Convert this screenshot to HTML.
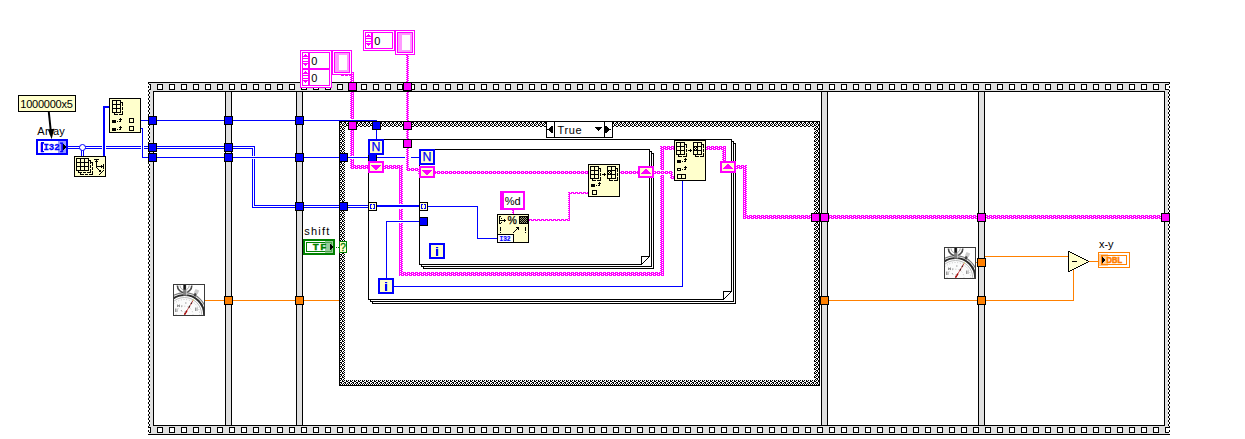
<!DOCTYPE html>
<html lang="en">
<head>
<meta charset="utf-8">
<title>Block diagram</title>
<style>
html,body{margin:0;padding:0;background:#fff;overflow:hidden}
svg{display:block}
text{font-family:"Liberation Sans",sans-serif;white-space:pre}
</style>
</head>
<body>
<svg width="1245" height="439" viewBox="0 0 1245 439">
<g shape-rendering="crispEdges">
<path fill="#000000" d="M148 82h152v1h-152zM332 82h838v1h-838zM148 83h1v1h-1zM348 83h1v7h-1zM356 83h1v7h-1zM403 83h1v1h-1zM411 83h1v1h-1zM1169 83h1v1h-1zM149 84h2v1h-2zM157 84h6v1h-6zM169 84h6v1h-6zM181 84h6v1h-6zM193 84h6v1h-6zM205 84h6v1h-6zM217 84h6v1h-6zM229 84h6v1h-6zM241 84h6v1h-6zM253 84h6v1h-6zM265 84h6v1h-6zM277 84h6v1h-6zM289 84h6v1h-6zM337 84h6v1h-6zM361 84h6v1h-6zM373 84h6v1h-6zM385 84h6v1h-6zM397 84h7v1h-7zM411 84h4v1h-4zM421 84h6v1h-6zM433 84h6v1h-6zM445 84h6v1h-6zM457 84h6v1h-6zM469 84h6v1h-6zM481 84h6v1h-6zM493 84h6v1h-6zM505 84h6v1h-6zM517 84h6v1h-6zM529 84h6v1h-6zM541 84h6v1h-6zM553 84h6v1h-6zM565 84h6v1h-6zM577 84h6v1h-6zM589 84h6v1h-6zM601 84h6v1h-6zM613 84h6v1h-6zM625 84h6v1h-6zM637 84h6v1h-6zM649 84h6v1h-6zM661 84h6v1h-6zM673 84h6v1h-6zM685 84h6v1h-6zM697 84h6v1h-6zM709 84h6v1h-6zM721 84h6v1h-6zM733 84h6v1h-6zM745 84h6v1h-6zM757 84h6v1h-6zM769 84h6v1h-6zM781 84h6v1h-6zM793 84h6v1h-6zM805 84h6v1h-6zM817 84h6v1h-6zM829 84h6v1h-6zM841 84h6v1h-6zM853 84h6v1h-6zM865 84h6v1h-6zM877 84h6v1h-6zM889 84h6v1h-6zM901 84h6v1h-6zM913 84h6v1h-6zM925 84h6v1h-6zM937 84h6v1h-6zM949 84h6v1h-6zM961 84h6v1h-6zM973 84h6v1h-6zM985 84h6v1h-6zM997 84h6v1h-6zM1009 84h6v1h-6zM1021 84h6v1h-6zM1033 84h6v1h-6zM1045 84h6v1h-6zM1057 84h6v1h-6zM1069 84h6v1h-6zM1081 84h6v1h-6zM1093 84h6v1h-6zM1105 84h6v1h-6zM1117 84h6v1h-6zM1129 84h6v1h-6zM1141 84h6v1h-6zM1153 84h6v1h-6zM1165 84h4v1h-4zM150 85h1v4h-1zM157 85h1v4h-1zM162 85h1v4h-1zM169 85h1v4h-1zM174 85h1v4h-1zM181 85h1v4h-1zM186 85h1v4h-1zM193 85h1v4h-1zM198 85h1v4h-1zM205 85h1v4h-1zM210 85h1v4h-1zM217 85h1v4h-1zM222 85h1v4h-1zM229 85h1v4h-1zM234 85h1v4h-1zM241 85h1v4h-1zM246 85h1v4h-1zM253 85h1v4h-1zM258 85h1v4h-1zM265 85h1v4h-1zM270 85h1v4h-1zM277 85h1v4h-1zM282 85h1v4h-1zM289 85h1v4h-1zM294 85h1v4h-1zM337 85h1v4h-1zM342 85h1v4h-1zM361 85h1v4h-1zM366 85h1v4h-1zM373 85h1v4h-1zM378 85h1v4h-1zM385 85h1v4h-1zM390 85h1v4h-1zM397 85h1v4h-1zM402 85h2v4h-2zM411 85h1v4h-1zM414 85h1v4h-1zM421 85h1v4h-1zM426 85h1v4h-1zM433 85h1v4h-1zM438 85h1v4h-1zM445 85h1v4h-1zM450 85h1v4h-1zM457 85h1v4h-1zM462 85h1v4h-1zM469 85h1v4h-1zM474 85h1v4h-1zM481 85h1v4h-1zM486 85h1v4h-1zM493 85h1v4h-1zM498 85h1v4h-1zM505 85h1v4h-1zM510 85h1v4h-1zM517 85h1v4h-1zM522 85h1v4h-1zM529 85h1v4h-1zM534 85h1v4h-1zM541 85h1v4h-1zM546 85h1v4h-1zM553 85h1v4h-1zM558 85h1v4h-1zM565 85h1v4h-1zM570 85h1v4h-1zM577 85h1v4h-1zM582 85h1v4h-1zM589 85h1v4h-1zM594 85h1v4h-1zM601 85h1v4h-1zM606 85h1v4h-1zM613 85h1v4h-1zM618 85h1v4h-1zM625 85h1v4h-1zM630 85h1v4h-1zM637 85h1v4h-1zM642 85h1v4h-1zM649 85h1v4h-1zM654 85h1v4h-1zM661 85h1v4h-1zM666 85h1v4h-1zM673 85h1v4h-1zM678 85h1v4h-1zM685 85h1v4h-1zM690 85h1v4h-1zM697 85h1v4h-1zM702 85h1v4h-1zM709 85h1v4h-1zM714 85h1v4h-1zM721 85h1v4h-1zM726 85h1v4h-1zM733 85h1v4h-1zM738 85h1v4h-1zM745 85h1v4h-1zM750 85h1v4h-1zM757 85h1v4h-1zM762 85h1v4h-1zM769 85h1v4h-1zM774 85h1v4h-1zM781 85h1v4h-1zM786 85h1v4h-1zM793 85h1v4h-1zM798 85h1v4h-1zM805 85h1v4h-1zM810 85h1v4h-1zM817 85h1v4h-1zM822 85h1v4h-1zM829 85h1v4h-1zM834 85h1v4h-1zM841 85h1v4h-1zM846 85h1v4h-1zM853 85h1v4h-1zM858 85h1v4h-1zM865 85h1v4h-1zM870 85h1v4h-1zM877 85h1v4h-1zM882 85h1v4h-1zM889 85h1v4h-1zM894 85h1v4h-1zM901 85h1v4h-1zM906 85h1v4h-1zM913 85h1v4h-1zM918 85h1v4h-1zM925 85h1v4h-1zM930 85h1v4h-1zM937 85h1v4h-1zM942 85h1v4h-1zM949 85h1v4h-1zM954 85h1v4h-1zM961 85h1v4h-1zM966 85h1v4h-1zM973 85h1v4h-1zM978 85h1v4h-1zM985 85h1v4h-1zM990 85h1v4h-1zM997 85h1v4h-1zM1002 85h1v4h-1zM1009 85h1v4h-1zM1014 85h1v4h-1zM1021 85h1v4h-1zM1026 85h1v4h-1zM1033 85h1v4h-1zM1038 85h1v4h-1zM1045 85h1v4h-1zM1050 85h1v4h-1zM1057 85h1v4h-1zM1062 85h1v4h-1zM1069 85h1v4h-1zM1074 85h1v4h-1zM1081 85h1v4h-1zM1086 85h1v4h-1zM1093 85h1v4h-1zM1098 85h1v4h-1zM1105 85h1v4h-1zM1110 85h1v4h-1zM1117 85h1v4h-1zM1122 85h1v4h-1zM1129 85h1v4h-1zM1134 85h1v4h-1zM1141 85h1v4h-1zM1146 85h1v4h-1zM1153 85h1v4h-1zM1158 85h1v4h-1zM1165 85h1v4h-1zM148 86h1v2h-1zM1169 86h1v2h-1zM301 88h1v1h-1zM306 88h1v1h-1zM313 88h1v1h-1zM318 88h1v1h-1zM325 88h1v1h-1zM330 88h1v1h-1zM149 89h2v1h-2zM157 89h6v1h-6zM169 89h6v1h-6zM181 89h6v1h-6zM193 89h6v1h-6zM205 89h6v1h-6zM217 89h6v1h-6zM229 89h6v1h-6zM241 89h6v1h-6zM253 89h6v1h-6zM265 89h6v1h-6zM277 89h6v1h-6zM289 89h6v1h-6zM301 89h6v1h-6zM313 89h6v1h-6zM325 89h6v1h-6zM337 89h6v1h-6zM361 89h6v1h-6zM373 89h6v1h-6zM385 89h6v1h-6zM397 89h7v1h-7zM411 89h4v1h-4zM421 89h6v1h-6zM433 89h6v1h-6zM445 89h6v1h-6zM457 89h6v1h-6zM469 89h6v1h-6zM481 89h6v1h-6zM493 89h6v1h-6zM505 89h6v1h-6zM517 89h6v1h-6zM529 89h6v1h-6zM541 89h6v1h-6zM553 89h6v1h-6zM565 89h6v1h-6zM577 89h6v1h-6zM589 89h6v1h-6zM601 89h6v1h-6zM613 89h6v1h-6zM625 89h6v1h-6zM637 89h6v1h-6zM649 89h6v1h-6zM661 89h6v1h-6zM673 89h6v1h-6zM685 89h6v1h-6zM697 89h6v1h-6zM709 89h6v1h-6zM721 89h6v1h-6zM733 89h6v1h-6zM745 89h6v1h-6zM757 89h6v1h-6zM769 89h6v1h-6zM781 89h6v1h-6zM793 89h6v1h-6zM805 89h6v1h-6zM817 89h6v1h-6zM829 89h6v1h-6zM841 89h6v1h-6zM853 89h6v1h-6zM865 89h6v1h-6zM877 89h6v1h-6zM889 89h6v1h-6zM901 89h6v1h-6zM913 89h6v1h-6zM925 89h6v1h-6zM937 89h6v1h-6zM949 89h6v1h-6zM961 89h6v1h-6zM973 89h6v1h-6zM985 89h6v1h-6zM997 89h6v1h-6zM1009 89h6v1h-6zM1021 89h6v1h-6zM1033 89h6v1h-6zM1045 89h6v1h-6zM1057 89h6v1h-6zM1069 89h6v1h-6zM1081 89h6v1h-6zM1093 89h6v1h-6zM1105 89h6v1h-6zM1117 89h6v1h-6zM1129 89h6v1h-6zM1141 89h6v1h-6zM1153 89h6v1h-6zM1165 89h4v1h-4zM148 90h1v2h-1zM348 90h9v1h-9zM403 90h9v1h-9zM1169 90h1v2h-1zM153 91h1012v1h-1012zM149 92h1v2h-1zM153 92h1v24h-1zM225 92h1v24h-1zM231 92h1v24h-1zM296 92h1v24h-1zM302 92h1v24h-1zM821 92h1v121h-1zM827 92h1v121h-1zM978 92h1v121h-1zM984 92h1v121h-1zM1164 92h1v121h-1zM1168 92h1v2h-1zM148 94h1v2h-1zM1169 94h1v2h-1zM18 95h58v1h-58zM18 96h1v15h-1zM75 96h1v15h-1zM149 96h1v2h-1zM1168 96h1v2h-1zM109 98h32v1h-32zM148 98h1v2h-1zM1169 98h1v2h-1zM109 99h1v33h-1zM140 99h1v33h-1zM112 100h9v1h-9zM149 100h1v2h-1zM1168 100h1v2h-1zM112 101h1v3h-1zM116 101h1v3h-1zM120 101h1v1h-1zM120 102h3v1h-3zM148 102h1v2h-1zM1169 102h1v2h-1zM120 103h1v1h-1zM122 103h1v3h-1zM112 104h9v1h-9zM149 104h1v2h-1zM1168 104h1v2h-1zM112 105h1v3h-1zM116 105h1v3h-1zM120 105h1v3h-1zM148 106h1v2h-1zM1169 106h1v2h-1zM122 107h1v3h-1zM112 108h9v1h-9zM149 108h1v2h-1zM1168 108h1v2h-1zM112 109h1v3h-1zM116 109h1v3h-1zM120 109h1v3h-1zM148 110h1v2h-1zM1169 110h1v2h-1zM18 111h58v1h-58zM122 111h1v3h-1zM112 112h9v1h-9zM149 112h1v2h-1zM1168 112h1v2h-1zM114 113h1v1h-1zM114 114h4v1h-4zM119 114h4v1h-4zM148 114h1v2h-1zM1169 114h1v2h-1zM148 116h9v1h-9zM224 116h9v1h-9zM295 116h9v1h-9zM1168 116h1v2h-1zM148 117h1v7h-1zM156 117h1v7h-1zM224 117h1v7h-1zM232 117h1v7h-1zM295 117h1v7h-1zM303 117h1v7h-1zM120 118h1v1h-1zM129 118h5v1h-5zM1169 118h1v2h-1zM119 119h3v1h-3zM129 119h1v3h-1zM133 119h1v3h-1zM112 120h4v3h-4zM120 120h1v1h-1zM1168 120h1v2h-1zM117 121h1v1h-1zM119 121h2v1h-2zM339 121h481v1h-481zM129 122h5v1h-5zM339 122h3v1h-3zM344 122h2v1h-2zM348 122h1v1h-1zM356 122h2v2h-2zM360 122h2v1h-2zM364 122h2v1h-2zM368 122h2v1h-2zM372 122h1v1h-1zM380 122h2v2h-2zM384 122h2v1h-2zM388 122h2v1h-2zM392 122h2v1h-2zM396 122h2v1h-2zM400 122h2v1h-2zM403 122h1v2h-1zM411 122h3v1h-3zM416 122h2v1h-2zM420 122h2v1h-2zM424 122h2v1h-2zM428 122h2v1h-2zM432 122h2v1h-2zM436 122h2v1h-2zM440 122h2v1h-2zM444 122h2v1h-2zM448 122h2v1h-2zM452 122h2v1h-2zM456 122h2v1h-2zM460 122h2v1h-2zM464 122h2v1h-2zM468 122h2v1h-2zM472 122h2v1h-2zM476 122h2v1h-2zM480 122h2v1h-2zM484 122h2v1h-2zM488 122h2v1h-2zM492 122h2v1h-2zM496 122h2v1h-2zM500 122h2v1h-2zM504 122h2v1h-2zM508 122h2v1h-2zM512 122h2v1h-2zM516 122h2v1h-2zM520 122h2v1h-2zM524 122h2v1h-2zM528 122h2v1h-2zM532 122h2v1h-2zM536 122h2v1h-2zM540 122h2v1h-2zM544 122h3v1h-3zM554 122h1v15h-1zM604 122h1v4h-1zM612 122h2v2h-2zM616 122h2v1h-2zM620 122h2v1h-2zM624 122h2v1h-2zM628 122h2v1h-2zM632 122h2v1h-2zM636 122h2v1h-2zM640 122h2v1h-2zM644 122h2v1h-2zM648 122h2v1h-2zM652 122h2v1h-2zM656 122h2v1h-2zM660 122h2v1h-2zM664 122h2v1h-2zM668 122h2v1h-2zM672 122h2v1h-2zM676 122h2v1h-2zM680 122h2v1h-2zM684 122h2v1h-2zM688 122h2v1h-2zM692 122h2v1h-2zM696 122h2v1h-2zM700 122h2v1h-2zM704 122h2v1h-2zM708 122h2v1h-2zM712 122h2v1h-2zM716 122h2v1h-2zM720 122h2v1h-2zM724 122h2v1h-2zM728 122h2v1h-2zM732 122h2v1h-2zM736 122h2v1h-2zM740 122h2v1h-2zM744 122h2v1h-2zM748 122h2v1h-2zM752 122h2v1h-2zM756 122h2v1h-2zM760 122h2v1h-2zM764 122h2v1h-2zM768 122h2v1h-2zM772 122h2v1h-2zM776 122h2v1h-2zM780 122h2v1h-2zM784 122h2v1h-2zM788 122h2v1h-2zM792 122h2v1h-2zM796 122h2v1h-2zM800 122h2v1h-2zM804 122h2v1h-2zM808 122h2v1h-2zM812 122h2v1h-2zM816 122h2v1h-2zM819 122h1v2h-1zM1169 122h1v2h-1zM339 123h1v1h-1zM341 123h1v1h-1zM343 123h1v1h-1zM345 123h1v1h-1zM347 123h2v1h-2zM359 123h1v1h-1zM361 123h1v1h-1zM363 123h1v1h-1zM365 123h1v1h-1zM367 123h1v1h-1zM369 123h1v1h-1zM371 123h2v1h-2zM383 123h1v1h-1zM385 123h1v1h-1zM387 123h1v1h-1zM389 123h1v1h-1zM391 123h1v1h-1zM393 123h1v1h-1zM395 123h1v1h-1zM397 123h1v1h-1zM399 123h1v1h-1zM401 123h1v1h-1zM411 123h1v1h-1zM413 123h1v1h-1zM415 123h1v1h-1zM417 123h1v1h-1zM419 123h1v1h-1zM421 123h1v1h-1zM423 123h1v1h-1zM425 123h1v1h-1zM427 123h1v1h-1zM429 123h1v1h-1zM431 123h1v1h-1zM433 123h1v1h-1zM435 123h1v1h-1zM437 123h1v1h-1zM439 123h1v1h-1zM441 123h1v1h-1zM443 123h1v1h-1zM445 123h1v1h-1zM447 123h1v1h-1zM449 123h1v1h-1zM451 123h1v1h-1zM453 123h1v1h-1zM455 123h1v1h-1zM457 123h1v1h-1zM459 123h1v1h-1zM461 123h1v1h-1zM463 123h1v1h-1zM465 123h1v1h-1zM467 123h1v1h-1zM469 123h1v1h-1zM471 123h1v1h-1zM473 123h1v1h-1zM475 123h1v1h-1zM477 123h1v1h-1zM479 123h1v1h-1zM481 123h1v1h-1zM483 123h1v1h-1zM485 123h1v1h-1zM487 123h1v1h-1zM489 123h1v1h-1zM491 123h1v1h-1zM493 123h1v1h-1zM495 123h1v1h-1zM497 123h1v1h-1zM499 123h1v1h-1zM501 123h1v1h-1zM503 123h1v1h-1zM505 123h1v1h-1zM507 123h1v1h-1zM509 123h1v1h-1zM511 123h1v1h-1zM513 123h1v1h-1zM515 123h1v1h-1zM517 123h1v1h-1zM519 123h1v1h-1zM521 123h1v1h-1zM523 123h1v1h-1zM525 123h1v1h-1zM527 123h1v1h-1zM529 123h1v1h-1zM531 123h1v1h-1zM533 123h1v1h-1zM535 123h1v1h-1zM537 123h1v1h-1zM539 123h1v1h-1zM541 123h1v1h-1zM543 123h1v1h-1zM545 123h2v1h-2zM615 123h1v1h-1zM617 123h1v1h-1zM619 123h1v1h-1zM621 123h1v1h-1zM623 123h1v1h-1zM625 123h1v1h-1zM627 123h1v1h-1zM629 123h1v1h-1zM631 123h1v1h-1zM633 123h1v1h-1zM635 123h1v1h-1zM637 123h1v1h-1zM639 123h1v1h-1zM641 123h1v1h-1zM643 123h1v1h-1zM645 123h1v1h-1zM647 123h1v1h-1zM649 123h1v1h-1zM651 123h1v1h-1zM653 123h1v1h-1zM655 123h1v1h-1zM657 123h1v1h-1zM659 123h1v1h-1zM661 123h1v1h-1zM663 123h1v1h-1zM665 123h1v1h-1zM667 123h1v1h-1zM669 123h1v1h-1zM671 123h1v1h-1zM673 123h1v1h-1zM675 123h1v1h-1zM677 123h1v1h-1zM679 123h1v1h-1zM681 123h1v1h-1zM683 123h1v1h-1zM685 123h1v1h-1zM687 123h1v1h-1zM689 123h1v1h-1zM691 123h1v1h-1zM693 123h1v1h-1zM695 123h1v1h-1zM697 123h1v1h-1zM699 123h1v1h-1zM701 123h1v1h-1zM703 123h1v1h-1zM705 123h1v1h-1zM707 123h1v1h-1zM709 123h1v1h-1zM711 123h1v1h-1zM713 123h1v1h-1zM715 123h1v1h-1zM717 123h1v1h-1zM719 123h1v1h-1zM721 123h1v1h-1zM723 123h1v1h-1zM725 123h1v1h-1zM727 123h1v1h-1zM729 123h1v1h-1zM731 123h1v1h-1zM733 123h1v1h-1zM735 123h1v1h-1zM737 123h1v1h-1zM739 123h1v1h-1zM741 123h1v1h-1zM743 123h1v1h-1zM745 123h1v1h-1zM747 123h1v1h-1zM749 123h1v1h-1zM751 123h1v1h-1zM753 123h1v1h-1zM755 123h1v1h-1zM757 123h1v1h-1zM759 123h1v1h-1zM761 123h1v1h-1zM763 123h1v1h-1zM765 123h1v1h-1zM767 123h1v1h-1zM769 123h1v1h-1zM771 123h1v1h-1zM773 123h1v1h-1zM775 123h1v1h-1zM777 123h1v1h-1zM779 123h1v1h-1zM781 123h1v1h-1zM783 123h1v1h-1zM785 123h1v1h-1zM787 123h1v1h-1zM789 123h1v1h-1zM791 123h1v1h-1zM793 123h1v1h-1zM795 123h1v1h-1zM797 123h1v1h-1zM799 123h1v1h-1zM801 123h1v1h-1zM803 123h1v1h-1zM805 123h1v1h-1zM807 123h1v1h-1zM809 123h1v1h-1zM811 123h1v1h-1zM813 123h1v1h-1zM815 123h1v1h-1zM817 123h1v1h-1zM148 124h9v1h-9zM224 124h9v1h-9zM295 124h9v1h-9zM339 124h2v1h-2zM342 124h1v1h-1zM344 124h1v1h-1zM346 124h1v1h-1zM348 124h1v1h-1zM356 124h1v2h-1zM358 124h1v1h-1zM360 124h1v1h-1zM362 124h1v1h-1zM364 124h1v1h-1zM366 124h1v1h-1zM368 124h1v1h-1zM370 124h1v1h-1zM372 124h1v1h-1zM380 124h1v2h-1zM382 124h1v1h-1zM384 124h1v1h-1zM386 124h1v1h-1zM388 124h1v1h-1zM390 124h1v1h-1zM392 124h1v1h-1zM394 124h1v1h-1zM396 124h1v1h-1zM398 124h1v1h-1zM400 124h1v1h-1zM402 124h2v2h-2zM411 124h2v1h-2zM414 124h1v1h-1zM416 124h1v1h-1zM418 124h1v1h-1zM420 124h1v1h-1zM422 124h1v1h-1zM424 124h1v1h-1zM426 124h1v1h-1zM428 124h1v1h-1zM430 124h1v1h-1zM432 124h1v1h-1zM434 124h1v1h-1zM436 124h1v1h-1zM438 124h1v1h-1zM440 124h1v1h-1zM442 124h1v1h-1zM444 124h1v1h-1zM446 124h1v1h-1zM448 124h1v1h-1zM450 124h1v1h-1zM452 124h1v1h-1zM454 124h1v1h-1zM456 124h1v1h-1zM458 124h1v1h-1zM460 124h1v1h-1zM462 124h1v1h-1zM464 124h1v1h-1zM466 124h1v1h-1zM468 124h1v1h-1zM470 124h1v1h-1zM472 124h1v1h-1zM474 124h1v1h-1zM476 124h1v1h-1zM478 124h1v1h-1zM480 124h1v1h-1zM482 124h1v1h-1zM484 124h1v1h-1zM486 124h1v1h-1zM488 124h1v1h-1zM490 124h1v1h-1zM492 124h1v1h-1zM494 124h1v1h-1zM496 124h1v1h-1zM498 124h1v1h-1zM500 124h1v1h-1zM502 124h1v1h-1zM504 124h1v1h-1zM506 124h1v1h-1zM508 124h1v1h-1zM510 124h1v1h-1zM512 124h1v1h-1zM514 124h1v1h-1zM516 124h1v1h-1zM518 124h1v1h-1zM520 124h1v1h-1zM522 124h1v1h-1zM524 124h1v1h-1zM526 124h1v1h-1zM528 124h1v1h-1zM530 124h1v1h-1zM532 124h1v1h-1zM534 124h1v1h-1zM536 124h1v1h-1zM538 124h1v1h-1zM540 124h1v1h-1zM542 124h1v1h-1zM544 124h1v1h-1zM546 124h1v2h-1zM612 124h1v2h-1zM614 124h1v1h-1zM616 124h1v1h-1zM618 124h1v1h-1zM620 124h1v1h-1zM622 124h1v1h-1zM624 124h1v1h-1zM626 124h1v1h-1zM628 124h1v1h-1zM630 124h1v1h-1zM632 124h1v1h-1zM634 124h1v1h-1zM636 124h1v1h-1zM638 124h1v1h-1zM640 124h1v1h-1zM642 124h1v1h-1zM644 124h1v1h-1zM646 124h1v1h-1zM648 124h1v1h-1zM650 124h1v1h-1zM652 124h1v1h-1zM654 124h1v1h-1zM656 124h1v1h-1zM658 124h1v1h-1zM660 124h1v1h-1zM662 124h1v1h-1zM664 124h1v1h-1zM666 124h1v1h-1zM668 124h1v1h-1zM670 124h1v1h-1zM672 124h1v1h-1zM674 124h1v1h-1zM676 124h1v1h-1zM678 124h1v1h-1zM680 124h1v1h-1zM682 124h1v1h-1zM684 124h1v1h-1zM686 124h1v1h-1zM688 124h1v1h-1zM690 124h1v1h-1zM692 124h1v1h-1zM694 124h1v1h-1zM696 124h1v1h-1zM698 124h1v1h-1zM700 124h1v1h-1zM702 124h1v1h-1zM704 124h1v1h-1zM706 124h1v1h-1zM708 124h1v1h-1zM710 124h1v1h-1zM712 124h1v1h-1zM714 124h1v1h-1zM716 124h1v1h-1zM718 124h1v1h-1zM720 124h1v1h-1zM722 124h1v1h-1zM724 124h1v1h-1zM726 124h1v1h-1zM728 124h1v1h-1zM730 124h1v1h-1zM732 124h1v1h-1zM734 124h1v1h-1zM736 124h1v1h-1zM738 124h1v1h-1zM740 124h1v1h-1zM742 124h1v1h-1zM744 124h1v1h-1zM746 124h1v1h-1zM748 124h1v1h-1zM750 124h1v1h-1zM752 124h1v1h-1zM754 124h1v1h-1zM756 124h1v1h-1zM758 124h1v1h-1zM760 124h1v1h-1zM762 124h1v1h-1zM764 124h1v1h-1zM766 124h1v1h-1zM768 124h1v1h-1zM770 124h1v1h-1zM772 124h1v1h-1zM774 124h1v1h-1zM776 124h1v1h-1zM778 124h1v1h-1zM780 124h1v1h-1zM782 124h1v1h-1zM784 124h1v1h-1zM786 124h1v1h-1zM788 124h1v1h-1zM790 124h1v1h-1zM792 124h1v1h-1zM794 124h1v1h-1zM796 124h1v1h-1zM798 124h1v1h-1zM800 124h1v1h-1zM802 124h1v1h-1zM804 124h1v1h-1zM806 124h1v1h-1zM808 124h1v1h-1zM810 124h1v1h-1zM812 124h1v1h-1zM814 124h1v1h-1zM816 124h1v1h-1zM818 124h2v2h-2zM1168 124h1v2h-1zM149 125h1v1h-1zM153 125h1v18h-1zM225 125h1v18h-1zM231 125h1v18h-1zM296 125h1v28h-1zM302 125h1v28h-1zM339 125h1v1h-1zM342 125h2v1h-2zM346 125h3v1h-3zM358 125h2v1h-2zM362 125h2v1h-2zM366 125h2v1h-2zM370 125h3v1h-3zM382 125h2v1h-2zM386 125h2v1h-2zM390 125h2v1h-2zM394 125h2v1h-2zM398 125h2v1h-2zM411 125h1v1h-1zM414 125h2v1h-2zM418 125h2v1h-2zM422 125h2v1h-2zM426 125h2v1h-2zM430 125h2v1h-2zM434 125h2v1h-2zM438 125h2v1h-2zM442 125h2v1h-2zM446 125h2v1h-2zM450 125h2v1h-2zM454 125h2v1h-2zM458 125h2v1h-2zM462 125h2v1h-2zM466 125h2v1h-2zM470 125h2v1h-2zM474 125h2v1h-2zM478 125h2v1h-2zM482 125h2v1h-2zM486 125h2v1h-2zM490 125h2v1h-2zM494 125h2v1h-2zM498 125h2v1h-2zM502 125h2v1h-2zM506 125h2v1h-2zM510 125h2v1h-2zM514 125h2v1h-2zM518 125h2v1h-2zM522 125h2v1h-2zM526 125h2v1h-2zM530 125h2v1h-2zM534 125h2v1h-2zM538 125h2v1h-2zM542 125h2v1h-2zM614 125h2v1h-2zM618 125h2v1h-2zM622 125h2v1h-2zM626 125h2v1h-2zM630 125h2v1h-2zM634 125h2v1h-2zM638 125h2v1h-2zM642 125h2v1h-2zM646 125h2v1h-2zM650 125h2v1h-2zM654 125h2v1h-2zM658 125h2v1h-2zM662 125h2v1h-2zM666 125h2v1h-2zM670 125h2v1h-2zM674 125h2v1h-2zM678 125h2v1h-2zM682 125h2v1h-2zM686 125h2v1h-2zM690 125h2v1h-2zM694 125h2v1h-2zM698 125h2v1h-2zM702 125h2v1h-2zM706 125h2v1h-2zM710 125h2v1h-2zM714 125h2v1h-2zM718 125h2v1h-2zM722 125h2v1h-2zM726 125h2v1h-2zM730 125h2v1h-2zM734 125h2v1h-2zM738 125h2v1h-2zM742 125h2v1h-2zM746 125h2v1h-2zM750 125h2v1h-2zM754 125h2v1h-2zM758 125h2v1h-2zM762 125h2v1h-2zM766 125h2v1h-2zM770 125h2v1h-2zM774 125h2v1h-2zM778 125h2v1h-2zM782 125h2v1h-2zM786 125h2v1h-2zM790 125h2v1h-2zM794 125h2v1h-2zM798 125h2v1h-2zM802 125h2v1h-2zM806 125h2v1h-2zM810 125h2v1h-2zM814 125h2v1h-2zM120 126h1v1h-1zM129 126h5v1h-5zM148 126h1v2h-1zM339 126h3v1h-3zM344 126h2v1h-2zM348 126h1v3h-1zM356 126h2v1h-2zM360 126h2v1h-2zM364 126h2v1h-2zM368 126h2v1h-2zM372 126h1v3h-1zM380 126h2v1h-2zM384 126h2v1h-2zM388 126h2v1h-2zM392 126h2v1h-2zM396 126h2v1h-2zM400 126h2v1h-2zM403 126h1v3h-1zM411 126h3v1h-3zM416 126h2v1h-2zM420 126h2v1h-2zM424 126h2v1h-2zM428 126h2v1h-2zM432 126h2v1h-2zM436 126h2v1h-2zM440 126h2v1h-2zM444 126h2v1h-2zM448 126h2v1h-2zM452 126h2v1h-2zM456 126h2v1h-2zM460 126h2v1h-2zM464 126h2v1h-2zM468 126h2v1h-2zM472 126h2v1h-2zM476 126h2v1h-2zM480 126h2v1h-2zM484 126h2v1h-2zM488 126h2v1h-2zM492 126h2v1h-2zM496 126h2v1h-2zM500 126h2v1h-2zM504 126h2v1h-2zM508 126h2v1h-2zM512 126h2v1h-2zM516 126h2v1h-2zM520 126h2v1h-2zM524 126h2v1h-2zM528 126h2v1h-2zM532 126h2v1h-2zM536 126h2v1h-2zM540 126h2v1h-2zM544 126h3v1h-3zM551 126h2v1h-2zM604 126h3v1h-3zM612 126h2v1h-2zM616 126h2v1h-2zM620 126h2v1h-2zM624 126h2v1h-2zM628 126h2v1h-2zM632 126h2v1h-2zM636 126h2v1h-2zM640 126h2v1h-2zM644 126h2v1h-2zM648 126h2v1h-2zM652 126h2v1h-2zM656 126h2v1h-2zM660 126h2v1h-2zM664 126h2v1h-2zM668 126h2v1h-2zM672 126h2v1h-2zM676 126h2v1h-2zM680 126h2v1h-2zM684 126h2v1h-2zM688 126h2v1h-2zM692 126h2v1h-2zM696 126h2v1h-2zM700 126h2v1h-2zM704 126h2v1h-2zM708 126h2v1h-2zM712 126h2v1h-2zM716 126h2v1h-2zM720 126h2v1h-2zM724 126h2v1h-2zM728 126h2v1h-2zM732 126h2v1h-2zM736 126h2v1h-2zM740 126h2v1h-2zM744 126h2v1h-2zM748 126h2v1h-2zM752 126h2v1h-2zM756 126h2v1h-2zM760 126h2v1h-2zM764 126h2v1h-2zM768 126h2v1h-2zM772 126h2v1h-2zM776 126h2v1h-2zM780 126h2v1h-2zM784 126h2v1h-2zM788 126h2v1h-2zM792 126h2v1h-2zM796 126h2v1h-2zM800 126h2v1h-2zM804 126h2v1h-2zM808 126h2v1h-2zM812 126h2v1h-2zM816 126h2v1h-2zM819 126h1v2h-1zM1169 126h1v2h-1zM119 127h3v1h-3zM129 127h1v3h-1zM133 127h1v3h-1zM339 127h1v1h-1zM341 127h1v1h-1zM343 127h1v1h-1zM356 127h1v2h-1zM380 127h1v2h-1zM411 127h1v2h-1zM546 127h1v2h-1zM550 127h3v1h-3zM595 127h7v1h-7zM604 127h4v1h-4zM612 127h1v10h-1zM815 127h1v1h-1zM817 127h1v1h-1zM112 128h4v3h-4zM120 128h1v1h-1zM149 128h1v2h-1zM339 128h2v1h-2zM342 128h1v1h-1zM344 128h1v1h-1zM549 128h4v1h-4zM596 128h5v1h-5zM604 128h5v1h-5zM814 128h1v1h-1zM816 128h1v1h-1zM818 128h2v2h-2zM1168 128h1v2h-1zM117 129h1v1h-1zM119 129h2v1h-2zM339 129h1v1h-1zM342 129h2v1h-2zM348 129h9v1h-9zM372 129h9v1h-9zM403 129h9v1h-9zM546 129h7v1h-7zM597 129h3v1h-3zM604 129h7v1h-7zM814 129h2v1h-2zM129 130h5v1h-5zM148 130h1v2h-1zM339 130h3v1h-3zM344 130h1v1h-1zM546 130h1v7h-1zM549 130h4v1h-4zM598 130h1v1h-1zM604 130h5v1h-5zM816 130h2v1h-2zM819 130h1v2h-1zM1169 130h1v2h-1zM339 131h1v1h-1zM341 131h1v1h-1zM343 131h1v1h-1zM550 131h3v1h-3zM604 131h4v1h-4zM815 131h1v1h-1zM817 131h1v1h-1zM109 132h32v1h-32zM149 132h1v2h-1zM339 132h2v1h-2zM342 132h1v1h-1zM344 132h1v1h-1zM551 132h2v1h-2zM604 132h3v1h-3zM814 132h1v1h-1zM816 132h1v1h-1zM818 132h2v2h-2zM1168 132h1v2h-1zM339 133h1v1h-1zM342 133h2v1h-2zM604 133h1v4h-1zM814 133h2v1h-2zM148 134h1v2h-1zM339 134h3v1h-3zM344 134h1v1h-1zM816 134h2v1h-2zM819 134h1v2h-1zM1169 134h1v2h-1zM339 135h1v1h-1zM341 135h1v1h-1zM343 135h1v1h-1zM815 135h1v1h-1zM817 135h1v1h-1zM149 136h1v2h-1zM339 136h2v1h-2zM342 136h1v1h-1zM344 136h1v1h-1zM814 136h1v1h-1zM816 136h1v1h-1zM818 136h2v2h-2zM1168 136h1v2h-1zM339 137h1v1h-1zM342 137h2v1h-2zM546 137h67v1h-67zM814 137h2v1h-2zM148 138h1v2h-1zM339 138h3v1h-3zM344 138h1v1h-1zM816 138h2v1h-2zM819 138h1v2h-1zM1169 138h1v2h-1zM339 139h1v1h-1zM341 139h1v1h-1zM343 139h1v1h-1zM384 139h348v1h-348zM815 139h1v1h-1zM817 139h1v1h-1zM149 140h1v2h-1zM339 140h2v1h-2zM342 140h1v1h-1zM344 140h1v1h-1zM403 140h1v7h-1zM411 140h1v7h-1zM674 140h32v1h-32zM731 140h1v1h-1zM814 140h1v1h-1zM816 140h1v1h-1zM818 140h2v2h-2zM1168 140h1v2h-1zM339 141h1v1h-1zM342 141h2v1h-2zM674 141h1v39h-1zM705 141h1v39h-1zM731 141h3v1h-3zM814 141h2v1h-2zM148 142h1v1h-1zM339 142h3v1h-3zM344 142h1v1h-1zM676 142h9v1h-9zM693 142h9v1h-9zM731 142h1v19h-1zM733 142h1v1h-1zM816 142h2v1h-2zM819 142h1v2h-1zM1169 142h1v2h-1zM148 143h9v1h-9zM224 143h9v1h-9zM339 143h1v1h-1zM341 143h1v1h-1zM343 143h1v1h-1zM676 143h1v3h-1zM680 143h1v3h-1zM684 143h1v1h-1zM693 143h1v3h-1zM697 143h1v3h-1zM701 143h1v1h-1zM733 143h3v1h-3zM815 143h1v1h-1zM817 143h1v1h-1zM63 144h1v1h-1zM148 144h1v7h-1zM156 144h1v7h-1zM224 144h1v7h-1zM232 144h1v7h-1zM339 144h2v1h-2zM342 144h1v1h-1zM344 144h1v1h-1zM684 144h3v1h-3zM701 144h3v1h-3zM733 144h1v17h-1zM735 144h1v17h-1zM814 144h1v1h-1zM816 144h1v1h-1zM818 144h2v2h-2zM1168 144h1v2h-1zM63 145h2v1h-2zM339 145h1v1h-1zM342 145h2v1h-2zM684 145h1v1h-1zM686 145h1v3h-1zM701 145h1v1h-1zM703 145h1v3h-1zM814 145h2v1h-2zM63 146h3v2h-3zM339 146h3v1h-3zM344 146h1v1h-1zM676 146h9v1h-9zM693 146h9v1h-9zM816 146h2v1h-2zM819 146h1v2h-1zM1169 146h1v2h-1zM339 147h1v1h-1zM341 147h1v1h-1zM343 147h1v1h-1zM403 147h9v1h-9zM676 147h1v3h-1zM680 147h1v3h-1zM684 147h1v3h-1zM693 147h2v1h-2zM696 147h2v1h-2zM701 147h1v3h-1zM815 147h1v1h-1zM817 147h1v1h-1zM63 148h2v1h-2zM339 148h2v1h-2zM342 148h1v1h-1zM344 148h1v1h-1zM693 148h1v1h-1zM695 148h1v1h-1zM697 148h1v1h-1zM814 148h1v1h-1zM816 148h1v1h-1zM818 148h2v2h-2zM1168 148h1v2h-1zM63 149h1v1h-1zM339 149h1v1h-1zM342 149h2v1h-2zM435 149h215v1h-215zM686 149h1v3h-1zM690 149h1v1h-1zM693 149h2v1h-2zM696 149h2v1h-2zM703 149h1v3h-1zM814 149h2v1h-2zM339 150h3v1h-3zM344 150h1v1h-1zM649 150h1v1h-1zM676 150h9v1h-9zM688 150h4v1h-4zM693 150h9v1h-9zM816 150h2v1h-2zM819 150h1v2h-1zM1169 150h1v2h-1zM148 151h9v1h-9zM224 151h9v1h-9zM339 151h1v1h-1zM341 151h1v1h-1zM343 151h1v1h-1zM649 151h3v1h-3zM676 151h1v3h-1zM680 151h1v3h-1zM684 151h1v3h-1zM690 151h1v1h-1zM693 151h1v3h-1zM697 151h1v3h-1zM701 151h1v3h-1zM815 151h1v1h-1zM817 151h1v1h-1zM149 152h1v1h-1zM153 152h1v1h-1zM225 152h1v1h-1zM231 152h1v1h-1zM339 152h2v1h-2zM342 152h1v1h-1zM344 152h1v1h-1zM649 152h1v14h-1zM651 152h1v1h-1zM814 152h1v1h-1zM816 152h1v1h-1zM818 152h2v2h-2zM1168 152h1v2h-1zM148 153h9v1h-9zM224 153h9v1h-9zM295 153h9v1h-9zM339 153h9v1h-9zM651 153h3v1h-3zM686 153h1v3h-1zM703 153h1v3h-1zM814 153h2v1h-2zM148 154h1v7h-1zM156 154h1v7h-1zM224 154h1v7h-1zM232 154h1v7h-1zM295 154h1v7h-1zM303 154h1v7h-1zM339 154h1v7h-1zM347 154h1v7h-1zM651 154h1v12h-1zM653 154h1v12h-1zM676 154h9v1h-9zM693 154h9v1h-9zM816 154h2v1h-2zM819 154h1v2h-1zM1169 154h1v2h-1zM368 155h1v6h-1zM376 155h1v6h-1zM678 155h1v1h-1zM695 155h1v1h-1zM815 155h1v1h-1zM817 155h1v1h-1zM74 156h32v1h-32zM678 156h4v1h-4zM683 156h4v1h-4zM695 156h4v1h-4zM700 156h4v1h-4zM814 156h1v1h-1zM816 156h1v1h-1zM818 156h2v2h-2zM1168 156h1v2h-1zM74 157h1v19h-1zM105 157h1v19h-1zM814 157h2v1h-2zM76 158h13v1h-13zM685 158h1v1h-1zM816 158h2v1h-2zM819 158h1v2h-1zM1169 158h1v2h-1zM76 159h1v3h-1zM80 159h1v3h-1zM84 159h1v3h-1zM88 159h1v1h-1zM94 159h5v1h-5zM684 159h3v1h-3zM815 159h1v1h-1zM817 159h1v1h-1zM88 160h3v1h-3zM96 160h1v1h-1zM677 160h4v3h-4zM685 160h1v1h-1zM814 160h1v1h-1zM816 160h1v1h-1zM818 160h2v2h-2zM1168 160h1v2h-1zM88 161h1v1h-1zM90 161h1v1h-1zM95 161h3v1h-3zM148 161h9v1h-9zM224 161h9v1h-9zM295 161h9v1h-9zM339 161h9v1h-9zM682 161h1v1h-1zM684 161h2v1h-2zM814 161h2v1h-2zM76 162h13v1h-13zM90 162h3v1h-3zM96 162h1v4h-1zM148 162h1v2h-1zM153 162h1v263h-1zM225 162h1v134h-1zM231 162h1v134h-1zM296 162h1v40h-1zM302 162h1v40h-1zM339 162h3v1h-3zM344 162h1v1h-1zM816 162h2v1h-2zM819 162h1v2h-1zM1169 162h1v2h-1zM76 163h1v3h-1zM80 163h1v3h-1zM84 163h1v3h-1zM88 163h1v3h-1zM90 163h1v1h-1zM92 163h1v3h-1zM339 163h1v1h-1zM341 163h1v1h-1zM343 163h1v1h-1zM815 163h1v1h-1zM817 163h1v1h-1zM103 164h1v2h-1zM149 164h1v2h-1zM339 164h2v1h-2zM342 164h1v1h-1zM344 164h1v1h-1zM588 164h32v1h-32zM814 164h1v1h-1zM816 164h1v1h-1zM818 164h2v2h-2zM1168 164h1v2h-1zM90 165h1v3h-1zM101 165h1v1h-1zM339 165h1v1h-1zM342 165h2v1h-2zM419 165h1v1h-1zM588 165h1v31h-1zM619 165h1v31h-1zM814 165h2v1h-2zM76 166h13v1h-13zM96 166h8v1h-8zM148 166h1v2h-1zM339 166h3v1h-3zM344 166h1v1h-1zM590 166h9v1h-9zM607 166h9v1h-9zM685 166h1v1h-1zM816 166h2v1h-2zM819 166h1v2h-1zM1169 166h1v2h-1zM76 167h1v3h-1zM80 167h1v3h-1zM84 167h1v3h-1zM88 167h1v3h-1zM92 167h1v3h-1zM96 167h1v1h-1zM101 167h1v1h-1zM103 167h1v2h-1zM339 167h1v1h-1zM341 167h1v1h-1zM343 167h1v1h-1zM590 167h1v3h-1zM594 167h1v3h-1zM598 167h1v1h-1zM607 167h1v3h-1zM611 167h1v3h-1zM615 167h1v1h-1zM684 167h3v1h-3zM815 167h1v1h-1zM817 167h1v1h-1zM97 168h1v1h-1zM149 168h1v2h-1zM339 168h2v1h-2zM342 168h1v1h-1zM344 168h1v1h-1zM598 168h3v1h-3zM615 168h3v1h-3zM677 168h4v1h-4zM685 168h1v1h-1zM814 168h1v1h-1zM816 168h1v1h-1zM818 168h2v2h-2zM1168 168h1v2h-1zM90 169h1v3h-1zM98 169h1v1h-1zM339 169h1v1h-1zM342 169h2v1h-2zM598 169h1v1h-1zM600 169h1v3h-1zM615 169h1v1h-1zM617 169h1v3h-1zM677 169h1v1h-1zM680 169h1v1h-1zM682 169h1v1h-1zM684 169h2v1h-2zM814 169h2v1h-2zM76 170h13v1h-13zM99 170h2v2h-2zM103 170h1v1h-1zM148 170h1v2h-1zM339 170h3v1h-3zM344 170h1v1h-1zM590 170h9v1h-9zM607 170h9v1h-9zM677 170h4v1h-4zM816 170h2v1h-2zM819 170h1v2h-1zM1169 170h1v2h-1zM78 171h1v1h-1zM92 171h1v3h-1zM102 171h1v1h-1zM339 171h1v1h-1zM341 171h1v1h-1zM343 171h1v1h-1zM590 171h1v3h-1zM594 171h1v3h-1zM598 171h1v3h-1zM607 171h2v1h-2zM610 171h2v1h-2zM615 171h1v3h-1zM815 171h1v1h-1zM817 171h1v1h-1zM78 172h4v1h-4zM83 172h3v1h-3zM87 172h4v1h-4zM101 172h1v1h-1zM149 172h1v2h-1zM339 172h2v1h-2zM342 172h1v1h-1zM344 172h1v1h-1zM607 172h1v1h-1zM609 172h1v1h-1zM611 172h1v1h-1zM814 172h1v1h-1zM816 172h1v1h-1zM818 172h2v2h-2zM1168 172h1v2h-1zM80 173h1v1h-1zM100 173h1v1h-1zM339 173h1v1h-1zM342 173h2v1h-2zM368 173h1v29h-1zM600 173h1v3h-1zM604 173h1v1h-1zM607 173h2v1h-2zM610 173h2v1h-2zM617 173h1v3h-1zM731 173h1v118h-1zM733 173h1v128h-1zM735 173h1v130h-1zM814 173h2v1h-2zM80 174h4v1h-4zM85 174h3v1h-3zM89 174h4v1h-4zM99 174h1v1h-1zM148 174h1v2h-1zM339 174h3v1h-3zM344 174h1v1h-1zM590 174h9v1h-9zM602 174h4v1h-4zM607 174h9v1h-9zM677 174h9v1h-9zM816 174h2v1h-2zM819 174h1v2h-1zM1169 174h1v2h-1zM339 175h1v1h-1zM341 175h1v1h-1zM343 175h1v1h-1zM590 175h1v3h-1zM594 175h1v3h-1zM598 175h1v3h-1zM604 175h1v1h-1zM607 175h1v3h-1zM611 175h1v3h-1zM615 175h1v3h-1zM677 175h1v3h-1zM681 175h1v3h-1zM685 175h1v3h-1zM815 175h1v1h-1zM817 175h1v1h-1zM74 176h32v1h-32zM149 176h1v2h-1zM339 176h2v1h-2zM342 176h1v1h-1zM344 176h1v1h-1zM814 176h1v1h-1zM816 176h1v1h-1zM818 176h2v2h-2zM1168 176h1v2h-1zM339 177h1v1h-1zM342 177h2v1h-2zM600 177h1v3h-1zM617 177h1v3h-1zM814 177h2v1h-2zM148 178h1v2h-1zM339 178h3v1h-3zM344 178h1v1h-1zM419 178h1v24h-1zM590 178h9v1h-9zM607 178h9v1h-9zM649 178h1v78h-1zM651 178h1v88h-1zM653 178h1v90h-1zM677 178h9v1h-9zM816 178h2v1h-2zM819 178h1v2h-1zM1169 178h1v2h-1zM339 179h1v1h-1zM341 179h1v1h-1zM343 179h1v1h-1zM592 179h1v1h-1zM609 179h1v1h-1zM815 179h1v1h-1zM817 179h1v1h-1zM149 180h1v2h-1zM339 180h2v1h-2zM342 180h1v1h-1zM344 180h1v1h-1zM592 180h4v1h-4zM597 180h4v1h-4zM609 180h4v1h-4zM614 180h4v1h-4zM674 180h32v1h-32zM814 180h1v1h-1zM816 180h1v1h-1zM818 180h2v2h-2zM1168 180h1v2h-1zM339 181h1v1h-1zM342 181h2v1h-2zM814 181h2v1h-2zM148 182h1v2h-1zM339 182h3v1h-3zM344 182h1v1h-1zM599 182h1v1h-1zM816 182h2v1h-2zM819 182h1v2h-1zM1169 182h1v2h-1zM339 183h1v1h-1zM341 183h1v1h-1zM343 183h1v1h-1zM598 183h3v1h-3zM815 183h1v1h-1zM817 183h1v1h-1zM149 184h1v2h-1zM339 184h2v1h-2zM342 184h1v1h-1zM344 184h1v1h-1zM591 184h4v3h-4zM599 184h1v1h-1zM814 184h1v1h-1zM816 184h1v1h-1zM818 184h2v2h-2zM1168 184h1v2h-1zM339 185h1v1h-1zM342 185h2v1h-2zM596 185h1v1h-1zM598 185h2v1h-2zM814 185h2v1h-2zM148 186h1v2h-1zM339 186h3v1h-3zM344 186h1v1h-1zM816 186h2v1h-2zM819 186h1v2h-1zM1169 186h1v2h-1zM339 187h1v1h-1zM341 187h1v1h-1zM343 187h1v1h-1zM815 187h1v1h-1zM817 187h1v1h-1zM149 188h1v2h-1zM339 188h2v1h-2zM342 188h1v1h-1zM344 188h1v1h-1zM814 188h1v1h-1zM816 188h1v1h-1zM818 188h2v2h-2zM1168 188h1v2h-1zM339 189h1v1h-1zM342 189h2v1h-2zM814 189h2v1h-2zM148 190h1v2h-1zM339 190h3v1h-3zM344 190h1v1h-1zM592 190h5v1h-5zM816 190h2v1h-2zM819 190h1v2h-1zM1169 190h1v2h-1zM339 191h1v1h-1zM341 191h1v1h-1zM343 191h1v1h-1zM592 191h1v3h-1zM596 191h1v3h-1zM815 191h1v1h-1zM817 191h1v1h-1zM149 192h1v2h-1zM339 192h2v1h-2zM342 192h1v1h-1zM344 192h1v1h-1zM814 192h1v1h-1zM816 192h1v1h-1zM818 192h2v2h-2zM1168 192h1v2h-1zM339 193h1v1h-1zM342 193h2v1h-2zM814 193h2v1h-2zM148 194h1v2h-1zM339 194h3v1h-3zM344 194h1v1h-1zM592 194h5v1h-5zM816 194h2v1h-2zM819 194h1v2h-1zM1169 194h1v2h-1zM339 195h1v1h-1zM341 195h1v1h-1zM343 195h1v1h-1zM815 195h1v1h-1zM817 195h1v1h-1zM149 196h1v2h-1zM339 196h2v1h-2zM342 196h1v1h-1zM344 196h1v1h-1zM588 196h32v1h-32zM814 196h1v1h-1zM816 196h1v1h-1zM818 196h2v2h-2zM1168 196h1v2h-1zM339 197h1v1h-1zM342 197h2v1h-2zM814 197h2v1h-2zM148 198h1v2h-1zM339 198h3v1h-3zM344 198h1v1h-1zM816 198h2v1h-2zM819 198h1v2h-1zM1169 198h1v2h-1zM339 199h1v1h-1zM341 199h1v1h-1zM343 199h1v1h-1zM815 199h1v1h-1zM817 199h1v1h-1zM149 200h1v2h-1zM339 200h2v1h-2zM342 200h1v1h-1zM344 200h1v1h-1zM814 200h1v1h-1zM816 200h1v1h-1zM818 200h2v2h-2zM1168 200h1v2h-1zM339 201h1v1h-1zM342 201h2v1h-2zM814 201h2v1h-2zM148 202h1v2h-1zM295 202h9v1h-9zM339 202h9v1h-9zM368 202h9v1h-9zM419 202h9v1h-9zM816 202h2v1h-2zM819 202h1v2h-1zM1169 202h1v2h-1zM295 203h1v7h-1zM303 203h1v7h-1zM339 203h1v7h-1zM347 203h1v7h-1zM368 203h1v7h-1zM376 203h1v7h-1zM419 203h1v7h-1zM427 203h1v7h-1zM815 203h1v1h-1zM817 203h1v1h-1zM149 204h1v2h-1zM814 204h1v1h-1zM816 204h1v1h-1zM818 204h2v2h-2zM1168 204h1v2h-1zM814 205h2v1h-2zM148 206h1v2h-1zM816 206h2v1h-2zM819 206h1v2h-1zM1169 206h1v2h-1zM815 207h1v1h-1zM817 207h1v1h-1zM149 208h1v2h-1zM814 208h1v1h-1zM816 208h1v1h-1zM818 208h2v2h-2zM1168 208h1v2h-1zM814 209h2v1h-2zM148 210h1v2h-1zM295 210h9v1h-9zM339 210h9v1h-9zM368 210h9v1h-9zM419 210h9v1h-9zM816 210h2v1h-2zM819 210h1v2h-1zM1169 210h1v2h-1zM296 211h1v85h-1zM302 211h1v85h-1zM339 211h1v1h-1zM341 211h1v1h-1zM343 211h1v1h-1zM368 211h1v88h-1zM419 211h1v6h-1zM815 211h1v1h-1zM817 211h1v1h-1zM149 212h1v2h-1zM339 212h2v1h-2zM342 212h1v1h-1zM344 212h1v1h-1zM814 212h1v1h-1zM816 212h1v1h-1zM818 212h2v1h-2zM1168 212h1v1h-1zM339 213h1v1h-1zM342 213h2v1h-2zM811 213h18v1h-18zM977 213h9v1h-9zM1161 213h9v1h-9zM148 214h1v2h-1zM339 214h3v1h-3zM344 214h1v1h-1zM497 214h32v1h-32zM811 214h1v7h-1zM819 214h2v7h-2zM828 214h1v7h-1zM977 214h1v7h-1zM985 214h1v7h-1zM1161 214h1v7h-1zM1169 214h1v7h-1zM339 215h1v1h-1zM341 215h1v1h-1zM343 215h1v1h-1zM497 215h1v19h-1zM528 215h1v1h-1zM149 216h1v2h-1zM339 216h2v1h-2zM342 216h1v1h-1zM344 216h1v1h-1zM499 216h2v1h-2zM519 216h10v1h-10zM339 217h1v1h-1zM342 217h2v1h-2zM419 217h9v1h-9zM499 217h1v3h-1zM519 217h2v1h-2zM522 217h1v1h-1zM524 217h1v1h-1zM526 217h3v1h-3zM148 218h1v2h-1zM339 218h3v1h-3zM344 218h1v1h-1zM419 218h1v7h-1zM427 218h1v7h-1zM501 218h1v1h-1zM519 218h1v1h-1zM521 218h1v1h-1zM523 218h1v1h-1zM525 218h1v1h-1zM527 218h2v1h-2zM339 219h1v1h-1zM341 219h1v1h-1zM343 219h1v1h-1zM504 219h1v1h-1zM519 219h2v1h-2zM522 219h1v1h-1zM524 219h1v1h-1zM526 219h3v1h-3zM149 220h1v2h-1zM339 220h2v1h-2zM342 220h1v1h-1zM344 220h1v1h-1zM499 220h7v1h-7zM519 220h1v1h-1zM521 220h1v1h-1zM523 220h1v1h-1zM525 220h1v1h-1zM527 220h2v1h-2zM339 221h1v1h-1zM342 221h2v1h-2zM499 221h1v2h-1zM504 221h1v1h-1zM519 221h2v1h-2zM522 221h1v1h-1zM524 221h1v1h-1zM526 221h3v1h-3zM811 221h18v1h-18zM977 221h9v1h-9zM1161 221h9v1h-9zM148 222h1v2h-1zM339 222h3v1h-3zM344 222h1v1h-1zM501 222h1v1h-1zM519 222h1v1h-1zM521 222h1v1h-1zM523 222h1v1h-1zM525 222h1v1h-1zM527 222h2v1h-2zM816 222h2v1h-2zM819 222h1v2h-1zM821 222h1v74h-1zM827 222h1v74h-1zM978 222h1v36h-1zM984 222h1v36h-1zM1164 222h1v203h-1zM1169 222h1v2h-1zM339 223h1v1h-1zM341 223h1v1h-1zM343 223h1v1h-1zM499 223h2v1h-2zM519 223h10v1h-10zM815 223h1v1h-1zM817 223h1v1h-1zM149 224h1v2h-1zM339 224h2v1h-2zM342 224h1v1h-1zM344 224h1v1h-1zM528 224h1v18h-1zM814 224h1v1h-1zM816 224h1v1h-1zM818 224h2v2h-2zM1168 224h1v2h-1zM339 225h1v1h-1zM342 225h2v1h-2zM419 225h9v1h-9zM814 225h2v1h-2zM148 226h1v2h-1zM339 226h3v1h-3zM344 226h1v1h-1zM419 226h1v38h-1zM816 226h2v1h-2zM819 226h1v2h-1zM1169 226h1v2h-1zM339 227h1v1h-1zM341 227h1v1h-1zM343 227h1v1h-1zM500 227h1v4h-1zM516 227h3v1h-3zM525 227h1v4h-1zM815 227h1v1h-1zM817 227h1v1h-1zM149 228h1v2h-1zM339 228h2v1h-2zM342 228h1v1h-1zM344 228h1v1h-1zM517 228h2v1h-2zM814 228h1v1h-1zM816 228h1v1h-1zM818 228h2v2h-2zM1168 228h1v2h-1zM339 229h1v1h-1zM342 229h2v1h-2zM516 229h1v1h-1zM518 229h1v1h-1zM814 229h2v1h-2zM148 230h1v2h-1zM339 230h3v1h-3zM344 230h1v1h-1zM515 230h1v1h-1zM816 230h2v1h-2zM819 230h1v2h-1zM1169 230h1v2h-1zM339 231h1v1h-1zM341 231h1v1h-1zM343 231h1v1h-1zM514 231h1v1h-1zM815 231h1v1h-1zM817 231h1v1h-1zM149 232h1v2h-1zM339 232h2v1h-2zM342 232h1v1h-1zM344 232h1v1h-1zM500 232h1v1h-1zM513 232h1v1h-1zM525 232h1v1h-1zM814 232h1v1h-1zM816 232h1v1h-1zM818 232h2v2h-2zM1168 232h1v2h-1zM339 233h1v1h-1zM342 233h2v1h-2zM814 233h2v1h-2zM148 234h1v2h-1zM339 234h3v1h-3zM344 234h1v1h-1zM497 234h17v1h-17zM816 234h2v1h-2zM819 234h1v2h-1zM1169 234h1v2h-1zM339 235h1v1h-1zM341 235h1v1h-1zM343 235h1v1h-1zM497 235h1v7h-1zM513 235h1v7h-1zM815 235h1v1h-1zM817 235h1v1h-1zM149 236h1v2h-1zM339 236h2v1h-2zM342 236h1v1h-1zM344 236h1v1h-1zM814 236h1v1h-1zM816 236h1v1h-1zM818 236h2v2h-2zM1168 236h1v2h-1zM339 237h1v1h-1zM342 237h2v1h-2zM814 237h2v1h-2zM148 238h1v2h-1zM339 238h3v1h-3zM344 238h1v1h-1zM816 238h2v1h-2zM819 238h1v2h-1zM1169 238h1v2h-1zM339 239h1v1h-1zM341 239h1v1h-1zM343 239h1v1h-1zM815 239h1v1h-1zM817 239h1v1h-1zM149 240h1v2h-1zM339 240h2v1h-2zM342 240h1v1h-1zM344 240h1v1h-1zM814 240h1v1h-1zM816 240h1v1h-1zM818 240h2v2h-2zM1168 240h1v2h-1zM814 241h2v1h-2zM148 242h1v2h-1zM497 242h32v1h-32zM816 242h2v1h-2zM819 242h1v2h-1zM1169 242h1v2h-1zM815 243h1v1h-1zM817 243h1v1h-1zM149 244h1v2h-1zM330 244h1v1h-1zM814 244h1v1h-1zM816 244h1v1h-1zM818 244h2v2h-2zM1168 244h1v2h-1zM330 245h2v1h-2zM814 245h2v1h-2zM148 246h1v2h-1zM330 246h3v2h-3zM816 246h2v1h-2zM819 246h1v2h-1zM1169 246h1v2h-1zM815 247h1v1h-1zM817 247h1v1h-1zM149 248h1v2h-1zM330 248h2v1h-2zM814 248h1v1h-1zM816 248h1v1h-1zM818 248h2v2h-2zM1168 248h1v2h-1zM330 249h1v1h-1zM814 249h2v1h-2zM148 250h1v2h-1zM816 250h2v1h-2zM819 250h1v2h-1zM1169 250h1v2h-1zM815 251h1v1h-1zM817 251h1v1h-1zM1068 251h2v1h-2zM149 252h1v2h-1zM814 252h1v1h-1zM816 252h1v1h-1zM818 252h2v2h-2zM1068 252h1v19h-1zM1070 252h2v1h-2zM1168 252h1v2h-1zM339 253h1v1h-1zM342 253h2v1h-2zM814 253h2v1h-2zM1072 253h2v1h-2zM148 254h1v2h-1zM339 254h3v1h-3zM344 254h1v1h-1zM816 254h2v1h-2zM819 254h1v2h-1zM1074 254h2v1h-2zM1169 254h1v2h-1zM339 255h1v1h-1zM341 255h1v1h-1zM343 255h1v1h-1zM815 255h1v1h-1zM817 255h1v1h-1zM1076 255h2v1h-2zM149 256h1v2h-1zM339 256h2v1h-2zM342 256h1v1h-1zM344 256h1v1h-1zM641 256h9v1h-9zM814 256h1v1h-1zM816 256h1v1h-1zM818 256h2v2h-2zM1078 256h2v1h-2zM1168 256h1v2h-1zM339 257h1v1h-1zM342 257h2v1h-2zM641 257h1v6h-1zM648 257h1v1h-1zM814 257h2v1h-2zM1080 257h2v1h-2zM1102 257h1v1h-1zM148 258h1v2h-1zM339 258h3v1h-3zM344 258h1v1h-1zM647 258h1v1h-1zM816 258h2v1h-2zM819 258h1v2h-1zM977 258h9v1h-9zM1082 258h2v1h-2zM1102 258h2v1h-2zM1169 258h1v2h-1zM339 259h1v1h-1zM341 259h1v1h-1zM343 259h1v1h-1zM646 259h1v1h-1zM815 259h1v1h-1zM817 259h1v1h-1zM977 259h1v7h-1zM985 259h1v7h-1zM1084 259h2v1h-2zM1102 259h3v2h-3zM149 260h1v2h-1zM339 260h2v1h-2zM342 260h1v1h-1zM344 260h1v1h-1zM645 260h1v1h-1zM814 260h1v1h-1zM816 260h1v1h-1zM818 260h2v2h-2zM1086 260h2v1h-2zM1168 260h1v2h-1zM339 261h1v1h-1zM342 261h2v1h-2zM644 261h1v1h-1zM814 261h2v1h-2zM1072 261h5v1h-5zM1088 261h1v1h-1zM1102 261h2v1h-2zM148 262h1v2h-1zM339 262h3v1h-3zM344 262h1v1h-1zM643 262h1v1h-1zM816 262h2v1h-2zM819 262h1v2h-1zM1086 262h2v1h-2zM1102 262h1v1h-1zM1169 262h1v2h-1zM339 263h1v1h-1zM341 263h1v1h-1zM343 263h1v1h-1zM641 263h2v1h-2zM815 263h1v1h-1zM817 263h1v1h-1zM1084 263h2v1h-2zM149 264h1v2h-1zM339 264h2v1h-2zM342 264h1v1h-1zM344 264h1v1h-1zM419 264h223v1h-223zM814 264h1v1h-1zM816 264h1v1h-1zM818 264h2v2h-2zM1082 264h2v1h-2zM1168 264h1v2h-1zM339 265h1v1h-1zM342 265h2v1h-2zM421 265h1v1h-1zM814 265h2v1h-2zM1080 265h2v1h-2zM148 266h1v2h-1zM339 266h3v1h-3zM344 266h1v1h-1zM421 266h231v1h-231zM816 266h2v1h-2zM819 266h1v2h-1zM977 266h9v1h-9zM1078 266h2v1h-2zM1169 266h1v2h-1zM339 267h1v1h-1zM341 267h1v1h-1zM343 267h1v1h-1zM423 267h1v1h-1zM815 267h1v1h-1zM817 267h1v1h-1zM978 267h1v29h-1zM984 267h1v29h-1zM1076 267h2v1h-2zM149 268h1v2h-1zM339 268h2v1h-2zM342 268h1v1h-1zM344 268h1v1h-1zM423 268h231v1h-231zM814 268h1v1h-1zM816 268h1v1h-1zM818 268h2v2h-2zM1074 268h2v1h-2zM1168 268h1v2h-1zM339 269h1v1h-1zM342 269h2v1h-2zM814 269h2v1h-2zM1072 269h2v1h-2zM148 270h1v2h-1zM339 270h3v1h-3zM344 270h1v1h-1zM816 270h2v1h-2zM819 270h1v2h-1zM1070 270h2v1h-2zM1169 270h1v2h-1zM339 271h1v1h-1zM341 271h1v1h-1zM343 271h1v1h-1zM815 271h1v1h-1zM817 271h1v1h-1zM1068 271h2v1h-2zM149 272h1v2h-1zM339 272h2v1h-2zM342 272h1v1h-1zM344 272h1v1h-1zM814 272h1v1h-1zM816 272h1v1h-1zM818 272h2v2h-2zM1168 272h1v2h-1zM339 273h1v1h-1zM342 273h2v1h-2zM814 273h2v1h-2zM148 274h1v2h-1zM339 274h3v1h-3zM344 274h1v1h-1zM816 274h2v1h-2zM819 274h1v2h-1zM1169 274h1v2h-1zM339 275h1v1h-1zM341 275h1v1h-1zM343 275h1v1h-1zM815 275h1v1h-1zM817 275h1v1h-1zM149 276h1v2h-1zM339 276h2v1h-2zM342 276h1v1h-1zM344 276h1v1h-1zM814 276h1v1h-1zM816 276h1v1h-1zM818 276h2v2h-2zM1168 276h1v2h-1zM339 277h1v1h-1zM342 277h2v1h-2zM814 277h2v1h-2zM148 278h1v2h-1zM339 278h3v1h-3zM344 278h1v1h-1zM816 278h2v1h-2zM819 278h1v2h-1zM1169 278h1v2h-1zM339 279h1v1h-1zM341 279h1v1h-1zM343 279h1v1h-1zM815 279h1v1h-1zM817 279h1v1h-1zM149 280h1v2h-1zM339 280h2v1h-2zM342 280h1v1h-1zM344 280h1v1h-1zM814 280h1v1h-1zM816 280h1v1h-1zM818 280h2v2h-2zM1168 280h1v2h-1zM339 281h1v1h-1zM342 281h2v1h-2zM814 281h2v1h-2zM148 282h1v2h-1zM339 282h3v1h-3zM344 282h1v1h-1zM816 282h2v1h-2zM819 282h1v2h-1zM1169 282h1v2h-1zM339 283h1v1h-1zM341 283h1v1h-1zM343 283h1v1h-1zM815 283h1v1h-1zM817 283h1v1h-1zM149 284h1v2h-1zM339 284h2v1h-2zM342 284h1v1h-1zM344 284h1v1h-1zM814 284h1v1h-1zM816 284h1v1h-1zM818 284h2v2h-2zM1168 284h1v2h-1zM339 285h1v1h-1zM342 285h2v1h-2zM814 285h2v1h-2zM148 286h1v2h-1zM339 286h3v1h-3zM344 286h1v1h-1zM816 286h2v1h-2zM819 286h1v2h-1zM1169 286h1v2h-1zM339 287h1v1h-1zM341 287h1v1h-1zM343 287h1v1h-1zM815 287h1v1h-1zM817 287h1v1h-1zM149 288h1v2h-1zM339 288h2v1h-2zM342 288h1v1h-1zM344 288h1v1h-1zM814 288h1v1h-1zM816 288h1v1h-1zM818 288h2v2h-2zM1168 288h1v2h-1zM339 289h1v1h-1zM342 289h2v1h-2zM814 289h2v1h-2zM148 290h1v2h-1zM339 290h3v1h-3zM344 290h1v1h-1zM816 290h2v1h-2zM819 290h1v2h-1zM1169 290h1v2h-1zM339 291h1v1h-1zM341 291h1v1h-1zM343 291h1v1h-1zM723 291h9v1h-9zM815 291h1v1h-1zM817 291h1v1h-1zM149 292h1v2h-1zM339 292h2v1h-2zM342 292h1v1h-1zM344 292h1v1h-1zM723 292h1v6h-1zM730 292h1v1h-1zM814 292h1v1h-1zM816 292h1v1h-1zM818 292h2v2h-2zM1168 292h1v2h-1zM339 293h1v1h-1zM342 293h2v1h-2zM729 293h1v1h-1zM814 293h2v1h-2zM148 294h1v2h-1zM339 294h3v1h-3zM344 294h1v1h-1zM728 294h1v1h-1zM816 294h2v1h-2zM819 294h1v2h-1zM1169 294h1v2h-1zM339 295h1v1h-1zM341 295h1v1h-1zM343 295h1v1h-1zM727 295h1v1h-1zM815 295h1v1h-1zM817 295h1v1h-1zM149 296h1v2h-1zM224 296h9v1h-9zM295 296h9v1h-9zM339 296h2v1h-2zM342 296h1v1h-1zM344 296h1v1h-1zM726 296h1v1h-1zM814 296h1v1h-1zM816 296h1v1h-1zM818 296h11v1h-11zM977 296h9v1h-9zM1168 296h1v2h-1zM224 297h1v7h-1zM232 297h1v7h-1zM295 297h1v7h-1zM303 297h1v7h-1zM339 297h1v1h-1zM342 297h2v1h-2zM725 297h1v1h-1zM814 297h2v1h-2zM818 297h3v1h-3zM828 297h1v7h-1zM977 297h1v7h-1zM985 297h1v7h-1zM148 298h1v2h-1zM339 298h3v1h-3zM344 298h1v1h-1zM723 298h2v1h-2zM816 298h2v1h-2zM819 298h2v2h-2zM1169 298h1v2h-1zM339 299h1v1h-1zM341 299h1v1h-1zM343 299h1v1h-1zM368 299h356v1h-356zM815 299h1v1h-1zM817 299h1v1h-1zM149 300h1v2h-1zM339 300h2v1h-2zM342 300h1v1h-1zM344 300h1v1h-1zM370 300h1v1h-1zM814 300h1v1h-1zM816 300h1v1h-1zM818 300h3v2h-3zM1168 300h1v2h-1zM339 301h1v1h-1zM342 301h2v1h-2zM370 301h364v1h-364zM814 301h2v1h-2zM148 302h1v2h-1zM339 302h3v1h-3zM344 302h1v1h-1zM372 302h1v1h-1zM816 302h2v1h-2zM819 302h2v2h-2zM1169 302h1v2h-1zM339 303h1v1h-1zM341 303h1v1h-1zM343 303h1v1h-1zM372 303h364v1h-364zM815 303h1v1h-1zM817 303h1v1h-1zM149 304h1v2h-1zM224 304h9v1h-9zM295 304h9v1h-9zM339 304h2v1h-2zM342 304h1v1h-1zM344 304h1v1h-1zM814 304h1v1h-1zM816 304h1v1h-1zM818 304h11v1h-11zM977 304h9v1h-9zM1168 304h1v2h-1zM225 305h1v120h-1zM231 305h1v120h-1zM296 305h1v120h-1zM302 305h1v120h-1zM339 305h1v1h-1zM342 305h2v1h-2zM814 305h2v1h-2zM818 305h2v1h-2zM821 305h1v120h-1zM827 305h1v120h-1zM978 305h1v120h-1zM984 305h1v120h-1zM148 306h1v2h-1zM339 306h3v1h-3zM344 306h1v1h-1zM816 306h2v1h-2zM819 306h1v2h-1zM1169 306h1v2h-1zM339 307h1v1h-1zM341 307h1v1h-1zM343 307h1v1h-1zM815 307h1v1h-1zM817 307h1v1h-1zM149 308h1v2h-1zM339 308h2v1h-2zM342 308h1v1h-1zM344 308h1v1h-1zM814 308h1v1h-1zM816 308h1v1h-1zM818 308h2v2h-2zM1168 308h1v2h-1zM339 309h1v1h-1zM342 309h2v1h-2zM814 309h2v1h-2zM148 310h1v2h-1zM339 310h3v1h-3zM344 310h1v1h-1zM816 310h2v1h-2zM819 310h1v2h-1zM1169 310h1v2h-1zM339 311h1v1h-1zM341 311h1v1h-1zM343 311h1v1h-1zM815 311h1v1h-1zM817 311h1v1h-1zM149 312h1v2h-1zM339 312h2v1h-2zM342 312h1v1h-1zM344 312h1v1h-1zM814 312h1v1h-1zM816 312h1v1h-1zM818 312h2v2h-2zM1168 312h1v2h-1zM339 313h1v1h-1zM342 313h2v1h-2zM814 313h2v1h-2zM148 314h1v2h-1zM339 314h3v1h-3zM344 314h1v1h-1zM816 314h2v1h-2zM819 314h1v2h-1zM1169 314h1v2h-1zM339 315h1v1h-1zM341 315h1v1h-1zM343 315h1v1h-1zM815 315h1v1h-1zM817 315h1v1h-1zM149 316h1v2h-1zM339 316h2v1h-2zM342 316h1v1h-1zM344 316h1v1h-1zM814 316h1v1h-1zM816 316h1v1h-1zM818 316h2v2h-2zM1168 316h1v2h-1zM339 317h1v1h-1zM342 317h2v1h-2zM814 317h2v1h-2zM148 318h1v2h-1zM339 318h3v1h-3zM344 318h1v1h-1zM816 318h2v1h-2zM819 318h1v2h-1zM1169 318h1v2h-1zM339 319h1v1h-1zM341 319h1v1h-1zM343 319h1v1h-1zM815 319h1v1h-1zM817 319h1v1h-1zM149 320h1v2h-1zM339 320h2v1h-2zM342 320h1v1h-1zM344 320h1v1h-1zM814 320h1v1h-1zM816 320h1v1h-1zM818 320h2v2h-2zM1168 320h1v2h-1zM339 321h1v1h-1zM342 321h2v1h-2zM814 321h2v1h-2zM148 322h1v2h-1zM339 322h3v1h-3zM344 322h1v1h-1zM816 322h2v1h-2zM819 322h1v2h-1zM1169 322h1v2h-1zM339 323h1v1h-1zM341 323h1v1h-1zM343 323h1v1h-1zM815 323h1v1h-1zM817 323h1v1h-1zM149 324h1v2h-1zM339 324h2v1h-2zM342 324h1v1h-1zM344 324h1v1h-1zM814 324h1v1h-1zM816 324h1v1h-1zM818 324h2v2h-2zM1168 324h1v2h-1zM339 325h1v1h-1zM342 325h2v1h-2zM814 325h2v1h-2zM148 326h1v2h-1zM339 326h3v1h-3zM344 326h1v1h-1zM816 326h2v1h-2zM819 326h1v2h-1zM1169 326h1v2h-1zM339 327h1v1h-1zM341 327h1v1h-1zM343 327h1v1h-1zM815 327h1v1h-1zM817 327h1v1h-1zM149 328h1v2h-1zM339 328h2v1h-2zM342 328h1v1h-1zM344 328h1v1h-1zM814 328h1v1h-1zM816 328h1v1h-1zM818 328h2v2h-2zM1168 328h1v2h-1zM339 329h1v1h-1zM342 329h2v1h-2zM814 329h2v1h-2zM148 330h1v2h-1zM339 330h3v1h-3zM344 330h1v1h-1zM816 330h2v1h-2zM819 330h1v2h-1zM1169 330h1v2h-1zM339 331h1v1h-1zM341 331h1v1h-1zM343 331h1v1h-1zM815 331h1v1h-1zM817 331h1v1h-1zM149 332h1v2h-1zM339 332h2v1h-2zM342 332h1v1h-1zM344 332h1v1h-1zM814 332h1v1h-1zM816 332h1v1h-1zM818 332h2v2h-2zM1168 332h1v2h-1zM339 333h1v1h-1zM342 333h2v1h-2zM814 333h2v1h-2zM148 334h1v2h-1zM339 334h3v1h-3zM344 334h1v1h-1zM816 334h2v1h-2zM819 334h1v2h-1zM1169 334h1v2h-1zM339 335h1v1h-1zM341 335h1v1h-1zM343 335h1v1h-1zM815 335h1v1h-1zM817 335h1v1h-1zM149 336h1v2h-1zM339 336h2v1h-2zM342 336h1v1h-1zM344 336h1v1h-1zM814 336h1v1h-1zM816 336h1v1h-1zM818 336h2v2h-2zM1168 336h1v2h-1zM339 337h1v1h-1zM342 337h2v1h-2zM814 337h2v1h-2zM148 338h1v2h-1zM339 338h3v1h-3zM344 338h1v1h-1zM816 338h2v1h-2zM819 338h1v2h-1zM1169 338h1v2h-1zM339 339h1v1h-1zM341 339h1v1h-1zM343 339h1v1h-1zM815 339h1v1h-1zM817 339h1v1h-1zM149 340h1v2h-1zM339 340h2v1h-2zM342 340h1v1h-1zM344 340h1v1h-1zM814 340h1v1h-1zM816 340h1v1h-1zM818 340h2v2h-2zM1168 340h1v2h-1zM339 341h1v1h-1zM342 341h2v1h-2zM814 341h2v1h-2zM148 342h1v2h-1zM339 342h3v1h-3zM344 342h1v1h-1zM816 342h2v1h-2zM819 342h1v2h-1zM1169 342h1v2h-1zM339 343h1v1h-1zM341 343h1v1h-1zM343 343h1v1h-1zM815 343h1v1h-1zM817 343h1v1h-1zM149 344h1v2h-1zM339 344h2v1h-2zM342 344h1v1h-1zM344 344h1v1h-1zM814 344h1v1h-1zM816 344h1v1h-1zM818 344h2v2h-2zM1168 344h1v2h-1zM339 345h1v1h-1zM342 345h2v1h-2zM814 345h2v1h-2zM148 346h1v2h-1zM339 346h3v1h-3zM344 346h1v1h-1zM816 346h2v1h-2zM819 346h1v2h-1zM1169 346h1v2h-1zM339 347h1v1h-1zM341 347h1v1h-1zM343 347h1v1h-1zM815 347h1v1h-1zM817 347h1v1h-1zM149 348h1v2h-1zM339 348h2v1h-2zM342 348h1v1h-1zM344 348h1v1h-1zM814 348h1v1h-1zM816 348h1v1h-1zM818 348h2v2h-2zM1168 348h1v2h-1zM339 349h1v1h-1zM342 349h2v1h-2zM814 349h2v1h-2zM148 350h1v2h-1zM339 350h3v1h-3zM344 350h1v1h-1zM816 350h2v1h-2zM819 350h1v2h-1zM1169 350h1v2h-1zM339 351h1v1h-1zM341 351h1v1h-1zM343 351h1v1h-1zM815 351h1v1h-1zM817 351h1v1h-1zM149 352h1v2h-1zM339 352h2v1h-2zM342 352h1v1h-1zM344 352h1v1h-1zM814 352h1v1h-1zM816 352h1v1h-1zM818 352h2v2h-2zM1168 352h1v2h-1zM339 353h1v1h-1zM342 353h2v1h-2zM814 353h2v1h-2zM148 354h1v2h-1zM339 354h3v1h-3zM344 354h1v1h-1zM816 354h2v1h-2zM819 354h1v2h-1zM1169 354h1v2h-1zM339 355h1v1h-1zM341 355h1v1h-1zM343 355h1v1h-1zM815 355h1v1h-1zM817 355h1v1h-1zM149 356h1v2h-1zM339 356h2v1h-2zM342 356h1v1h-1zM344 356h1v1h-1zM814 356h1v1h-1zM816 356h1v1h-1zM818 356h2v2h-2zM1168 356h1v2h-1zM339 357h1v1h-1zM342 357h2v1h-2zM814 357h2v1h-2zM148 358h1v2h-1zM339 358h3v1h-3zM344 358h1v1h-1zM816 358h2v1h-2zM819 358h1v2h-1zM1169 358h1v2h-1zM339 359h1v1h-1zM341 359h1v1h-1zM343 359h1v1h-1zM815 359h1v1h-1zM817 359h1v1h-1zM149 360h1v2h-1zM339 360h2v1h-2zM342 360h1v1h-1zM344 360h1v1h-1zM814 360h1v1h-1zM816 360h1v1h-1zM818 360h2v2h-2zM1168 360h1v2h-1zM339 361h1v1h-1zM342 361h2v1h-2zM814 361h2v1h-2zM148 362h1v2h-1zM339 362h3v1h-3zM344 362h1v1h-1zM816 362h2v1h-2zM819 362h1v2h-1zM1169 362h1v2h-1zM339 363h1v1h-1zM341 363h1v1h-1zM343 363h1v1h-1zM815 363h1v1h-1zM817 363h1v1h-1zM149 364h1v2h-1zM339 364h2v1h-2zM342 364h1v1h-1zM344 364h1v1h-1zM814 364h1v1h-1zM816 364h1v1h-1zM818 364h2v2h-2zM1168 364h1v2h-1zM339 365h1v1h-1zM342 365h2v1h-2zM814 365h2v1h-2zM148 366h1v2h-1zM339 366h3v1h-3zM344 366h1v1h-1zM816 366h2v1h-2zM819 366h1v2h-1zM1169 366h1v2h-1zM339 367h1v1h-1zM341 367h1v1h-1zM343 367h1v1h-1zM815 367h1v1h-1zM817 367h1v1h-1zM149 368h1v2h-1zM339 368h2v1h-2zM342 368h1v1h-1zM344 368h1v1h-1zM814 368h1v1h-1zM816 368h1v1h-1zM818 368h2v2h-2zM1168 368h1v2h-1zM339 369h1v1h-1zM342 369h2v1h-2zM814 369h2v1h-2zM148 370h1v2h-1zM339 370h3v1h-3zM344 370h1v1h-1zM816 370h2v1h-2zM819 370h1v2h-1zM1169 370h1v2h-1zM339 371h1v1h-1zM341 371h1v1h-1zM343 371h1v1h-1zM815 371h1v1h-1zM817 371h1v1h-1zM149 372h1v2h-1zM339 372h2v1h-2zM342 372h1v1h-1zM344 372h1v1h-1zM814 372h1v1h-1zM816 372h1v1h-1zM818 372h2v2h-2zM1168 372h1v2h-1zM339 373h1v1h-1zM342 373h2v1h-2zM814 373h2v1h-2zM148 374h1v2h-1zM339 374h3v1h-3zM344 374h1v1h-1zM816 374h2v1h-2zM819 374h1v2h-1zM1169 374h1v2h-1zM339 375h1v1h-1zM341 375h1v1h-1zM343 375h1v1h-1zM815 375h1v1h-1zM817 375h1v1h-1zM149 376h1v2h-1zM339 376h2v1h-2zM342 376h1v1h-1zM344 376h1v1h-1zM814 376h1v1h-1zM816 376h1v1h-1zM818 376h2v2h-2zM1168 376h1v2h-1zM339 377h1v1h-1zM342 377h2v1h-2zM814 377h2v1h-2zM148 378h1v2h-1zM339 378h3v1h-3zM344 378h1v1h-1zM816 378h2v1h-2zM819 378h1v2h-1zM1169 378h1v2h-1zM339 379h1v1h-1zM341 379h1v1h-1zM343 379h1v1h-1zM815 379h1v1h-1zM817 379h1v1h-1zM149 380h1v2h-1zM339 380h2v1h-2zM342 380h1v1h-1zM344 380h1v1h-1zM346 380h1v1h-1zM348 380h1v1h-1zM350 380h1v1h-1zM352 380h1v1h-1zM354 380h1v1h-1zM356 380h1v1h-1zM358 380h1v1h-1zM360 380h1v1h-1zM362 380h1v1h-1zM364 380h1v1h-1zM366 380h1v1h-1zM368 380h1v1h-1zM370 380h1v1h-1zM372 380h1v1h-1zM374 380h1v1h-1zM376 380h1v1h-1zM378 380h1v1h-1zM380 380h1v1h-1zM382 380h1v1h-1zM384 380h1v1h-1zM386 380h1v1h-1zM388 380h1v1h-1zM390 380h1v1h-1zM392 380h1v1h-1zM394 380h1v1h-1zM396 380h1v1h-1zM398 380h1v1h-1zM400 380h1v1h-1zM402 380h1v1h-1zM404 380h1v1h-1zM406 380h1v1h-1zM408 380h1v1h-1zM410 380h1v1h-1zM412 380h1v1h-1zM414 380h1v1h-1zM416 380h1v1h-1zM418 380h1v1h-1zM420 380h1v1h-1zM422 380h1v1h-1zM424 380h1v1h-1zM426 380h1v1h-1zM428 380h1v1h-1zM430 380h1v1h-1zM432 380h1v1h-1zM434 380h1v1h-1zM436 380h1v1h-1zM438 380h1v1h-1zM440 380h1v1h-1zM442 380h1v1h-1zM444 380h1v1h-1zM446 380h1v1h-1zM448 380h1v1h-1zM450 380h1v1h-1zM452 380h1v1h-1zM454 380h1v1h-1zM456 380h1v1h-1zM458 380h1v1h-1zM460 380h1v1h-1zM462 380h1v1h-1zM464 380h1v1h-1zM466 380h1v1h-1zM468 380h1v1h-1zM470 380h1v1h-1zM472 380h1v1h-1zM474 380h1v1h-1zM476 380h1v1h-1zM478 380h1v1h-1zM480 380h1v1h-1zM482 380h1v1h-1zM484 380h1v1h-1zM486 380h1v1h-1zM488 380h1v1h-1zM490 380h1v1h-1zM492 380h1v1h-1zM494 380h1v1h-1zM496 380h1v1h-1zM498 380h1v1h-1zM500 380h1v1h-1zM502 380h1v1h-1zM504 380h1v1h-1zM506 380h1v1h-1zM508 380h1v1h-1zM510 380h1v1h-1zM512 380h1v1h-1zM514 380h1v1h-1zM516 380h1v1h-1zM518 380h1v1h-1zM520 380h1v1h-1zM522 380h1v1h-1zM524 380h1v1h-1zM526 380h1v1h-1zM528 380h1v1h-1zM530 380h1v1h-1zM532 380h1v1h-1zM534 380h1v1h-1zM536 380h1v1h-1zM538 380h1v1h-1zM540 380h1v1h-1zM542 380h1v1h-1zM544 380h1v1h-1zM546 380h1v1h-1zM548 380h1v1h-1zM550 380h1v1h-1zM552 380h1v1h-1zM554 380h1v1h-1zM556 380h1v1h-1zM558 380h1v1h-1zM560 380h1v1h-1zM562 380h1v1h-1zM564 380h1v1h-1zM566 380h1v1h-1zM568 380h1v1h-1zM570 380h1v1h-1zM572 380h1v1h-1zM574 380h1v1h-1zM576 380h1v1h-1zM578 380h1v1h-1zM580 380h1v1h-1zM582 380h1v1h-1zM584 380h1v1h-1zM586 380h1v1h-1zM588 380h1v1h-1zM590 380h1v1h-1zM592 380h1v1h-1zM594 380h1v1h-1zM596 380h1v1h-1zM598 380h1v1h-1zM600 380h1v1h-1zM602 380h1v1h-1zM604 380h1v1h-1zM606 380h1v1h-1zM608 380h1v1h-1zM610 380h1v1h-1zM612 380h1v1h-1zM614 380h1v1h-1zM616 380h1v1h-1zM618 380h1v1h-1zM620 380h1v1h-1zM622 380h1v1h-1zM624 380h1v1h-1zM626 380h1v1h-1zM628 380h1v1h-1zM630 380h1v1h-1zM632 380h1v1h-1zM634 380h1v1h-1zM636 380h1v1h-1zM638 380h1v1h-1zM640 380h1v1h-1zM642 380h1v1h-1zM644 380h1v1h-1zM646 380h1v1h-1zM648 380h1v1h-1zM650 380h1v1h-1zM652 380h1v1h-1zM654 380h1v1h-1zM656 380h1v1h-1zM658 380h1v1h-1zM660 380h1v1h-1zM662 380h1v1h-1zM664 380h1v1h-1zM666 380h1v1h-1zM668 380h1v1h-1zM670 380h1v1h-1zM672 380h1v1h-1zM674 380h1v1h-1zM676 380h1v1h-1zM678 380h1v1h-1zM680 380h1v1h-1zM682 380h1v1h-1zM684 380h1v1h-1zM686 380h1v1h-1zM688 380h1v1h-1zM690 380h1v1h-1zM692 380h1v1h-1zM694 380h1v1h-1zM696 380h1v1h-1zM698 380h1v1h-1zM700 380h1v1h-1zM702 380h1v1h-1zM704 380h1v1h-1zM706 380h1v1h-1zM708 380h1v1h-1zM710 380h1v1h-1zM712 380h1v1h-1zM714 380h1v1h-1zM716 380h1v1h-1zM718 380h1v1h-1zM720 380h1v1h-1zM722 380h1v1h-1zM724 380h1v1h-1zM726 380h1v1h-1zM728 380h1v1h-1zM730 380h1v1h-1zM732 380h1v1h-1zM734 380h1v1h-1zM736 380h1v1h-1zM738 380h1v1h-1zM740 380h1v1h-1zM742 380h1v1h-1zM744 380h1v1h-1zM746 380h1v1h-1zM748 380h1v1h-1zM750 380h1v1h-1zM752 380h1v1h-1zM754 380h1v1h-1zM756 380h1v1h-1zM758 380h1v1h-1zM760 380h1v1h-1zM762 380h1v1h-1zM764 380h1v1h-1zM766 380h1v1h-1zM768 380h1v1h-1zM770 380h1v1h-1zM772 380h1v1h-1zM774 380h1v1h-1zM776 380h1v1h-1zM778 380h1v1h-1zM780 380h1v1h-1zM782 380h1v1h-1zM784 380h1v1h-1zM786 380h1v1h-1zM788 380h1v1h-1zM790 380h1v1h-1zM792 380h1v1h-1zM794 380h1v1h-1zM796 380h1v1h-1zM798 380h1v1h-1zM800 380h1v1h-1zM802 380h1v1h-1zM804 380h1v1h-1zM806 380h1v1h-1zM808 380h1v1h-1zM810 380h1v1h-1zM812 380h1v1h-1zM814 380h1v1h-1zM816 380h1v1h-1zM818 380h2v2h-2zM1168 380h1v2h-1zM339 381h1v1h-1zM342 381h2v1h-2zM346 381h2v1h-2zM350 381h2v1h-2zM354 381h2v1h-2zM358 381h2v1h-2zM362 381h2v1h-2zM366 381h2v1h-2zM370 381h2v1h-2zM374 381h2v1h-2zM378 381h2v1h-2zM382 381h2v1h-2zM386 381h2v1h-2zM390 381h2v1h-2zM394 381h2v1h-2zM398 381h2v1h-2zM402 381h2v1h-2zM406 381h2v1h-2zM410 381h2v1h-2zM414 381h2v1h-2zM418 381h2v1h-2zM422 381h2v1h-2zM426 381h2v1h-2zM430 381h2v1h-2zM434 381h2v1h-2zM438 381h2v1h-2zM442 381h2v1h-2zM446 381h2v1h-2zM450 381h2v1h-2zM454 381h2v1h-2zM458 381h2v1h-2zM462 381h2v1h-2zM466 381h2v1h-2zM470 381h2v1h-2zM474 381h2v1h-2zM478 381h2v1h-2zM482 381h2v1h-2zM486 381h2v1h-2zM490 381h2v1h-2zM494 381h2v1h-2zM498 381h2v1h-2zM502 381h2v1h-2zM506 381h2v1h-2zM510 381h2v1h-2zM514 381h2v1h-2zM518 381h2v1h-2zM522 381h2v1h-2zM526 381h2v1h-2zM530 381h2v1h-2zM534 381h2v1h-2zM538 381h2v1h-2zM542 381h2v1h-2zM546 381h2v1h-2zM550 381h2v1h-2zM554 381h2v1h-2zM558 381h2v1h-2zM562 381h2v1h-2zM566 381h2v1h-2zM570 381h2v1h-2zM574 381h2v1h-2zM578 381h2v1h-2zM582 381h2v1h-2zM586 381h2v1h-2zM590 381h2v1h-2zM594 381h2v1h-2zM598 381h2v1h-2zM602 381h2v1h-2zM606 381h2v1h-2zM610 381h2v1h-2zM614 381h2v1h-2zM618 381h2v1h-2zM622 381h2v1h-2zM626 381h2v1h-2zM630 381h2v1h-2zM634 381h2v1h-2zM638 381h2v1h-2zM642 381h2v1h-2zM646 381h2v1h-2zM650 381h2v1h-2zM654 381h2v1h-2zM658 381h2v1h-2zM662 381h2v1h-2zM666 381h2v1h-2zM670 381h2v1h-2zM674 381h2v1h-2zM678 381h2v1h-2zM682 381h2v1h-2zM686 381h2v1h-2zM690 381h2v1h-2zM694 381h2v1h-2zM698 381h2v1h-2zM702 381h2v1h-2zM706 381h2v1h-2zM710 381h2v1h-2zM714 381h2v1h-2zM718 381h2v1h-2zM722 381h2v1h-2zM726 381h2v1h-2zM730 381h2v1h-2zM734 381h2v1h-2zM738 381h2v1h-2zM742 381h2v1h-2zM746 381h2v1h-2zM750 381h2v1h-2zM754 381h2v1h-2zM758 381h2v1h-2zM762 381h2v1h-2zM766 381h2v1h-2zM770 381h2v1h-2zM774 381h2v1h-2zM778 381h2v1h-2zM782 381h2v1h-2zM786 381h2v1h-2zM790 381h2v1h-2zM794 381h2v1h-2zM798 381h2v1h-2zM802 381h2v1h-2zM806 381h2v1h-2zM810 381h2v1h-2zM814 381h2v1h-2zM148 382h1v2h-1zM339 382h3v1h-3zM344 382h2v1h-2zM348 382h2v1h-2zM352 382h2v1h-2zM356 382h2v1h-2zM360 382h2v1h-2zM364 382h2v1h-2zM368 382h2v1h-2zM372 382h2v1h-2zM376 382h2v1h-2zM380 382h2v1h-2zM384 382h2v1h-2zM388 382h2v1h-2zM392 382h2v1h-2zM396 382h2v1h-2zM400 382h2v1h-2zM404 382h2v1h-2zM408 382h2v1h-2zM412 382h2v1h-2zM416 382h2v1h-2zM420 382h2v1h-2zM424 382h2v1h-2zM428 382h2v1h-2zM432 382h2v1h-2zM436 382h2v1h-2zM440 382h2v1h-2zM444 382h2v1h-2zM448 382h2v1h-2zM452 382h2v1h-2zM456 382h2v1h-2zM460 382h2v1h-2zM464 382h2v1h-2zM468 382h2v1h-2zM472 382h2v1h-2zM476 382h2v1h-2zM480 382h2v1h-2zM484 382h2v1h-2zM488 382h2v1h-2zM492 382h2v1h-2zM496 382h2v1h-2zM500 382h2v1h-2zM504 382h2v1h-2zM508 382h2v1h-2zM512 382h2v1h-2zM516 382h2v1h-2zM520 382h2v1h-2zM524 382h2v1h-2zM528 382h2v1h-2zM532 382h2v1h-2zM536 382h2v1h-2zM540 382h2v1h-2zM544 382h2v1h-2zM548 382h2v1h-2zM552 382h2v1h-2zM556 382h2v1h-2zM560 382h2v1h-2zM564 382h2v1h-2zM568 382h2v1h-2zM572 382h2v1h-2zM576 382h2v1h-2zM580 382h2v1h-2zM584 382h2v1h-2zM588 382h2v1h-2zM592 382h2v1h-2zM596 382h2v1h-2zM600 382h2v1h-2zM604 382h2v1h-2zM608 382h2v1h-2zM612 382h2v1h-2zM616 382h2v1h-2zM620 382h2v1h-2zM624 382h2v1h-2zM628 382h2v1h-2zM632 382h2v1h-2zM636 382h2v1h-2zM640 382h2v1h-2zM644 382h2v1h-2zM648 382h2v1h-2zM652 382h2v1h-2zM656 382h2v1h-2zM660 382h2v1h-2zM664 382h2v1h-2zM668 382h2v1h-2zM672 382h2v1h-2zM676 382h2v1h-2zM680 382h2v1h-2zM684 382h2v1h-2zM688 382h2v1h-2zM692 382h2v1h-2zM696 382h2v1h-2zM700 382h2v1h-2zM704 382h2v1h-2zM708 382h2v1h-2zM712 382h2v1h-2zM716 382h2v1h-2zM720 382h2v1h-2zM724 382h2v1h-2zM728 382h2v1h-2zM732 382h2v1h-2zM736 382h2v1h-2zM740 382h2v1h-2zM744 382h2v1h-2zM748 382h2v1h-2zM752 382h2v1h-2zM756 382h2v1h-2zM760 382h2v1h-2zM764 382h2v1h-2zM768 382h2v1h-2zM772 382h2v1h-2zM776 382h2v1h-2zM780 382h2v1h-2zM784 382h2v1h-2zM788 382h2v1h-2zM792 382h2v1h-2zM796 382h2v1h-2zM800 382h2v1h-2zM804 382h2v1h-2zM808 382h2v1h-2zM812 382h2v1h-2zM816 382h2v1h-2zM819 382h1v2h-1zM1169 382h1v2h-1zM339 383h1v1h-1zM341 383h1v1h-1zM343 383h1v1h-1zM345 383h1v1h-1zM347 383h1v1h-1zM349 383h1v1h-1zM351 383h1v1h-1zM353 383h1v1h-1zM355 383h1v1h-1zM357 383h1v1h-1zM359 383h1v1h-1zM361 383h1v1h-1zM363 383h1v1h-1zM365 383h1v1h-1zM367 383h1v1h-1zM369 383h1v1h-1zM371 383h1v1h-1zM373 383h1v1h-1zM375 383h1v1h-1zM377 383h1v1h-1zM379 383h1v1h-1zM381 383h1v1h-1zM383 383h1v1h-1zM385 383h1v1h-1zM387 383h1v1h-1zM389 383h1v1h-1zM391 383h1v1h-1zM393 383h1v1h-1zM395 383h1v1h-1zM397 383h1v1h-1zM399 383h1v1h-1zM401 383h1v1h-1zM403 383h1v1h-1zM405 383h1v1h-1zM407 383h1v1h-1zM409 383h1v1h-1zM411 383h1v1h-1zM413 383h1v1h-1zM415 383h1v1h-1zM417 383h1v1h-1zM419 383h1v1h-1zM421 383h1v1h-1zM423 383h1v1h-1zM425 383h1v1h-1zM427 383h1v1h-1zM429 383h1v1h-1zM431 383h1v1h-1zM433 383h1v1h-1zM435 383h1v1h-1zM437 383h1v1h-1zM439 383h1v1h-1zM441 383h1v1h-1zM443 383h1v1h-1zM445 383h1v1h-1zM447 383h1v1h-1zM449 383h1v1h-1zM451 383h1v1h-1zM453 383h1v1h-1zM455 383h1v1h-1zM457 383h1v1h-1zM459 383h1v1h-1zM461 383h1v1h-1zM463 383h1v1h-1zM465 383h1v1h-1zM467 383h1v1h-1zM469 383h1v1h-1zM471 383h1v1h-1zM473 383h1v1h-1zM475 383h1v1h-1zM477 383h1v1h-1zM479 383h1v1h-1zM481 383h1v1h-1zM483 383h1v1h-1zM485 383h1v1h-1zM487 383h1v1h-1zM489 383h1v1h-1zM491 383h1v1h-1zM493 383h1v1h-1zM495 383h1v1h-1zM497 383h1v1h-1zM499 383h1v1h-1zM501 383h1v1h-1zM503 383h1v1h-1zM505 383h1v1h-1zM507 383h1v1h-1zM509 383h1v1h-1zM511 383h1v1h-1zM513 383h1v1h-1zM515 383h1v1h-1zM517 383h1v1h-1zM519 383h1v1h-1zM521 383h1v1h-1zM523 383h1v1h-1zM525 383h1v1h-1zM527 383h1v1h-1zM529 383h1v1h-1zM531 383h1v1h-1zM533 383h1v1h-1zM535 383h1v1h-1zM537 383h1v1h-1zM539 383h1v1h-1zM541 383h1v1h-1zM543 383h1v1h-1zM545 383h1v1h-1zM547 383h1v1h-1zM549 383h1v1h-1zM551 383h1v1h-1zM553 383h1v1h-1zM555 383h1v1h-1zM557 383h1v1h-1zM559 383h1v1h-1zM561 383h1v1h-1zM563 383h1v1h-1zM565 383h1v1h-1zM567 383h1v1h-1zM569 383h1v1h-1zM571 383h1v1h-1zM573 383h1v1h-1zM575 383h1v1h-1zM577 383h1v1h-1zM579 383h1v1h-1zM581 383h1v1h-1zM583 383h1v1h-1zM585 383h1v1h-1zM587 383h1v1h-1zM589 383h1v1h-1zM591 383h1v1h-1zM593 383h1v1h-1zM595 383h1v1h-1zM597 383h1v1h-1zM599 383h1v1h-1zM601 383h1v1h-1zM603 383h1v1h-1zM605 383h1v1h-1zM607 383h1v1h-1zM609 383h1v1h-1zM611 383h1v1h-1zM613 383h1v1h-1zM615 383h1v1h-1zM617 383h1v1h-1zM619 383h1v1h-1zM621 383h1v1h-1zM623 383h1v1h-1zM625 383h1v1h-1zM627 383h1v1h-1zM629 383h1v1h-1zM631 383h1v1h-1zM633 383h1v1h-1zM635 383h1v1h-1zM637 383h1v1h-1zM639 383h1v1h-1zM641 383h1v1h-1zM643 383h1v1h-1zM645 383h1v1h-1zM647 383h1v1h-1zM649 383h1v1h-1zM651 383h1v1h-1zM653 383h1v1h-1zM655 383h1v1h-1zM657 383h1v1h-1zM659 383h1v1h-1zM661 383h1v1h-1zM663 383h1v1h-1zM665 383h1v1h-1zM667 383h1v1h-1zM669 383h1v1h-1zM671 383h1v1h-1zM673 383h1v1h-1zM675 383h1v1h-1zM677 383h1v1h-1zM679 383h1v1h-1zM681 383h1v1h-1zM683 383h1v1h-1zM685 383h1v1h-1zM687 383h1v1h-1zM689 383h1v1h-1zM691 383h1v1h-1zM693 383h1v1h-1zM695 383h1v1h-1zM697 383h1v1h-1zM699 383h1v1h-1zM701 383h1v1h-1zM703 383h1v1h-1zM705 383h1v1h-1zM707 383h1v1h-1zM709 383h1v1h-1zM711 383h1v1h-1zM713 383h1v1h-1zM715 383h1v1h-1zM717 383h1v1h-1zM719 383h1v1h-1zM721 383h1v1h-1zM723 383h1v1h-1zM725 383h1v1h-1zM727 383h1v1h-1zM729 383h1v1h-1zM731 383h1v1h-1zM733 383h1v1h-1zM735 383h1v1h-1zM737 383h1v1h-1zM739 383h1v1h-1zM741 383h1v1h-1zM743 383h1v1h-1zM745 383h1v1h-1zM747 383h1v1h-1zM749 383h1v1h-1zM751 383h1v1h-1zM753 383h1v1h-1zM755 383h1v1h-1zM757 383h1v1h-1zM759 383h1v1h-1zM761 383h1v1h-1zM763 383h1v1h-1zM765 383h1v1h-1zM767 383h1v1h-1zM769 383h1v1h-1zM771 383h1v1h-1zM773 383h1v1h-1zM775 383h1v1h-1zM777 383h1v1h-1zM779 383h1v1h-1zM781 383h1v1h-1zM783 383h1v1h-1zM785 383h1v1h-1zM787 383h1v1h-1zM789 383h1v1h-1zM791 383h1v1h-1zM793 383h1v1h-1zM795 383h1v1h-1zM797 383h1v1h-1zM799 383h1v1h-1zM801 383h1v1h-1zM803 383h1v1h-1zM805 383h1v1h-1zM807 383h1v1h-1zM809 383h1v1h-1zM811 383h1v1h-1zM813 383h1v1h-1zM815 383h1v1h-1zM817 383h1v1h-1zM149 384h1v2h-1zM339 384h2v1h-2zM342 384h1v1h-1zM344 384h1v1h-1zM346 384h1v1h-1zM348 384h1v1h-1zM350 384h1v1h-1zM352 384h1v1h-1zM354 384h1v1h-1zM356 384h1v1h-1zM358 384h1v1h-1zM360 384h1v1h-1zM362 384h1v1h-1zM364 384h1v1h-1zM366 384h1v1h-1zM368 384h1v1h-1zM370 384h1v1h-1zM372 384h1v1h-1zM374 384h1v1h-1zM376 384h1v1h-1zM378 384h1v1h-1zM380 384h1v1h-1zM382 384h1v1h-1zM384 384h1v1h-1zM386 384h1v1h-1zM388 384h1v1h-1zM390 384h1v1h-1zM392 384h1v1h-1zM394 384h1v1h-1zM396 384h1v1h-1zM398 384h1v1h-1zM400 384h1v1h-1zM402 384h1v1h-1zM404 384h1v1h-1zM406 384h1v1h-1zM408 384h1v1h-1zM410 384h1v1h-1zM412 384h1v1h-1zM414 384h1v1h-1zM416 384h1v1h-1zM418 384h1v1h-1zM420 384h1v1h-1zM422 384h1v1h-1zM424 384h1v1h-1zM426 384h1v1h-1zM428 384h1v1h-1zM430 384h1v1h-1zM432 384h1v1h-1zM434 384h1v1h-1zM436 384h1v1h-1zM438 384h1v1h-1zM440 384h1v1h-1zM442 384h1v1h-1zM444 384h1v1h-1zM446 384h1v1h-1zM448 384h1v1h-1zM450 384h1v1h-1zM452 384h1v1h-1zM454 384h1v1h-1zM456 384h1v1h-1zM458 384h1v1h-1zM460 384h1v1h-1zM462 384h1v1h-1zM464 384h1v1h-1zM466 384h1v1h-1zM468 384h1v1h-1zM470 384h1v1h-1zM472 384h1v1h-1zM474 384h1v1h-1zM476 384h1v1h-1zM478 384h1v1h-1zM480 384h1v1h-1zM482 384h1v1h-1zM484 384h1v1h-1zM486 384h1v1h-1zM488 384h1v1h-1zM490 384h1v1h-1zM492 384h1v1h-1zM494 384h1v1h-1zM496 384h1v1h-1zM498 384h1v1h-1zM500 384h1v1h-1zM502 384h1v1h-1zM504 384h1v1h-1zM506 384h1v1h-1zM508 384h1v1h-1zM510 384h1v1h-1zM512 384h1v1h-1zM514 384h1v1h-1zM516 384h1v1h-1zM518 384h1v1h-1zM520 384h1v1h-1zM522 384h1v1h-1zM524 384h1v1h-1zM526 384h1v1h-1zM528 384h1v1h-1zM530 384h1v1h-1zM532 384h1v1h-1zM534 384h1v1h-1zM536 384h1v1h-1zM538 384h1v1h-1zM540 384h1v1h-1zM542 384h1v1h-1zM544 384h1v1h-1zM546 384h1v1h-1zM548 384h1v1h-1zM550 384h1v1h-1zM552 384h1v1h-1zM554 384h1v1h-1zM556 384h1v1h-1zM558 384h1v1h-1zM560 384h1v1h-1zM562 384h1v1h-1zM564 384h1v1h-1zM566 384h1v1h-1zM568 384h1v1h-1zM570 384h1v1h-1zM572 384h1v1h-1zM574 384h1v1h-1zM576 384h1v1h-1zM578 384h1v1h-1zM580 384h1v1h-1zM582 384h1v1h-1zM584 384h1v1h-1zM586 384h1v1h-1zM588 384h1v1h-1zM590 384h1v1h-1zM592 384h1v1h-1zM594 384h1v1h-1zM596 384h1v1h-1zM598 384h1v1h-1zM600 384h1v1h-1zM602 384h1v1h-1zM604 384h1v1h-1zM606 384h1v1h-1zM608 384h1v1h-1zM610 384h1v1h-1zM612 384h1v1h-1zM614 384h1v1h-1zM616 384h1v1h-1zM618 384h1v1h-1zM620 384h1v1h-1zM622 384h1v1h-1zM624 384h1v1h-1zM626 384h1v1h-1zM628 384h1v1h-1zM630 384h1v1h-1zM632 384h1v1h-1zM634 384h1v1h-1zM636 384h1v1h-1zM638 384h1v1h-1zM640 384h1v1h-1zM642 384h1v1h-1zM644 384h1v1h-1zM646 384h1v1h-1zM648 384h1v1h-1zM650 384h1v1h-1zM652 384h1v1h-1zM654 384h1v1h-1zM656 384h1v1h-1zM658 384h1v1h-1zM660 384h1v1h-1zM662 384h1v1h-1zM664 384h1v1h-1zM666 384h1v1h-1zM668 384h1v1h-1zM670 384h1v1h-1zM672 384h1v1h-1zM674 384h1v1h-1zM676 384h1v1h-1zM678 384h1v1h-1zM680 384h1v1h-1zM682 384h1v1h-1zM684 384h1v1h-1zM686 384h1v1h-1zM688 384h1v1h-1zM690 384h1v1h-1zM692 384h1v1h-1zM694 384h1v1h-1zM696 384h1v1h-1zM698 384h1v1h-1zM700 384h1v1h-1zM702 384h1v1h-1zM704 384h1v1h-1zM706 384h1v1h-1zM708 384h1v1h-1zM710 384h1v1h-1zM712 384h1v1h-1zM714 384h1v1h-1zM716 384h1v1h-1zM718 384h1v1h-1zM720 384h1v1h-1zM722 384h1v1h-1zM724 384h1v1h-1zM726 384h1v1h-1zM728 384h1v1h-1zM730 384h1v1h-1zM732 384h1v1h-1zM734 384h1v1h-1zM736 384h1v1h-1zM738 384h1v1h-1zM740 384h1v1h-1zM742 384h1v1h-1zM744 384h1v1h-1zM746 384h1v1h-1zM748 384h1v1h-1zM750 384h1v1h-1zM752 384h1v1h-1zM754 384h1v1h-1zM756 384h1v1h-1zM758 384h1v1h-1zM760 384h1v1h-1zM762 384h1v1h-1zM764 384h1v1h-1zM766 384h1v1h-1zM768 384h1v1h-1zM770 384h1v1h-1zM772 384h1v1h-1zM774 384h1v1h-1zM776 384h1v1h-1zM778 384h1v1h-1zM780 384h1v1h-1zM782 384h1v1h-1zM784 384h1v1h-1zM786 384h1v1h-1zM788 384h1v1h-1zM790 384h1v1h-1zM792 384h1v1h-1zM794 384h1v1h-1zM796 384h1v1h-1zM798 384h1v1h-1zM800 384h1v1h-1zM802 384h1v1h-1zM804 384h1v1h-1zM806 384h1v1h-1zM808 384h1v1h-1zM810 384h1v1h-1zM812 384h1v1h-1zM814 384h1v1h-1zM816 384h1v1h-1zM818 384h2v1h-2zM1168 384h1v2h-1zM339 385h481v1h-481zM148 386h1v2h-1zM1169 386h1v2h-1zM149 388h1v2h-1zM1168 388h1v2h-1zM148 390h1v2h-1zM1169 390h1v2h-1zM149 392h1v2h-1zM1168 392h1v2h-1zM148 394h1v2h-1zM1169 394h1v2h-1zM149 396h1v2h-1zM1168 396h1v2h-1zM148 398h1v2h-1zM1169 398h1v2h-1zM149 400h1v2h-1zM1168 400h1v2h-1zM148 402h1v2h-1zM1169 402h1v2h-1zM149 404h1v2h-1zM1168 404h1v2h-1zM148 406h1v2h-1zM1169 406h1v2h-1zM149 408h1v2h-1zM1168 408h1v2h-1zM148 410h1v2h-1zM1169 410h1v2h-1zM149 412h1v2h-1zM1168 412h1v2h-1zM148 414h1v2h-1zM1169 414h1v2h-1zM149 416h1v2h-1zM1168 416h1v2h-1zM148 418h1v2h-1zM1169 418h1v2h-1zM149 420h1v2h-1zM1168 420h1v2h-1zM148 422h1v2h-1zM1169 422h1v2h-1zM149 424h1v2h-1zM1168 424h1v2h-1zM153 425h1012v1h-1012zM148 426h1v1h-1zM1169 426h1v1h-1zM148 427h3v1h-3zM157 427h6v1h-6zM169 427h6v1h-6zM181 427h6v1h-6zM193 427h6v1h-6zM205 427h6v1h-6zM217 427h6v1h-6zM229 427h6v1h-6zM241 427h6v1h-6zM253 427h6v1h-6zM265 427h6v1h-6zM277 427h6v1h-6zM289 427h6v1h-6zM301 427h6v1h-6zM313 427h6v1h-6zM325 427h6v1h-6zM337 427h6v1h-6zM349 427h6v1h-6zM361 427h6v1h-6zM373 427h6v1h-6zM385 427h6v1h-6zM397 427h6v1h-6zM409 427h6v1h-6zM421 427h6v1h-6zM433 427h6v1h-6zM445 427h6v1h-6zM457 427h6v1h-6zM469 427h6v1h-6zM481 427h6v1h-6zM493 427h6v1h-6zM505 427h6v1h-6zM517 427h6v1h-6zM529 427h6v1h-6zM541 427h6v1h-6zM553 427h6v1h-6zM565 427h6v1h-6zM577 427h6v1h-6zM589 427h6v1h-6zM601 427h6v1h-6zM613 427h6v1h-6zM625 427h6v1h-6zM637 427h6v1h-6zM649 427h6v1h-6zM661 427h6v1h-6zM673 427h6v1h-6zM685 427h6v1h-6zM697 427h6v1h-6zM709 427h6v1h-6zM721 427h6v1h-6zM733 427h6v1h-6zM745 427h6v1h-6zM757 427h6v1h-6zM769 427h6v1h-6zM781 427h6v1h-6zM793 427h6v1h-6zM805 427h6v1h-6zM817 427h6v1h-6zM829 427h6v1h-6zM841 427h6v1h-6zM853 427h6v1h-6zM865 427h6v1h-6zM877 427h6v1h-6zM889 427h6v1h-6zM901 427h6v1h-6zM913 427h6v1h-6zM925 427h6v1h-6zM937 427h6v1h-6zM949 427h6v1h-6zM961 427h6v1h-6zM973 427h6v1h-6zM985 427h6v1h-6zM997 427h6v1h-6zM1009 427h6v1h-6zM1021 427h6v1h-6zM1033 427h6v1h-6zM1045 427h6v1h-6zM1057 427h6v1h-6zM1069 427h6v1h-6zM1081 427h6v1h-6zM1093 427h6v1h-6zM1105 427h6v1h-6zM1117 427h6v1h-6zM1129 427h6v1h-6zM1141 427h6v1h-6zM1153 427h6v1h-6zM1165 427h5v1h-5zM150 428h1v4h-1zM157 428h1v4h-1zM162 428h1v4h-1zM169 428h1v4h-1zM174 428h1v4h-1zM181 428h1v4h-1zM186 428h1v4h-1zM193 428h1v4h-1zM198 428h1v4h-1zM205 428h1v4h-1zM210 428h1v4h-1zM217 428h1v4h-1zM222 428h1v4h-1zM229 428h1v4h-1zM234 428h1v4h-1zM241 428h1v4h-1zM246 428h1v4h-1zM253 428h1v4h-1zM258 428h1v4h-1zM265 428h1v4h-1zM270 428h1v4h-1zM277 428h1v4h-1zM282 428h1v4h-1zM289 428h1v4h-1zM294 428h1v4h-1zM301 428h1v4h-1zM306 428h1v4h-1zM313 428h1v4h-1zM318 428h1v4h-1zM325 428h1v4h-1zM330 428h1v4h-1zM337 428h1v4h-1zM342 428h1v4h-1zM349 428h1v4h-1zM354 428h1v4h-1zM361 428h1v4h-1zM366 428h1v4h-1zM373 428h1v4h-1zM378 428h1v4h-1zM385 428h1v4h-1zM390 428h1v4h-1zM397 428h1v4h-1zM402 428h1v4h-1zM409 428h1v4h-1zM414 428h1v4h-1zM421 428h1v4h-1zM426 428h1v4h-1zM433 428h1v4h-1zM438 428h1v4h-1zM445 428h1v4h-1zM450 428h1v4h-1zM457 428h1v4h-1zM462 428h1v4h-1zM469 428h1v4h-1zM474 428h1v4h-1zM481 428h1v4h-1zM486 428h1v4h-1zM493 428h1v4h-1zM498 428h1v4h-1zM505 428h1v4h-1zM510 428h1v4h-1zM517 428h1v4h-1zM522 428h1v4h-1zM529 428h1v4h-1zM534 428h1v4h-1zM541 428h1v4h-1zM546 428h1v4h-1zM553 428h1v4h-1zM558 428h1v4h-1zM565 428h1v4h-1zM570 428h1v4h-1zM577 428h1v4h-1zM582 428h1v4h-1zM589 428h1v4h-1zM594 428h1v4h-1zM601 428h1v4h-1zM606 428h1v4h-1zM613 428h1v4h-1zM618 428h1v4h-1zM625 428h1v4h-1zM630 428h1v4h-1zM637 428h1v4h-1zM642 428h1v4h-1zM649 428h1v4h-1zM654 428h1v4h-1zM661 428h1v4h-1zM666 428h1v4h-1zM673 428h1v4h-1zM678 428h1v4h-1zM685 428h1v4h-1zM690 428h1v4h-1zM697 428h1v4h-1zM702 428h1v4h-1zM709 428h1v4h-1zM714 428h1v4h-1zM721 428h1v4h-1zM726 428h1v4h-1zM733 428h1v4h-1zM738 428h1v4h-1zM745 428h1v4h-1zM750 428h1v4h-1zM757 428h1v4h-1zM762 428h1v4h-1zM769 428h1v4h-1zM774 428h1v4h-1zM781 428h1v4h-1zM786 428h1v4h-1zM793 428h1v4h-1zM798 428h1v4h-1zM805 428h1v4h-1zM810 428h1v4h-1zM817 428h1v4h-1zM822 428h1v4h-1zM829 428h1v4h-1zM834 428h1v4h-1zM841 428h1v4h-1zM846 428h1v4h-1zM853 428h1v4h-1zM858 428h1v4h-1zM865 428h1v4h-1zM870 428h1v4h-1zM877 428h1v4h-1zM882 428h1v4h-1zM889 428h1v4h-1zM894 428h1v4h-1zM901 428h1v4h-1zM906 428h1v4h-1zM913 428h1v4h-1zM918 428h1v4h-1zM925 428h1v4h-1zM930 428h1v4h-1zM937 428h1v4h-1zM942 428h1v4h-1zM949 428h1v4h-1zM954 428h1v4h-1zM961 428h1v4h-1zM966 428h1v4h-1zM973 428h1v4h-1zM978 428h1v4h-1zM985 428h1v4h-1zM990 428h1v4h-1zM997 428h1v4h-1zM1002 428h1v4h-1zM1009 428h1v4h-1zM1014 428h1v4h-1zM1021 428h1v4h-1zM1026 428h1v4h-1zM1033 428h1v4h-1zM1038 428h1v4h-1zM1045 428h1v4h-1zM1050 428h1v4h-1zM1057 428h1v4h-1zM1062 428h1v4h-1zM1069 428h1v4h-1zM1074 428h1v4h-1zM1081 428h1v4h-1zM1086 428h1v4h-1zM1093 428h1v4h-1zM1098 428h1v4h-1zM1105 428h1v4h-1zM1110 428h1v4h-1zM1117 428h1v4h-1zM1122 428h1v4h-1zM1129 428h1v4h-1zM1134 428h1v4h-1zM1141 428h1v4h-1zM1146 428h1v4h-1zM1153 428h1v4h-1zM1158 428h1v4h-1zM1165 428h1v4h-1zM148 430h1v2h-1zM1169 430h1v2h-1zM149 432h2v1h-2zM157 432h6v1h-6zM169 432h6v1h-6zM181 432h6v1h-6zM193 432h6v1h-6zM205 432h6v1h-6zM217 432h6v1h-6zM229 432h6v1h-6zM241 432h6v1h-6zM253 432h6v1h-6zM265 432h6v1h-6zM277 432h6v1h-6zM289 432h6v1h-6zM301 432h6v1h-6zM313 432h6v1h-6zM325 432h6v1h-6zM337 432h6v1h-6zM349 432h6v1h-6zM361 432h6v1h-6zM373 432h6v1h-6zM385 432h6v1h-6zM397 432h6v1h-6zM409 432h6v1h-6zM421 432h6v1h-6zM433 432h6v1h-6zM445 432h6v1h-6zM457 432h6v1h-6zM469 432h6v1h-6zM481 432h6v1h-6zM493 432h6v1h-6zM505 432h6v1h-6zM517 432h6v1h-6zM529 432h6v1h-6zM541 432h6v1h-6zM553 432h6v1h-6zM565 432h6v1h-6zM577 432h6v1h-6zM589 432h6v1h-6zM601 432h6v1h-6zM613 432h6v1h-6zM625 432h6v1h-6zM637 432h6v1h-6zM649 432h6v1h-6zM661 432h6v1h-6zM673 432h6v1h-6zM685 432h6v1h-6zM697 432h6v1h-6zM709 432h6v1h-6zM721 432h6v1h-6zM733 432h6v1h-6zM745 432h6v1h-6zM757 432h6v1h-6zM769 432h6v1h-6zM781 432h6v1h-6zM793 432h6v1h-6zM805 432h6v1h-6zM817 432h6v1h-6zM829 432h6v1h-6zM841 432h6v1h-6zM853 432h6v1h-6zM865 432h6v1h-6zM877 432h6v1h-6zM889 432h6v1h-6zM901 432h6v1h-6zM913 432h6v1h-6zM925 432h6v1h-6zM937 432h6v1h-6zM949 432h6v1h-6zM961 432h6v1h-6zM973 432h6v1h-6zM985 432h6v1h-6zM997 432h6v1h-6zM1009 432h6v1h-6zM1021 432h6v1h-6zM1033 432h6v1h-6zM1045 432h6v1h-6zM1057 432h6v1h-6zM1069 432h6v1h-6zM1081 432h6v1h-6zM1093 432h6v1h-6zM1105 432h6v1h-6zM1117 432h6v1h-6zM1129 432h6v1h-6zM1141 432h6v1h-6zM1153 432h6v1h-6zM1165 432h4v1h-4zM148 434h1022v1h-1022z"/>
<path fill="#0000ff" d="M103 106h6v2h-6zM103 108h2v48h-2zM149 117h7v7h-7zM225 117h7v7h-7zM296 117h7v7h-7zM141 120h7v1h-7zM157 120h67v1h-67zM233 120h62v1h-62zM304 120h73v1h-73zM373 122h7v7h-7zM141 128h2v1h-2zM142 129h1v28h-1zM376 130h1v9h-1zM36 139h32v2h-32zM368 139h16v2h-16zM36 141h2v12h-2zM66 141h2v5h-2zM368 141h2v12h-2zM382 141h2v12h-2zM41 142h3v1h-3zM41 143h2v8h-2zM149 144h7v7h-7zM225 144h7v7h-7zM66 146h36v1h-36zM106 146h35v1h-35zM144 146h4v1h-4zM157 146h67v1h-67zM233 146h22v1h-22zM66 147h2v1h-2zM254 147h1v9h-1zM66 148h16v1h-16zM83 148h19v1h-19zM106 148h35v1h-35zM144 148h4v1h-4zM157 148h67v1h-67zM233 148h20v1h-20zM66 149h2v4h-2zM81 149h1v7h-1zM83 149h1v7h-1zM252 149h1v7h-1zM419 149h16v2h-16zM41 151h3v1h-3zM419 151h2v6h-2zM433 151h2v12h-2zM36 153h32v2h-32zM368 153h16v2h-16zM149 154h7v7h-7zM225 154h7v7h-7zM296 154h7v7h-7zM340 154h7v7h-7zM369 155h7v6h-7zM142 157h6v1h-6zM157 157h67v1h-67zM233 157h62v1h-62zM304 157h35v1h-35zM348 157h20v1h-20zM377 157h28v1h-28zM411 157h10v1h-10zM419 158h2v5h-2zM252 159h1v48h-1zM254 159h1v46h-1zM419 163h16v2h-16zM682 181h1v105h-1zM296 203h7v7h-7zM340 203h7v7h-7zM370 204h2v1h-2zM373 204h2v1h-2zM421 204h2v1h-2zM424 204h2v1h-2zM254 205h41v1h-41zM304 205h35v1h-35zM348 205h20v1h-20zM370 205h1v3h-1zM374 205h1v3h-1zM377 205h42v2h-42zM421 205h1v3h-1zM425 205h1v3h-1zM428 206h50v1h-50zM252 207h43v1h-43zM304 207h35v1h-35zM348 207h20v1h-20zM477 207h1v31h-1zM370 208h2v1h-2zM373 208h2v1h-2zM421 208h2v1h-2zM424 208h2v1h-2zM420 218h7v7h-7zM386 221h33v1h-33zM386 222h1v56h-1zM477 238h20v1h-20zM429 243h16v2h-16zM429 245h2v12h-2zM443 245h2v12h-2zM436 247h2v1h-2zM436 249h2v7h-2zM429 257h16v2h-16zM378 278h16v2h-16zM378 280h2v12h-2zM392 280h2v6h-2zM385 282h2v1h-2zM385 284h2v7h-2zM392 286h291v1h-291zM392 287h2v5h-2zM378 292h16v2h-16z"/>
<path fill="#008000" d="M303 239h32v2h-32zM303 241h2v12h-2zM333 241h2v12h-2zM339 241h8v1h-8zM306 242h19v1h-19zM339 242h1v5h-1zM346 242h1v10h-1zM306 243h1v8h-1zM336 247h1v1h-1zM338 247h2v1h-2zM339 248h1v4h-1zM306 251h19v1h-19zM339 252h8v1h-8zM303 253h32v2h-32z"/>
<path fill="#4ca64c" d="M325 242h7v1h-7zM331 243h1v2h-1zM331 249h1v2h-1zM325 251h7v1h-7z"/>
<path fill="#5a5aff" d="M60 142h3v1h-3zM61 143h2v8h-2zM60 151h3v1h-3z"/>
<path fill="#969678" d="M521 217h1v1h-1zM523 217h1v1h-1zM525 217h1v1h-1zM520 218h1v1h-1zM522 218h1v1h-1zM524 218h1v1h-1zM526 218h1v1h-1zM521 219h1v1h-1zM523 219h1v1h-1zM525 219h1v1h-1zM520 220h1v1h-1zM522 220h1v1h-1zM524 220h1v1h-1zM526 220h1v1h-1zM521 221h1v1h-1zM523 221h1v1h-1zM525 221h1v1h-1zM520 222h1v1h-1zM522 222h1v1h-1zM524 222h1v1h-1zM526 222h1v1h-1z"/>
<path fill="#9999ff" d="M58 141h8v1h-8zM58 142h2v1h-2zM63 142h3v2h-3zM58 143h3v8h-3zM64 144h2v1h-2zM65 145h1v1h-1zM65 148h1v1h-1zM64 149h2v1h-2zM63 150h3v2h-3zM58 151h2v1h-2zM58 152h8v1h-8z"/>
<path fill="#99cc99" d="M325 241h8v1h-8zM332 242h1v4h-1zM325 243h6v1h-6zM325 244h5v6h-5zM332 248h1v4h-1zM325 250h6v1h-6zM325 252h8v1h-8z"/>
<path fill="#e0e0e0" d="M149 83h151v1h-151zM332 83h16v1h-16zM357 83h46v1h-46zM412 83h757v1h-757zM151 84h6v6h-6zM163 84h6v6h-6zM175 84h6v6h-6zM187 84h6v6h-6zM199 84h6v6h-6zM211 84h6v6h-6zM223 84h6v6h-6zM235 84h6v6h-6zM247 84h6v6h-6zM259 84h6v6h-6zM271 84h6v6h-6zM283 84h6v6h-6zM295 84h5v4h-5zM332 84h5v4h-5zM343 84h5v6h-5zM357 84h4v6h-4zM367 84h6v6h-6zM379 84h6v6h-6zM391 84h6v6h-6zM415 84h6v6h-6zM427 84h6v6h-6zM439 84h6v6h-6zM451 84h6v6h-6zM463 84h6v6h-6zM475 84h6v6h-6zM487 84h6v6h-6zM499 84h6v6h-6zM511 84h6v6h-6zM523 84h6v6h-6zM535 84h6v6h-6zM547 84h6v6h-6zM559 84h6v6h-6zM571 84h6v6h-6zM583 84h6v6h-6zM595 84h6v6h-6zM607 84h6v6h-6zM619 84h6v6h-6zM631 84h6v6h-6zM643 84h6v6h-6zM655 84h6v6h-6zM667 84h6v6h-6zM679 84h6v6h-6zM691 84h6v6h-6zM703 84h6v6h-6zM715 84h6v6h-6zM727 84h6v6h-6zM739 84h6v6h-6zM751 84h6v6h-6zM763 84h6v6h-6zM775 84h6v6h-6zM787 84h6v6h-6zM799 84h6v6h-6zM811 84h6v6h-6zM823 84h6v6h-6zM835 84h6v6h-6zM847 84h6v6h-6zM859 84h6v6h-6zM871 84h6v6h-6zM883 84h6v6h-6zM895 84h6v6h-6zM907 84h6v6h-6zM919 84h6v6h-6zM931 84h6v6h-6zM943 84h6v6h-6zM955 84h6v6h-6zM967 84h6v6h-6zM979 84h6v6h-6zM991 84h6v6h-6zM1003 84h6v6h-6zM1015 84h6v6h-6zM1027 84h6v6h-6zM1039 84h6v6h-6zM1051 84h6v6h-6zM1063 84h6v6h-6zM1075 84h6v6h-6zM1087 84h6v6h-6zM1099 84h6v6h-6zM1111 84h6v6h-6zM1123 84h6v6h-6zM1135 84h6v6h-6zM1147 84h6v6h-6zM1159 84h6v6h-6zM295 88h6v2h-6zM307 88h6v2h-6zM319 88h6v2h-6zM331 88h6v2h-6zM149 90h199v1h-199zM357 90h46v1h-46zM412 90h757v1h-757zM150 91h3v25h-3zM1165 91h3v122h-3zM226 92h5v24h-5zM297 92h5v24h-5zM822 92h5v121h-5zM979 92h5v121h-5zM150 125h3v18h-3zM226 125h5v18h-5zM297 125h5v28h-5zM150 152h3v1h-3zM226 152h5v1h-5zM150 162h3v264h-3zM226 162h5v134h-5zM297 162h5v40h-5zM297 211h5v85h-5zM822 222h5v74h-5zM979 222h5v36h-5zM1165 222h3v204h-3zM979 267h5v29h-5zM226 305h5v120h-5zM297 305h5v120h-5zM822 305h5v120h-5zM979 305h5v120h-5zM149 426h1020v1h-1020zM151 427h6v6h-6zM163 427h6v6h-6zM175 427h6v6h-6zM187 427h6v6h-6zM199 427h6v6h-6zM211 427h6v6h-6zM223 427h6v6h-6zM235 427h6v6h-6zM247 427h6v6h-6zM259 427h6v6h-6zM271 427h6v6h-6zM283 427h6v6h-6zM295 427h6v6h-6zM307 427h6v6h-6zM319 427h6v6h-6zM331 427h6v6h-6zM343 427h6v6h-6zM355 427h6v6h-6zM367 427h6v6h-6zM379 427h6v6h-6zM391 427h6v6h-6zM403 427h6v6h-6zM415 427h6v6h-6zM427 427h6v6h-6zM439 427h6v6h-6zM451 427h6v6h-6zM463 427h6v6h-6zM475 427h6v6h-6zM487 427h6v6h-6zM499 427h6v6h-6zM511 427h6v6h-6zM523 427h6v6h-6zM535 427h6v6h-6zM547 427h6v6h-6zM559 427h6v6h-6zM571 427h6v6h-6zM583 427h6v6h-6zM595 427h6v6h-6zM607 427h6v6h-6zM619 427h6v6h-6zM631 427h6v6h-6zM643 427h6v6h-6zM655 427h6v6h-6zM667 427h6v6h-6zM679 427h6v6h-6zM691 427h6v6h-6zM703 427h6v6h-6zM715 427h6v6h-6zM727 427h6v6h-6zM739 427h6v6h-6zM751 427h6v6h-6zM763 427h6v6h-6zM775 427h6v6h-6zM787 427h6v6h-6zM799 427h6v6h-6zM811 427h6v6h-6zM823 427h6v6h-6zM835 427h6v6h-6zM847 427h6v6h-6zM859 427h6v6h-6zM871 427h6v6h-6zM883 427h6v6h-6zM895 427h6v6h-6zM907 427h6v6h-6zM919 427h6v6h-6zM931 427h6v6h-6zM943 427h6v6h-6zM955 427h6v6h-6zM967 427h6v6h-6zM979 427h6v6h-6zM991 427h6v6h-6zM1003 427h6v6h-6zM1015 427h6v6h-6zM1027 427h6v6h-6zM1039 427h6v6h-6zM1051 427h6v6h-6zM1063 427h6v6h-6zM1075 427h6v6h-6zM1087 427h6v6h-6zM1099 427h6v6h-6zM1111 427h6v6h-6zM1123 427h6v6h-6zM1135 427h6v6h-6zM1147 427h6v6h-6zM1159 427h6v6h-6zM149 433h1020v1h-1020z"/>
<path fill="#ff00ff" d="M363 30h52v1h-52zM363 31h1v19h-1zM394 31h2v19h-2zM414 31h1v23h-1zM365 32h28v1h-28zM397 32h16v1h-16zM365 33h1v3h-1zM371 33h2v3h-2zM392 33h1v15h-1zM397 33h1v19h-1zM412 33h1v19h-1zM368 34h1v1h-1zM367 35h3v1h-3zM365 36h8v1h-8zM365 37h1v1h-1zM371 37h2v1h-2zM365 38h8v1h-8zM365 39h1v2h-1zM371 39h2v2h-2zM365 41h8v1h-8zM365 42h1v1h-1zM371 42h2v1h-2zM365 43h8v1h-8zM365 44h1v4h-1zM367 44h3v1h-3zM371 44h2v4h-2zM368 45h1v1h-1zM365 48h28v1h-28zM300 50h52v1h-52zM363 50h33v1h-33zM300 51h1v36h-1zM331 51h2v23h-2zM351 51h1v21h-1zM395 51h1v3h-1zM302 52h28v1h-28zM334 52h16v1h-16zM397 52h16v1h-16zM302 53h1v3h-1zM308 53h2v3h-2zM329 53h1v15h-1zM334 53h1v19h-1zM349 53h1v19h-1zM305 54h1v1h-1zM395 54h20v1h-20zM304 55h3v1h-3zM406 55h2v1h-2zM302 56h8v1h-8zM407 56h2v1h-2zM302 57h1v1h-1zM308 57h2v1h-2zM406 57h2v1h-2zM302 58h8v1h-8zM407 58h2v1h-2zM302 59h1v2h-1zM308 59h2v2h-2zM406 59h2v1h-2zM407 60h2v1h-2zM302 61h8v1h-8zM406 61h2v1h-2zM302 62h1v1h-1zM308 62h2v1h-2zM407 62h2v1h-2zM302 63h8v1h-8zM406 63h2v1h-2zM302 64h1v4h-1zM304 64h3v1h-3zM308 64h2v4h-2zM407 64h2v1h-2zM305 65h1v1h-1zM406 65h2v1h-2zM407 66h2v1h-2zM406 67h2v1h-2zM302 68h28v2h-28zM407 68h2v1h-2zM406 69h2v1h-2zM302 70h1v3h-1zM308 70h2v3h-2zM329 70h1v15h-1zM407 70h2v1h-2zM305 71h1v1h-1zM406 71h2v1h-2zM304 72h3v1h-3zM334 72h16v1h-16zM351 72h3v1h-3zM407 72h2v1h-2zM302 73h8v1h-8zM351 73h1v1h-1zM353 73h1v1h-1zM406 73h2v1h-2zM302 74h1v1h-1zM308 74h2v1h-2zM331 74h23v1h-23zM407 74h2v1h-2zM302 75h8v1h-8zM331 75h1v12h-1zM341 75h3v1h-3zM345 75h3v1h-3zM349 75h3v1h-3zM353 75h1v1h-1zM406 75h2v1h-2zM302 76h1v2h-1zM308 76h2v2h-2zM351 76h3v1h-3zM407 76h2v1h-2zM350 77h2v1h-2zM353 77h1v1h-1zM406 77h2v1h-2zM302 78h8v1h-8zM351 78h3v1h-3zM407 78h2v1h-2zM302 79h1v1h-1zM308 79h2v1h-2zM350 79h2v1h-2zM353 79h1v1h-1zM406 79h2v1h-2zM302 80h8v1h-8zM351 80h3v1h-3zM407 80h2v1h-2zM302 81h1v4h-1zM304 81h3v1h-3zM308 81h2v4h-2zM350 81h2v1h-2zM353 81h1v1h-1zM406 81h2v1h-2zM305 82h1v1h-1zM349 83h7v7h-7zM404 83h7v7h-7zM302 85h28v1h-28zM300 87h32v1h-32zM351 92h3v1h-3zM407 92h2v1h-2zM350 93h2v1h-2zM353 93h1v1h-1zM406 93h2v1h-2zM351 94h3v1h-3zM407 94h2v1h-2zM350 95h2v1h-2zM353 95h1v1h-1zM406 95h2v1h-2zM351 96h3v1h-3zM407 96h2v1h-2zM350 97h2v1h-2zM353 97h1v1h-1zM406 97h2v1h-2zM351 98h3v1h-3zM407 98h2v1h-2zM350 99h2v1h-2zM353 99h1v1h-1zM406 99h2v1h-2zM351 100h3v1h-3zM407 100h2v1h-2zM350 101h2v1h-2zM353 101h1v1h-1zM406 101h2v1h-2zM351 102h3v1h-3zM407 102h2v1h-2zM350 103h2v1h-2zM353 103h1v1h-1zM406 103h2v1h-2zM351 104h3v1h-3zM407 104h2v1h-2zM350 105h2v1h-2zM353 105h1v1h-1zM406 105h2v1h-2zM351 106h3v1h-3zM407 106h2v1h-2zM350 107h2v1h-2zM353 107h1v1h-1zM406 107h2v1h-2zM351 108h3v1h-3zM407 108h2v1h-2zM350 109h2v1h-2zM353 109h1v1h-1zM406 109h2v1h-2zM351 110h3v1h-3zM407 110h2v1h-2zM350 111h2v1h-2zM353 111h1v1h-1zM406 111h2v1h-2zM351 112h3v1h-3zM407 112h2v1h-2zM350 113h2v1h-2zM353 113h1v1h-1zM406 113h2v1h-2zM351 114h3v1h-3zM407 114h2v1h-2zM350 115h2v1h-2zM353 115h1v1h-1zM406 115h2v1h-2zM351 116h3v1h-3zM407 116h2v1h-2zM350 117h2v1h-2zM353 117h1v1h-1zM406 117h2v1h-2zM351 118h3v1h-3zM407 118h2v1h-2zM406 119h2v1h-2zM407 120h2v1h-2zM349 122h7v7h-7zM404 122h7v7h-7zM351 130h3v1h-3zM407 130h2v1h-2zM350 131h2v1h-2zM353 131h1v1h-1zM406 131h2v1h-2zM351 132h3v1h-3zM407 132h2v1h-2zM350 133h2v1h-2zM353 133h1v1h-1zM406 133h2v1h-2zM351 134h3v1h-3zM407 134h2v1h-2zM350 135h2v1h-2zM353 135h1v1h-1zM406 135h2v1h-2zM351 136h3v1h-3zM407 136h2v1h-2zM350 137h2v1h-2zM353 137h1v1h-1zM406 137h2v1h-2zM351 138h3v1h-3zM407 138h2v1h-2zM350 139h2v1h-2zM353 139h1v1h-1zM351 140h3v1h-3zM404 140h7v7h-7zM350 141h2v1h-2zM353 141h1v1h-1zM351 142h3v1h-3zM350 143h2v1h-2zM353 143h1v1h-1zM351 144h3v1h-3zM350 145h2v1h-2zM353 145h1v1h-1zM351 146h3v1h-3zM660 146h2v1h-2zM663 146h3v1h-3zM667 146h3v1h-3zM671 146h3v1h-3zM707 146h3v1h-3zM711 146h3v1h-3zM715 146h3v1h-3zM719 146h3v1h-3zM723 146h3v1h-3zM350 147h2v1h-2zM353 147h1v1h-1zM661 147h3v1h-3zM665 147h3v1h-3zM669 147h3v1h-3zM673 147h1v1h-1zM706 147h2v1h-2zM709 147h3v1h-3zM713 147h3v1h-3zM717 147h3v1h-3zM721 147h3v1h-3zM725 147h1v1h-1zM351 148h3v1h-3zM407 148h2v1h-2zM660 148h2v1h-2zM663 148h3v1h-3zM667 148h3v1h-3zM671 148h3v1h-3zM707 148h3v1h-3zM711 148h3v1h-3zM715 148h3v1h-3zM719 148h3v1h-3zM723 148h3v1h-3zM350 149h2v1h-2zM353 149h1v1h-1zM406 149h2v1h-2zM661 149h3v1h-3zM665 149h3v1h-3zM669 149h3v1h-3zM673 149h1v1h-1zM706 149h2v1h-2zM709 149h3v1h-3zM713 149h3v1h-3zM717 149h3v1h-3zM721 149h3v1h-3zM725 149h1v1h-1zM351 150h3v1h-3zM407 150h2v1h-2zM660 150h2v1h-2zM663 150h1v1h-1zM723 150h3v1h-3zM350 151h2v1h-2zM353 151h1v1h-1zM406 151h2v1h-2zM661 151h3v1h-3zM722 151h2v1h-2zM725 151h1v1h-1zM351 152h3v1h-3zM407 152h2v1h-2zM660 152h2v1h-2zM663 152h1v1h-1zM723 152h3v1h-3zM350 153h2v1h-2zM353 153h1v1h-1zM406 153h2v1h-2zM661 153h3v1h-3zM722 153h2v1h-2zM725 153h1v1h-1zM351 154h3v1h-3zM407 154h2v1h-2zM660 154h2v1h-2zM663 154h1v1h-1zM723 154h3v1h-3zM350 155h2v1h-2zM353 155h1v1h-1zM406 155h2v1h-2zM661 155h3v1h-3zM722 155h2v1h-2zM725 155h1v1h-1zM407 156h2v1h-2zM660 156h2v1h-2zM663 156h1v1h-1zM723 156h3v1h-3zM406 157h2v1h-2zM661 157h3v1h-3zM722 157h2v1h-2zM725 157h1v1h-1zM407 158h2v1h-2zM660 158h2v1h-2zM663 158h1v1h-1zM723 158h3v1h-3zM350 159h2v1h-2zM353 159h1v1h-1zM406 159h2v1h-2zM661 159h3v1h-3zM722 159h2v1h-2zM725 159h1v1h-1zM351 160h3v1h-3zM407 160h2v1h-2zM660 160h2v1h-2zM663 160h1v1h-1zM723 160h3v1h-3zM350 161h2v1h-2zM353 161h1v1h-1zM368 161h16v2h-16zM406 161h2v1h-2zM661 161h3v1h-3zM720 161h16v2h-16zM351 162h3v1h-3zM407 162h2v1h-2zM660 162h2v1h-2zM663 162h1v1h-1zM350 163h2v1h-2zM353 163h1v1h-1zM368 163h2v2h-2zM382 163h2v3h-2zM406 163h2v1h-2zM661 163h3v1h-3zM720 163h2v8h-2zM734 163h2v3h-2zM351 164h3v1h-3zM407 164h2v1h-2zM660 164h2v1h-2zM663 164h1v1h-1zM727 164h2v1h-2zM350 165h2v1h-2zM353 165h3v1h-3zM357 165h3v1h-3zM361 165h3v1h-3zM365 165h5v1h-5zM371 165h10v1h-10zM385 165h3v1h-3zM389 165h3v1h-3zM393 165h3v1h-3zM397 165h3v1h-3zM401 165h2v1h-2zM406 165h2v1h-2zM661 165h3v1h-3zM726 165h4v1h-4zM737 165h3v1h-3zM741 165h3v1h-3zM745 165h2v1h-2zM351 166h3v1h-3zM355 166h3v1h-3zM359 166h3v1h-3zM363 166h3v1h-3zM367 166h3v1h-3zM372 166h8v1h-8zM382 166h4v1h-4zM387 166h3v1h-3zM391 166h3v1h-3zM395 166h3v1h-3zM399 166h3v1h-3zM407 166h2v1h-2zM419 166h16v2h-16zM638 166h16v2h-16zM660 166h2v1h-2zM663 166h1v1h-1zM725 166h6v1h-6zM734 166h4v1h-4zM739 166h3v1h-3zM743 166h3v1h-3zM350 167h2v1h-2zM353 167h3v1h-3zM357 167h3v1h-3zM361 167h3v1h-3zM365 167h5v1h-5zM373 167h6v1h-6zM382 167h2v1h-2zM385 167h3v1h-3zM389 167h3v1h-3zM393 167h3v1h-3zM397 167h3v1h-3zM401 167h2v1h-2zM406 167h2v1h-2zM661 167h3v1h-3zM724 167h8v1h-8zM734 167h2v1h-2zM737 167h3v1h-3zM741 167h3v1h-3zM745 167h2v1h-2zM351 168h3v1h-3zM355 168h3v1h-3zM359 168h3v1h-3zM363 168h3v1h-3zM367 168h3v1h-3zM374 168h4v1h-4zM382 168h4v1h-4zM387 168h3v1h-3zM391 168h3v1h-3zM395 168h3v1h-3zM399 168h3v1h-3zM407 168h3v1h-3zM411 168h3v1h-3zM415 168h3v1h-3zM419 168h2v1h-2zM433 168h2v3h-2zM638 168h2v3h-2zM652 168h2v3h-2zM660 168h2v1h-2zM663 168h1v1h-1zM723 168h10v1h-10zM734 168h4v1h-4zM739 168h3v1h-3zM743 168h3v1h-3zM368 169h2v2h-2zM375 169h2v1h-2zM382 169h2v2h-2zM399 169h1v1h-1zM401 169h2v1h-2zM406 169h2v1h-2zM409 169h3v1h-3zM413 169h3v1h-3zM417 169h4v1h-4zM645 169h2v1h-2zM661 169h3v1h-3zM734 169h2v2h-2zM743 169h1v1h-1zM745 169h2v1h-2zM399 170h3v1h-3zM407 170h3v1h-3zM411 170h3v1h-3zM415 170h3v1h-3zM419 170h2v1h-2zM422 170h10v1h-10zM644 170h4v1h-4zM743 170h3v1h-3zM368 171h16v2h-16zM399 171h1v1h-1zM401 171h2v1h-2zM418 171h3v1h-3zM423 171h8v1h-8zM433 171h3v1h-3zM437 171h3v1h-3zM441 171h3v1h-3zM445 171h3v1h-3zM449 171h3v1h-3zM453 171h3v1h-3zM457 171h3v1h-3zM461 171h3v1h-3zM465 171h3v1h-3zM469 171h3v1h-3zM473 171h3v1h-3zM477 171h3v1h-3zM481 171h3v1h-3zM485 171h3v1h-3zM489 171h3v1h-3zM493 171h3v1h-3zM497 171h3v1h-3zM501 171h3v1h-3zM505 171h3v1h-3zM509 171h3v1h-3zM513 171h3v1h-3zM517 171h3v1h-3zM521 171h3v1h-3zM525 171h3v1h-3zM529 171h3v1h-3zM533 171h3v1h-3zM537 171h3v1h-3zM541 171h3v1h-3zM545 171h3v1h-3zM549 171h3v1h-3zM553 171h3v1h-3zM557 171h3v1h-3zM561 171h3v1h-3zM565 171h3v1h-3zM569 171h3v1h-3zM573 171h3v1h-3zM577 171h3v1h-3zM581 171h3v1h-3zM585 171h3v1h-3zM621 171h3v1h-3zM625 171h3v1h-3zM629 171h3v1h-3zM633 171h3v1h-3zM637 171h3v1h-3zM643 171h6v1h-6zM652 171h4v1h-4zM657 171h3v1h-3zM661 171h3v1h-3zM665 171h3v1h-3zM669 171h3v1h-3zM720 171h16v2h-16zM743 171h1v1h-1zM745 171h2v1h-2zM399 172h3v1h-3zM419 172h2v1h-2zM424 172h6v1h-6zM433 172h5v1h-5zM439 172h3v1h-3zM443 172h3v1h-3zM447 172h3v1h-3zM451 172h3v1h-3zM455 172h3v1h-3zM459 172h3v1h-3zM463 172h3v1h-3zM467 172h3v1h-3zM471 172h3v1h-3zM475 172h3v1h-3zM479 172h3v1h-3zM483 172h3v1h-3zM487 172h3v1h-3zM491 172h3v1h-3zM495 172h3v1h-3zM499 172h3v1h-3zM503 172h3v1h-3zM507 172h3v1h-3zM511 172h3v1h-3zM515 172h3v1h-3zM519 172h3v1h-3zM523 172h3v1h-3zM527 172h3v1h-3zM531 172h3v1h-3zM535 172h3v1h-3zM539 172h3v1h-3zM543 172h3v1h-3zM547 172h3v1h-3zM551 172h3v1h-3zM555 172h3v1h-3zM559 172h3v1h-3zM563 172h3v1h-3zM567 172h3v1h-3zM571 172h3v1h-3zM575 172h3v1h-3zM579 172h3v1h-3zM583 172h3v1h-3zM587 172h1v1h-1zM620 172h2v1h-2zM623 172h3v1h-3zM627 172h3v1h-3zM631 172h3v1h-3zM635 172h5v1h-5zM642 172h8v1h-8zM652 172h2v1h-2zM655 172h3v1h-3zM659 172h3v1h-3zM663 172h3v1h-3zM667 172h3v1h-3zM671 172h2v1h-2zM743 172h3v1h-3zM399 173h1v1h-1zM401 173h2v1h-2zM418 173h3v1h-3zM425 173h4v1h-4zM433 173h3v1h-3zM437 173h3v1h-3zM441 173h3v1h-3zM445 173h3v1h-3zM449 173h3v1h-3zM453 173h3v1h-3zM457 173h3v1h-3zM461 173h3v1h-3zM465 173h3v1h-3zM469 173h3v1h-3zM473 173h3v1h-3zM477 173h3v1h-3zM481 173h3v1h-3zM485 173h3v1h-3zM489 173h3v1h-3zM493 173h3v1h-3zM497 173h3v1h-3zM501 173h3v1h-3zM505 173h3v1h-3zM509 173h3v1h-3zM513 173h3v1h-3zM517 173h3v1h-3zM521 173h3v1h-3zM525 173h3v1h-3zM529 173h3v1h-3zM533 173h3v1h-3zM537 173h3v1h-3zM541 173h3v1h-3zM545 173h3v1h-3zM549 173h3v1h-3zM553 173h3v1h-3zM557 173h3v1h-3zM561 173h3v1h-3zM565 173h3v1h-3zM569 173h3v1h-3zM573 173h3v1h-3zM577 173h3v1h-3zM581 173h3v1h-3zM585 173h3v1h-3zM621 173h3v1h-3zM625 173h3v1h-3zM629 173h3v1h-3zM633 173h3v1h-3zM637 173h3v1h-3zM641 173h10v1h-10zM652 173h4v1h-4zM657 173h3v1h-3zM661 173h3v1h-3zM665 173h3v1h-3zM669 173h3v1h-3zM743 173h1v1h-1zM745 173h2v1h-2zM399 174h3v1h-3zM419 174h2v2h-2zM426 174h2v1h-2zM433 174h2v2h-2zM638 174h2v2h-2zM652 174h2v2h-2zM671 174h2v1h-2zM743 174h3v1h-3zM399 175h1v1h-1zM401 175h2v1h-2zM661 175h3v1h-3zM670 175h2v1h-2zM743 175h1v1h-1zM745 175h2v1h-2zM399 176h3v1h-3zM419 176h16v2h-16zM638 176h16v2h-16zM660 176h2v1h-2zM663 176h1v1h-1zM671 176h3v1h-3zM743 176h3v1h-3zM399 177h1v1h-1zM401 177h2v1h-2zM661 177h3v1h-3zM670 177h2v1h-2zM673 177h1v1h-1zM743 177h1v1h-1zM745 177h2v1h-2zM399 178h3v1h-3zM660 178h2v1h-2zM663 178h1v1h-1zM671 178h3v1h-3zM743 178h3v1h-3zM399 179h1v1h-1zM401 179h2v1h-2zM661 179h3v1h-3zM743 179h1v1h-1zM745 179h2v1h-2zM399 180h3v1h-3zM660 180h2v1h-2zM663 180h1v1h-1zM743 180h3v1h-3zM399 181h1v1h-1zM401 181h2v1h-2zM661 181h3v1h-3zM743 181h1v1h-1zM745 181h2v1h-2zM399 182h3v1h-3zM660 182h2v1h-2zM663 182h1v1h-1zM743 182h3v1h-3zM399 183h1v1h-1zM401 183h2v1h-2zM661 183h3v1h-3zM743 183h1v1h-1zM745 183h2v1h-2zM399 184h3v1h-3zM660 184h2v1h-2zM663 184h1v1h-1zM743 184h3v1h-3zM399 185h1v1h-1zM401 185h2v1h-2zM661 185h3v1h-3zM743 185h1v1h-1zM745 185h2v1h-2zM399 186h3v1h-3zM660 186h2v1h-2zM663 186h1v1h-1zM743 186h3v1h-3zM399 187h1v1h-1zM401 187h2v1h-2zM661 187h3v1h-3zM743 187h1v1h-1zM745 187h2v1h-2zM399 188h3v1h-3zM660 188h2v1h-2zM663 188h1v1h-1zM743 188h3v1h-3zM399 189h1v1h-1zM401 189h2v1h-2zM661 189h3v1h-3zM743 189h1v1h-1zM745 189h2v1h-2zM399 190h3v1h-3zM660 190h2v1h-2zM663 190h1v1h-1zM743 190h3v1h-3zM399 191h1v1h-1zM401 191h2v1h-2zM500 191h25v2h-25zM661 191h3v1h-3zM743 191h1v1h-1zM745 191h2v1h-2zM399 192h3v1h-3zM568 192h2v1h-2zM571 192h3v1h-3zM575 192h3v1h-3zM579 192h3v1h-3zM583 192h3v1h-3zM587 192h1v1h-1zM660 192h2v1h-2zM663 192h1v1h-1zM743 192h3v1h-3zM399 193h1v1h-1zM401 193h2v1h-2zM500 193h4v15h-4zM523 193h2v15h-2zM569 193h3v1h-3zM573 193h3v1h-3zM577 193h3v1h-3zM581 193h3v1h-3zM585 193h3v1h-3zM661 193h3v1h-3zM743 193h1v1h-1zM745 193h2v1h-2zM399 194h3v1h-3zM568 194h2v1h-2zM660 194h2v1h-2zM663 194h1v1h-1zM743 194h3v1h-3zM399 195h1v1h-1zM401 195h2v1h-2zM569 195h1v1h-1zM661 195h3v1h-3zM743 195h1v1h-1zM745 195h2v1h-2zM399 196h3v1h-3zM568 196h2v1h-2zM660 196h2v1h-2zM663 196h1v1h-1zM743 196h3v1h-3zM399 197h1v1h-1zM401 197h2v1h-2zM569 197h1v1h-1zM661 197h3v1h-3zM743 197h1v1h-1zM745 197h2v1h-2zM399 198h3v1h-3zM568 198h2v1h-2zM660 198h2v1h-2zM663 198h1v1h-1zM743 198h3v1h-3zM399 199h1v1h-1zM401 199h2v1h-2zM569 199h1v1h-1zM661 199h3v1h-3zM743 199h1v1h-1zM745 199h2v1h-2zM399 200h3v1h-3zM568 200h2v1h-2zM660 200h2v1h-2zM663 200h1v1h-1zM743 200h3v1h-3zM399 201h1v1h-1zM401 201h2v1h-2zM569 201h1v1h-1zM661 201h3v1h-3zM743 201h1v1h-1zM745 201h2v1h-2zM399 202h3v1h-3zM568 202h2v1h-2zM660 202h2v1h-2zM663 202h1v1h-1zM743 202h3v1h-3zM399 203h1v1h-1zM401 203h2v1h-2zM569 203h1v1h-1zM661 203h3v1h-3zM743 203h1v1h-1zM745 203h2v1h-2zM568 204h2v1h-2zM660 204h2v1h-2zM663 204h1v1h-1zM743 204h3v1h-3zM569 205h1v1h-1zM661 205h3v1h-3zM743 205h1v1h-1zM745 205h2v1h-2zM568 206h2v1h-2zM660 206h2v1h-2zM663 206h1v1h-1zM743 206h3v1h-3zM569 207h1v1h-1zM661 207h3v1h-3zM743 207h1v1h-1zM745 207h2v1h-2zM500 208h25v2h-25zM568 208h2v1h-2zM660 208h2v1h-2zM663 208h1v1h-1zM743 208h3v1h-3zM399 209h1v1h-1zM401 209h2v1h-2zM569 209h1v1h-1zM661 209h3v1h-3zM743 209h1v1h-1zM745 209h2v1h-2zM399 210h3v1h-3zM512 210h2v1h-2zM568 210h2v1h-2zM660 210h2v1h-2zM663 210h1v1h-1zM743 210h3v1h-3zM399 211h1v1h-1zM401 211h2v1h-2zM513 211h1v1h-1zM569 211h1v1h-1zM661 211h3v1h-3zM743 211h1v1h-1zM745 211h2v1h-2zM399 212h3v1h-3zM512 212h2v1h-2zM568 212h2v1h-2zM660 212h2v1h-2zM663 212h1v1h-1zM743 212h3v1h-3zM399 213h1v1h-1zM401 213h2v1h-2zM513 213h1v1h-1zM569 213h1v1h-1zM661 213h3v1h-3zM743 213h1v1h-1zM745 213h2v1h-2zM399 214h3v1h-3zM568 214h2v1h-2zM660 214h2v1h-2zM663 214h1v1h-1zM743 214h3v1h-3zM812 214h7v7h-7zM821 214h7v7h-7zM978 214h7v7h-7zM1162 214h7v7h-7zM399 215h1v1h-1zM401 215h2v1h-2zM569 215h1v1h-1zM661 215h3v1h-3zM743 215h1v1h-1zM745 215h3v1h-3zM749 215h3v1h-3zM753 215h3v1h-3zM757 215h3v1h-3zM761 215h3v1h-3zM765 215h3v1h-3zM769 215h3v1h-3zM773 215h3v1h-3zM777 215h3v1h-3zM781 215h3v1h-3zM785 215h3v1h-3zM789 215h3v1h-3zM793 215h3v1h-3zM797 215h3v1h-3zM801 215h3v1h-3zM805 215h3v1h-3zM809 215h2v1h-2zM829 215h3v1h-3zM833 215h3v1h-3zM837 215h3v1h-3zM841 215h3v1h-3zM845 215h3v1h-3zM849 215h3v1h-3zM853 215h3v1h-3zM857 215h3v1h-3zM861 215h3v1h-3zM865 215h3v1h-3zM869 215h3v1h-3zM873 215h3v1h-3zM877 215h3v1h-3zM881 215h3v1h-3zM885 215h3v1h-3zM889 215h3v1h-3zM893 215h3v1h-3zM897 215h3v1h-3zM901 215h3v1h-3zM905 215h3v1h-3zM909 215h3v1h-3zM913 215h3v1h-3zM917 215h3v1h-3zM921 215h3v1h-3zM925 215h3v1h-3zM929 215h3v1h-3zM933 215h3v1h-3zM937 215h3v1h-3zM941 215h3v1h-3zM945 215h3v1h-3zM949 215h3v1h-3zM953 215h3v1h-3zM957 215h3v1h-3zM961 215h3v1h-3zM965 215h3v1h-3zM969 215h3v1h-3zM973 215h3v1h-3zM986 215h2v1h-2zM989 215h3v1h-3zM993 215h3v1h-3zM997 215h3v1h-3zM1001 215h3v1h-3zM1005 215h3v1h-3zM1009 215h3v1h-3zM1013 215h3v1h-3zM1017 215h3v1h-3zM1021 215h3v1h-3zM1025 215h3v1h-3zM1029 215h3v1h-3zM1033 215h3v1h-3zM1037 215h3v1h-3zM1041 215h3v1h-3zM1045 215h3v1h-3zM1049 215h3v1h-3zM1053 215h3v1h-3zM1057 215h3v1h-3zM1061 215h3v1h-3zM1065 215h3v1h-3zM1069 215h3v1h-3zM1073 215h3v1h-3zM1077 215h3v1h-3zM1081 215h3v1h-3zM1085 215h3v1h-3zM1089 215h3v1h-3zM1093 215h3v1h-3zM1097 215h3v1h-3zM1101 215h3v1h-3zM1105 215h3v1h-3zM1109 215h3v1h-3zM1113 215h3v1h-3zM1117 215h3v1h-3zM1121 215h3v1h-3zM1125 215h3v1h-3zM1129 215h3v1h-3zM1133 215h3v1h-3zM1137 215h3v1h-3zM1141 215h3v1h-3zM1145 215h3v1h-3zM1149 215h3v1h-3zM1153 215h3v1h-3zM1157 215h3v1h-3zM399 216h3v1h-3zM568 216h2v1h-2zM660 216h2v1h-2zM663 216h1v1h-1zM743 216h3v1h-3zM747 216h3v1h-3zM751 216h3v1h-3zM755 216h3v1h-3zM759 216h3v1h-3zM763 216h3v1h-3zM767 216h3v1h-3zM771 216h3v1h-3zM775 216h3v1h-3zM779 216h3v1h-3zM783 216h3v1h-3zM787 216h3v1h-3zM791 216h3v1h-3zM795 216h3v1h-3zM799 216h3v1h-3zM803 216h3v1h-3zM807 216h3v1h-3zM829 216h1v1h-1zM831 216h3v1h-3zM835 216h3v1h-3zM839 216h3v1h-3zM843 216h3v1h-3zM847 216h3v1h-3zM851 216h3v1h-3zM855 216h3v1h-3zM859 216h3v1h-3zM863 216h3v1h-3zM867 216h3v1h-3zM871 216h3v1h-3zM875 216h3v1h-3zM879 216h3v1h-3zM883 216h3v1h-3zM887 216h3v1h-3zM891 216h3v1h-3zM895 216h3v1h-3zM899 216h3v1h-3zM903 216h3v1h-3zM907 216h3v1h-3zM911 216h3v1h-3zM915 216h3v1h-3zM919 216h3v1h-3zM923 216h3v1h-3zM927 216h3v1h-3zM931 216h3v1h-3zM935 216h3v1h-3zM939 216h3v1h-3zM943 216h3v1h-3zM947 216h3v1h-3zM951 216h3v1h-3zM955 216h3v1h-3zM959 216h3v1h-3zM963 216h3v1h-3zM967 216h3v1h-3zM971 216h3v1h-3zM975 216h2v1h-2zM987 216h3v1h-3zM991 216h3v1h-3zM995 216h3v1h-3zM999 216h3v1h-3zM1003 216h3v1h-3zM1007 216h3v1h-3zM1011 216h3v1h-3zM1015 216h3v1h-3zM1019 216h3v1h-3zM1023 216h3v1h-3zM1027 216h3v1h-3zM1031 216h3v1h-3zM1035 216h3v1h-3zM1039 216h3v1h-3zM1043 216h3v1h-3zM1047 216h3v1h-3zM1051 216h3v1h-3zM1055 216h3v1h-3zM1059 216h3v1h-3zM1063 216h3v1h-3zM1067 216h3v1h-3zM1071 216h3v1h-3zM1075 216h3v1h-3zM1079 216h3v1h-3zM1083 216h3v1h-3zM1087 216h3v1h-3zM1091 216h3v1h-3zM1095 216h3v1h-3zM1099 216h3v1h-3zM1103 216h3v1h-3zM1107 216h3v1h-3zM1111 216h3v1h-3zM1115 216h3v1h-3zM1119 216h3v1h-3zM1123 216h3v1h-3zM1127 216h3v1h-3zM1131 216h3v1h-3zM1135 216h3v1h-3zM1139 216h3v1h-3zM1143 216h3v1h-3zM1147 216h3v1h-3zM1151 216h3v1h-3zM1155 216h3v1h-3zM1159 216h2v1h-2zM399 217h1v1h-1zM401 217h2v1h-2zM569 217h1v1h-1zM661 217h3v1h-3zM743 217h1v1h-1zM745 217h3v1h-3zM749 217h3v1h-3zM753 217h3v1h-3zM757 217h3v1h-3zM761 217h3v1h-3zM765 217h3v1h-3zM769 217h3v1h-3zM773 217h3v1h-3zM777 217h3v1h-3zM781 217h3v1h-3zM785 217h3v1h-3zM789 217h3v1h-3zM793 217h3v1h-3zM797 217h3v1h-3zM801 217h3v1h-3zM805 217h3v1h-3zM809 217h2v1h-2zM829 217h3v1h-3zM833 217h3v1h-3zM837 217h3v1h-3zM841 217h3v1h-3zM845 217h3v1h-3zM849 217h3v1h-3zM853 217h3v1h-3zM857 217h3v1h-3zM861 217h3v1h-3zM865 217h3v1h-3zM869 217h3v1h-3zM873 217h3v1h-3zM877 217h3v1h-3zM881 217h3v1h-3zM885 217h3v1h-3zM889 217h3v1h-3zM893 217h3v1h-3zM897 217h3v1h-3zM901 217h3v1h-3zM905 217h3v1h-3zM909 217h3v1h-3zM913 217h3v1h-3zM917 217h3v1h-3zM921 217h3v1h-3zM925 217h3v1h-3zM929 217h3v1h-3zM933 217h3v1h-3zM937 217h3v1h-3zM941 217h3v1h-3zM945 217h3v1h-3zM949 217h3v1h-3zM953 217h3v1h-3zM957 217h3v1h-3zM961 217h3v1h-3zM965 217h3v1h-3zM969 217h3v1h-3zM973 217h3v1h-3zM986 217h2v1h-2zM989 217h3v1h-3zM993 217h3v1h-3zM997 217h3v1h-3zM1001 217h3v1h-3zM1005 217h3v1h-3zM1009 217h3v1h-3zM1013 217h3v1h-3zM1017 217h3v1h-3zM1021 217h3v1h-3zM1025 217h3v1h-3zM1029 217h3v1h-3zM1033 217h3v1h-3zM1037 217h3v1h-3zM1041 217h3v1h-3zM1045 217h3v1h-3zM1049 217h3v1h-3zM1053 217h3v1h-3zM1057 217h3v1h-3zM1061 217h3v1h-3zM1065 217h3v1h-3zM1069 217h3v1h-3zM1073 217h3v1h-3zM1077 217h3v1h-3zM1081 217h3v1h-3zM1085 217h3v1h-3zM1089 217h3v1h-3zM1093 217h3v1h-3zM1097 217h3v1h-3zM1101 217h3v1h-3zM1105 217h3v1h-3zM1109 217h3v1h-3zM1113 217h3v1h-3zM1117 217h3v1h-3zM1121 217h3v1h-3zM1125 217h3v1h-3zM1129 217h3v1h-3zM1133 217h3v1h-3zM1137 217h3v1h-3zM1141 217h3v1h-3zM1145 217h3v1h-3zM1149 217h3v1h-3zM1153 217h3v1h-3zM1157 217h3v1h-3zM399 218h3v1h-3zM568 218h2v1h-2zM660 218h2v1h-2zM663 218h1v1h-1zM743 218h3v1h-3zM747 218h3v1h-3zM751 218h3v1h-3zM755 218h3v1h-3zM759 218h3v1h-3zM763 218h3v1h-3zM767 218h3v1h-3zM771 218h3v1h-3zM775 218h3v1h-3zM779 218h3v1h-3zM783 218h3v1h-3zM787 218h3v1h-3zM791 218h3v1h-3zM795 218h3v1h-3zM799 218h3v1h-3zM803 218h3v1h-3zM807 218h3v1h-3zM829 218h1v1h-1zM831 218h3v1h-3zM835 218h3v1h-3zM839 218h3v1h-3zM843 218h3v1h-3zM847 218h3v1h-3zM851 218h3v1h-3zM855 218h3v1h-3zM859 218h3v1h-3zM863 218h3v1h-3zM867 218h3v1h-3zM871 218h3v1h-3zM875 218h3v1h-3zM879 218h3v1h-3zM883 218h3v1h-3zM887 218h3v1h-3zM891 218h3v1h-3zM895 218h3v1h-3zM899 218h3v1h-3zM903 218h3v1h-3zM907 218h3v1h-3zM911 218h3v1h-3zM915 218h3v1h-3zM919 218h3v1h-3zM923 218h3v1h-3zM927 218h3v1h-3zM931 218h3v1h-3zM935 218h3v1h-3zM939 218h3v1h-3zM943 218h3v1h-3zM947 218h3v1h-3zM951 218h3v1h-3zM955 218h3v1h-3zM959 218h3v1h-3zM963 218h3v1h-3zM967 218h3v1h-3zM971 218h3v1h-3zM975 218h2v1h-2zM987 218h3v1h-3zM991 218h3v1h-3zM995 218h3v1h-3zM999 218h3v1h-3zM1003 218h3v1h-3zM1007 218h3v1h-3zM1011 218h3v1h-3zM1015 218h3v1h-3zM1019 218h3v1h-3zM1023 218h3v1h-3zM1027 218h3v1h-3zM1031 218h3v1h-3zM1035 218h3v1h-3zM1039 218h3v1h-3zM1043 218h3v1h-3zM1047 218h3v1h-3zM1051 218h3v1h-3zM1055 218h3v1h-3zM1059 218h3v1h-3zM1063 218h3v1h-3zM1067 218h3v1h-3zM1071 218h3v1h-3zM1075 218h3v1h-3zM1079 218h3v1h-3zM1083 218h3v1h-3zM1087 218h3v1h-3zM1091 218h3v1h-3zM1095 218h3v1h-3zM1099 218h3v1h-3zM1103 218h3v1h-3zM1107 218h3v1h-3zM1111 218h3v1h-3zM1115 218h3v1h-3zM1119 218h3v1h-3zM1123 218h3v1h-3zM1127 218h3v1h-3zM1131 218h3v1h-3zM1135 218h3v1h-3zM1139 218h3v1h-3zM1143 218h3v1h-3zM1147 218h3v1h-3zM1151 218h3v1h-3zM1155 218h3v1h-3zM1159 218h2v1h-2zM399 219h1v1h-1zM401 219h2v1h-2zM529 219h3v1h-3zM533 219h3v1h-3zM537 219h3v1h-3zM541 219h3v1h-3zM545 219h3v1h-3zM549 219h3v1h-3zM553 219h3v1h-3zM557 219h3v1h-3zM561 219h3v1h-3zM565 219h3v1h-3zM569 219h1v1h-1zM661 219h3v1h-3zM529 220h1v1h-1zM531 220h3v1h-3zM535 220h3v1h-3zM539 220h3v1h-3zM543 220h3v1h-3zM547 220h3v1h-3zM551 220h3v1h-3zM555 220h3v1h-3zM559 220h3v1h-3zM563 220h3v1h-3zM567 220h3v1h-3zM660 220h2v1h-2zM663 220h1v1h-1zM661 221h3v1h-3zM660 222h2v1h-2zM663 222h1v1h-1zM399 223h1v1h-1zM401 223h2v1h-2zM661 223h3v1h-3zM399 224h3v1h-3zM660 224h2v1h-2zM663 224h1v1h-1zM399 225h1v1h-1zM401 225h2v1h-2zM661 225h3v1h-3zM399 226h3v1h-3zM660 226h2v1h-2zM663 226h1v1h-1zM399 227h1v1h-1zM401 227h2v1h-2zM661 227h3v1h-3zM399 228h3v1h-3zM660 228h2v1h-2zM663 228h1v1h-1zM399 229h1v1h-1zM401 229h2v1h-2zM661 229h3v1h-3zM399 230h3v1h-3zM660 230h2v1h-2zM663 230h1v1h-1zM399 231h1v1h-1zM401 231h2v1h-2zM661 231h3v1h-3zM399 232h3v1h-3zM660 232h2v1h-2zM663 232h1v1h-1zM399 233h1v1h-1zM401 233h2v1h-2zM661 233h3v1h-3zM399 234h3v1h-3zM660 234h2v1h-2zM663 234h1v1h-1zM399 235h1v1h-1zM401 235h2v1h-2zM661 235h3v1h-3zM399 236h3v1h-3zM660 236h2v1h-2zM663 236h1v1h-1zM399 237h1v1h-1zM401 237h2v1h-2zM661 237h3v1h-3zM399 238h3v1h-3zM660 238h2v1h-2zM663 238h1v1h-1zM399 239h1v1h-1zM401 239h2v1h-2zM661 239h3v1h-3zM399 240h3v1h-3zM660 240h2v1h-2zM663 240h1v1h-1zM399 241h1v1h-1zM401 241h2v1h-2zM661 241h3v1h-3zM399 242h3v1h-3zM660 242h2v1h-2zM663 242h1v1h-1zM399 243h1v1h-1zM401 243h2v1h-2zM661 243h3v1h-3zM399 244h3v1h-3zM660 244h2v1h-2zM663 244h1v1h-1zM399 245h1v1h-1zM401 245h2v1h-2zM661 245h3v1h-3zM399 246h3v1h-3zM660 246h2v1h-2zM663 246h1v1h-1zM399 247h1v1h-1zM401 247h2v1h-2zM661 247h3v1h-3zM399 248h3v1h-3zM660 248h2v1h-2zM663 248h1v1h-1zM399 249h1v1h-1zM401 249h2v1h-2zM661 249h3v1h-3zM399 250h3v1h-3zM660 250h2v1h-2zM663 250h1v1h-1zM399 251h1v1h-1zM401 251h2v1h-2zM661 251h3v1h-3zM399 252h3v1h-3zM660 252h2v1h-2zM663 252h1v1h-1zM399 253h1v1h-1zM401 253h2v1h-2zM661 253h3v1h-3zM399 254h3v1h-3zM660 254h2v1h-2zM663 254h1v1h-1zM399 255h1v1h-1zM401 255h2v1h-2zM661 255h3v1h-3zM399 256h3v1h-3zM660 256h2v1h-2zM663 256h1v1h-1zM399 257h1v1h-1zM401 257h2v1h-2zM661 257h3v1h-3zM399 258h3v1h-3zM660 258h2v1h-2zM663 258h1v1h-1zM399 259h1v1h-1zM401 259h2v1h-2zM661 259h3v1h-3zM399 260h3v1h-3zM660 260h2v1h-2zM663 260h1v1h-1zM399 261h1v1h-1zM401 261h2v1h-2zM661 261h3v1h-3zM399 262h3v1h-3zM660 262h2v1h-2zM663 262h1v1h-1zM399 263h1v1h-1zM401 263h2v1h-2zM661 263h3v1h-3zM399 264h3v1h-3zM660 264h2v1h-2zM663 264h1v1h-1zM399 265h1v1h-1zM401 265h2v1h-2zM661 265h3v1h-3zM399 266h3v1h-3zM660 266h2v1h-2zM663 266h1v1h-1zM399 267h1v1h-1zM401 267h2v1h-2zM661 267h3v1h-3zM399 268h3v1h-3zM660 268h2v1h-2zM663 268h1v1h-1zM399 269h1v1h-1zM401 269h2v1h-2zM661 269h3v1h-3zM399 270h3v1h-3zM660 270h2v1h-2zM663 270h1v1h-1zM399 271h1v1h-1zM401 271h2v1h-2zM661 271h3v1h-3zM399 272h3v1h-3zM403 272h3v1h-3zM407 272h3v1h-3zM411 272h3v1h-3zM415 272h3v1h-3zM419 272h3v1h-3zM423 272h3v1h-3zM427 272h3v1h-3zM431 272h3v1h-3zM435 272h3v1h-3zM439 272h3v1h-3zM443 272h3v1h-3zM447 272h3v1h-3zM451 272h3v1h-3zM455 272h3v1h-3zM459 272h3v1h-3zM463 272h3v1h-3zM467 272h3v1h-3zM471 272h3v1h-3zM475 272h3v1h-3zM479 272h3v1h-3zM483 272h3v1h-3zM487 272h3v1h-3zM491 272h3v1h-3zM495 272h3v1h-3zM499 272h3v1h-3zM503 272h3v1h-3zM507 272h3v1h-3zM511 272h3v1h-3zM515 272h3v1h-3zM519 272h3v1h-3zM523 272h3v1h-3zM527 272h3v1h-3zM531 272h3v1h-3zM535 272h3v1h-3zM539 272h3v1h-3zM543 272h3v1h-3zM547 272h3v1h-3zM551 272h3v1h-3zM555 272h3v1h-3zM559 272h3v1h-3zM563 272h3v1h-3zM567 272h3v1h-3zM571 272h3v1h-3zM575 272h3v1h-3zM579 272h3v1h-3zM583 272h3v1h-3zM587 272h3v1h-3zM591 272h3v1h-3zM595 272h3v1h-3zM599 272h3v1h-3zM603 272h3v1h-3zM607 272h3v1h-3zM611 272h3v1h-3zM615 272h3v1h-3zM619 272h3v1h-3zM623 272h3v1h-3zM627 272h3v1h-3zM631 272h3v1h-3zM635 272h3v1h-3zM639 272h3v1h-3zM643 272h3v1h-3zM647 272h3v1h-3zM651 272h3v1h-3zM655 272h3v1h-3zM659 272h3v1h-3zM663 272h1v1h-1zM399 273h1v1h-1zM401 273h3v1h-3zM405 273h3v1h-3zM409 273h3v1h-3zM413 273h3v1h-3zM417 273h3v1h-3zM421 273h3v1h-3zM425 273h3v1h-3zM429 273h3v1h-3zM433 273h3v1h-3zM437 273h3v1h-3zM441 273h3v1h-3zM445 273h3v1h-3zM449 273h3v1h-3zM453 273h3v1h-3zM457 273h3v1h-3zM461 273h3v1h-3zM465 273h3v1h-3zM469 273h3v1h-3zM473 273h3v1h-3zM477 273h3v1h-3zM481 273h3v1h-3zM485 273h3v1h-3zM489 273h3v1h-3zM493 273h3v1h-3zM497 273h3v1h-3zM501 273h3v1h-3zM505 273h3v1h-3zM509 273h3v1h-3zM513 273h3v1h-3zM517 273h3v1h-3zM521 273h3v1h-3zM525 273h3v1h-3zM529 273h3v1h-3zM533 273h3v1h-3zM537 273h3v1h-3zM541 273h3v1h-3zM545 273h3v1h-3zM549 273h3v1h-3zM553 273h3v1h-3zM557 273h3v1h-3zM561 273h3v1h-3zM565 273h3v1h-3zM569 273h3v1h-3zM573 273h3v1h-3zM577 273h3v1h-3zM581 273h3v1h-3zM585 273h3v1h-3zM589 273h3v1h-3zM593 273h3v1h-3zM597 273h3v1h-3zM601 273h3v1h-3zM605 273h3v1h-3zM609 273h3v1h-3zM613 273h3v1h-3zM617 273h3v1h-3zM621 273h3v1h-3zM625 273h3v1h-3zM629 273h3v1h-3zM633 273h3v1h-3zM637 273h3v1h-3zM641 273h3v1h-3zM645 273h3v1h-3zM649 273h3v1h-3zM653 273h3v1h-3zM657 273h3v1h-3zM661 273h3v1h-3zM399 274h3v1h-3zM403 274h3v1h-3zM407 274h3v1h-3zM411 274h3v1h-3zM415 274h3v1h-3zM419 274h3v1h-3zM423 274h3v1h-3zM427 274h3v1h-3zM431 274h3v1h-3zM435 274h3v1h-3zM439 274h3v1h-3zM443 274h3v1h-3zM447 274h3v1h-3zM451 274h3v1h-3zM455 274h3v1h-3zM459 274h3v1h-3zM463 274h3v1h-3zM467 274h3v1h-3zM471 274h3v1h-3zM475 274h3v1h-3zM479 274h3v1h-3zM483 274h3v1h-3zM487 274h3v1h-3zM491 274h3v1h-3zM495 274h3v1h-3zM499 274h3v1h-3zM503 274h3v1h-3zM507 274h3v1h-3zM511 274h3v1h-3zM515 274h3v1h-3zM519 274h3v1h-3zM523 274h3v1h-3zM527 274h3v1h-3zM531 274h3v1h-3zM535 274h3v1h-3zM539 274h3v1h-3zM543 274h3v1h-3zM547 274h3v1h-3zM551 274h3v1h-3zM555 274h3v1h-3zM559 274h3v1h-3zM563 274h3v1h-3zM567 274h3v1h-3zM571 274h3v1h-3zM575 274h3v1h-3zM579 274h3v1h-3zM583 274h3v1h-3zM587 274h3v1h-3zM591 274h3v1h-3zM595 274h3v1h-3zM599 274h3v1h-3zM603 274h3v1h-3zM607 274h3v1h-3zM611 274h3v1h-3zM615 274h3v1h-3zM619 274h3v1h-3zM623 274h3v1h-3zM627 274h3v1h-3zM631 274h3v1h-3zM635 274h3v1h-3zM639 274h3v1h-3zM643 274h3v1h-3zM647 274h3v1h-3zM651 274h3v1h-3zM655 274h3v1h-3zM659 274h3v1h-3zM663 274h1v1h-1zM399 275h1v1h-1zM401 275h3v1h-3zM405 275h3v1h-3zM409 275h3v1h-3zM413 275h3v1h-3zM417 275h3v1h-3zM421 275h3v1h-3zM425 275h3v1h-3zM429 275h3v1h-3zM433 275h3v1h-3zM437 275h3v1h-3zM441 275h3v1h-3zM445 275h3v1h-3zM449 275h3v1h-3zM453 275h3v1h-3zM457 275h3v1h-3zM461 275h3v1h-3zM465 275h3v1h-3zM469 275h3v1h-3zM473 275h3v1h-3zM477 275h3v1h-3zM481 275h3v1h-3zM485 275h3v1h-3zM489 275h3v1h-3zM493 275h3v1h-3zM497 275h3v1h-3zM501 275h3v1h-3zM505 275h3v1h-3zM509 275h3v1h-3zM513 275h3v1h-3zM517 275h3v1h-3zM521 275h3v1h-3zM525 275h3v1h-3zM529 275h3v1h-3zM533 275h3v1h-3zM537 275h3v1h-3zM541 275h3v1h-3zM545 275h3v1h-3zM549 275h3v1h-3zM553 275h3v1h-3zM557 275h3v1h-3zM561 275h3v1h-3zM565 275h3v1h-3zM569 275h3v1h-3zM573 275h3v1h-3zM577 275h3v1h-3zM581 275h3v1h-3zM585 275h3v1h-3zM589 275h3v1h-3zM593 275h3v1h-3zM597 275h3v1h-3zM601 275h3v1h-3zM605 275h3v1h-3zM609 275h3v1h-3zM613 275h3v1h-3zM617 275h3v1h-3zM621 275h3v1h-3zM625 275h3v1h-3zM629 275h3v1h-3zM633 275h3v1h-3zM637 275h3v1h-3zM641 275h3v1h-3zM645 275h3v1h-3zM649 275h3v1h-3zM653 275h3v1h-3zM657 275h3v1h-3zM661 275h3v1h-3z"/>
<path fill="#ff8000" d="M1098 252h32v1h-32zM1098 253h1v8h-1zM1129 253h1v14h-1zM1101 255h26v1h-26zM985 256h83v1h-83zM1101 256h2v1h-2zM1126 256h1v8h-1zM1101 257h1v6h-1zM978 259h7v7h-7zM1089 261h10v1h-10zM976 262h1v1h-1zM1098 262h1v5h-1zM1101 263h2v1h-2zM1101 264h26v1h-26zM1098 267h32v1h-32zM1073 270h1v30h-1zM225 297h7v7h-7zM296 297h7v7h-7zM821 297h7v7h-7zM978 297h7v7h-7zM205 300h19v1h-19zM233 300h62v1h-62zM304 300h35v1h-35zM829 300h148v1h-148zM986 300h88v1h-88z"/>
<path fill="#ff99ff" d="M398 33h14v2h-14zM398 35h4v15h-4zM410 35h2v15h-2zM398 50h14v2h-14zM335 53h14v2h-14zM335 55h4v15h-4zM347 55h2v15h-2zM335 70h14v2h-14z"/>
<path fill="#ffcc99" d="M1099 254h9v1h-9zM1099 255h2v10h-2zM1103 256h5v2h-5zM1104 258h4v1h-4zM1105 259h3v2h-3zM1104 261h4v1h-4zM1103 262h5v2h-5zM1099 265h9v1h-9z"/>
<path fill="#ffffcc" d="M19 96h56v15h-56zM110 99h30v1h-30zM110 100h2v13h-2zM121 100h19v2h-19zM113 101h3v3h-3zM117 101h3v3h-3zM123 102h17v4h-17zM121 103h1v3h-1zM113 105h3v3h-3zM117 105h3v3h-3zM121 106h19v1h-19zM121 107h1v3h-1zM123 107h17v3h-17zM113 109h3v3h-3zM117 109h3v3h-3zM121 110h19v1h-19zM121 111h1v2h-1zM123 111h17v4h-17zM110 113h4v2h-4zM115 113h7v1h-7zM118 114h1v1h-1zM110 115h30v3h-30zM110 118h10v1h-10zM121 118h8v1h-8zM134 118h6v5h-6zM110 119h9v1h-9zM122 119h7v1h-7zM130 119h3v3h-3zM110 120h2v3h-2zM116 120h4v1h-4zM121 120h8v2h-8zM116 121h1v1h-1zM118 121h1v1h-1zM116 122h13v1h-13zM110 123h30v3h-30zM110 126h10v1h-10zM121 126h8v1h-8zM134 126h6v5h-6zM110 127h9v1h-9zM122 127h7v1h-7zM130 127h3v3h-3zM110 128h2v3h-2zM116 128h4v1h-4zM121 128h8v2h-8zM116 129h1v1h-1zM118 129h1v1h-1zM116 130h13v1h-13zM110 131h30v1h-30zM370 141h12v12h-12zM675 141h30v1h-30zM675 142h1v13h-1zM685 142h8v2h-8zM702 142h3v2h-3zM677 143h3v3h-3zM681 143h3v3h-3zM694 143h3v3h-3zM698 143h3v3h-3zM687 144h6v4h-6zM704 144h1v4h-1zM685 145h1v3h-1zM702 145h1v3h-1zM677 147h3v3h-3zM681 147h3v3h-3zM695 147h1v1h-1zM698 147h3v3h-3zM685 148h8v1h-8zM694 148h1v1h-1zM696 148h1v1h-1zM702 148h3v1h-3zM685 149h1v3h-1zM687 149h3v1h-3zM691 149h2v1h-2zM695 149h1v1h-1zM702 149h1v3h-1zM704 149h1v3h-1zM687 150h1v1h-1zM692 150h1v1h-1zM421 151h12v12h-12zM677 151h3v3h-3zM681 151h3v3h-3zM687 151h3v1h-3zM691 151h2v1h-2zM694 151h3v3h-3zM698 151h3v3h-3zM685 152h8v1h-8zM702 152h3v1h-3zM685 153h1v2h-1zM687 153h6v2h-6zM702 153h1v2h-1zM704 153h1v4h-1zM675 155h3v2h-3zM679 155h7v1h-7zM687 155h8v2h-8zM696 155h7v1h-7zM682 156h1v1h-1zM699 156h1v1h-1zM75 157h30v1h-30zM675 157h30v1h-30zM75 158h1v13h-1zM89 158h16v1h-16zM675 158h10v1h-10zM686 158h19v1h-19zM77 159h3v3h-3zM81 159h3v3h-3zM85 159h3v3h-3zM89 159h5v1h-5zM99 159h6v1h-6zM675 159h9v1h-9zM687 159h18v1h-18zM91 160h5v1h-5zM97 160h8v1h-8zM675 160h2v3h-2zM681 160h4v1h-4zM686 160h19v2h-19zM89 161h1v3h-1zM91 161h4v1h-4zM98 161h7v1h-7zM681 161h1v1h-1zM683 161h1v1h-1zM93 162h3v4h-3zM97 162h8v2h-8zM681 162h24v1h-24zM77 163h3v3h-3zM81 163h3v3h-3zM85 163h3v3h-3zM91 163h1v1h-1zM370 163h12v2h-12zM675 163h30v3h-30zM722 163h12v1h-12zM89 164h3v1h-3zM97 164h6v1h-6zM104 164h1v5h-1zM722 164h5v1h-5zM729 164h5v1h-5zM89 165h1v3h-1zM91 165h1v1h-1zM97 165h4v1h-4zM102 165h1v1h-1zM370 165h1v1h-1zM381 165h1v1h-1zM589 165h30v1h-30zM722 165h4v1h-4zM730 165h4v1h-4zM91 166h5v1h-5zM370 166h2v1h-2zM380 166h2v1h-2zM589 166h1v13h-1zM599 166h8v2h-8zM616 166h3v2h-3zM675 166h10v1h-10zM686 166h19v1h-19zM722 166h3v1h-3zM731 166h3v1h-3zM77 167h3v3h-3zM81 167h3v3h-3zM85 167h3v3h-3zM91 167h1v1h-1zM93 167h3v1h-3zM97 167h4v1h-4zM102 167h1v1h-1zM370 167h3v1h-3zM379 167h3v1h-3zM591 167h3v3h-3zM595 167h3v3h-3zM608 167h3v3h-3zM612 167h3v3h-3zM675 167h9v1h-9zM687 167h18v1h-18zM722 167h2v1h-2zM732 167h2v1h-2zM89 168h3v1h-3zM93 168h4v1h-4zM98 168h5v1h-5zM370 168h4v1h-4zM378 168h4v1h-4zM421 168h12v2h-12zM601 168h6v4h-6zM618 168h1v4h-1zM640 168h12v1h-12zM675 168h2v3h-2zM681 168h4v1h-4zM686 168h19v2h-19zM722 168h1v1h-1zM733 168h1v1h-1zM89 169h1v2h-1zM91 169h1v1h-1zM93 169h5v1h-5zM99 169h6v1h-6zM370 169h5v1h-5zM377 169h5v1h-5zM599 169h1v3h-1zM616 169h1v3h-1zM640 169h5v1h-5zM647 169h5v1h-5zM678 169h2v1h-2zM681 169h1v1h-1zM683 169h1v1h-1zM722 169h12v2h-12zM91 170h8v1h-8zM101 170h2v1h-2zM104 170h1v1h-1zM370 170h12v1h-12zM421 170h1v1h-1zM432 170h1v1h-1zM640 170h4v1h-4zM648 170h4v1h-4zM681 170h24v1h-24zM75 171h3v2h-3zM79 171h11v1h-11zM91 171h1v2h-1zM93 171h6v1h-6zM101 171h1v1h-1zM103 171h2v1h-2zM421 171h2v1h-2zM431 171h2v1h-2zM591 171h3v3h-3zM595 171h3v3h-3zM609 171h1v1h-1zM612 171h3v3h-3zM640 171h3v1h-3zM649 171h3v1h-3zM675 171h30v3h-30zM82 172h1v1h-1zM86 172h1v1h-1zM93 172h8v1h-8zM102 172h3v1h-3zM421 172h3v1h-3zM430 172h3v1h-3zM599 172h8v1h-8zM608 172h1v1h-1zM610 172h1v1h-1zM616 172h3v1h-3zM640 172h2v1h-2zM650 172h2v1h-2zM75 173h5v2h-5zM81 173h11v1h-11zM93 173h7v1h-7zM101 173h4v1h-4zM421 173h4v1h-4zM429 173h4v1h-4zM599 173h1v3h-1zM601 173h3v1h-3zM605 173h2v1h-2zM609 173h1v1h-1zM616 173h1v3h-1zM618 173h1v3h-1zM640 173h1v1h-1zM651 173h1v1h-1zM84 174h1v1h-1zM88 174h1v1h-1zM93 174h6v1h-6zM100 174h5v1h-5zM421 174h5v1h-5zM428 174h5v1h-5zM601 174h1v1h-1zM606 174h1v1h-1zM640 174h12v2h-12zM675 174h2v5h-2zM686 174h19v5h-19zM75 175h30v1h-30zM421 175h12v1h-12zM591 175h3v3h-3zM595 175h3v3h-3zM601 175h3v1h-3zM605 175h2v1h-2zM608 175h3v3h-3zM612 175h3v3h-3zM678 175h3v3h-3zM682 175h3v3h-3zM599 176h8v1h-8zM616 176h3v1h-3zM599 177h1v2h-1zM601 177h6v2h-6zM616 177h1v2h-1zM618 177h1v4h-1zM589 179h3v2h-3zM593 179h7v1h-7zM601 179h8v2h-8zM610 179h7v1h-7zM675 179h30v1h-30zM596 180h1v1h-1zM613 180h1v1h-1zM589 181h30v1h-30zM589 182h10v1h-10zM600 182h19v1h-19zM589 183h9v1h-9zM601 183h18v1h-18zM589 184h2v3h-2zM595 184h4v1h-4zM600 184h19v2h-19zM595 185h1v1h-1zM597 185h1v1h-1zM595 186h24v1h-24zM589 187h30v3h-30zM589 190h3v5h-3zM597 190h22v5h-22zM593 191h3v3h-3zM589 195h30v1h-30zM369 203h7v1h-7zM420 203h7v1h-7zM369 204h1v5h-1zM372 204h1v1h-1zM375 204h1v5h-1zM420 204h1v5h-1zM423 204h1v1h-1zM426 204h1v5h-1zM371 205h3v3h-3zM422 205h3v3h-3zM372 208h1v1h-1zM423 208h1v1h-1zM369 209h7v1h-7zM420 209h7v1h-7zM498 215h30v1h-30zM498 216h1v8h-1zM501 216h18v1h-18zM500 217h19v1h-19zM500 218h1v1h-1zM502 218h17v1h-17zM500 219h4v1h-4zM505 219h14v1h-14zM506 220h13v1h-13zM500 221h4v1h-4zM505 221h14v1h-14zM500 222h1v1h-1zM502 222h17v1h-17zM501 223h18v1h-18zM498 224h30v3h-30zM498 227h2v4h-2zM501 227h15v1h-15zM519 227h6v3h-6zM526 227h2v4h-2zM501 228h16v1h-16zM501 229h15v1h-15zM517 229h1v1h-1zM501 230h14v1h-14zM516 230h9v1h-9zM498 231h16v1h-16zM515 231h13v1h-13zM498 232h2v1h-2zM501 232h12v1h-12zM514 232h11v1h-11zM526 232h2v1h-2zM498 233h30v1h-30zM514 234h14v8h-14zM340 242h6v10h-6zM431 245h12v2h-12zM431 247h5v1h-5zM438 247h5v1h-5zM431 248h12v1h-12zM431 249h5v7h-5zM438 249h5v7h-5zM1069 252h1v1h-1zM1069 253h3v1h-3zM1069 254h5v1h-5zM1069 255h7v1h-7zM431 256h12v1h-12zM1069 256h9v1h-9zM1069 257h11v1h-11zM1069 258h13v1h-13zM1069 259h15v1h-15zM1069 260h17v1h-17zM1069 261h3v1h-3zM1077 261h11v1h-11zM1069 262h17v1h-17zM1069 263h15v1h-15zM1069 264h13v1h-13zM1069 265h11v1h-11zM1069 266h9v1h-9zM1069 267h7v1h-7zM1069 268h5v1h-5zM1069 269h3v1h-3zM1069 270h1v1h-1zM380 280h12v2h-12zM380 282h5v1h-5zM387 282h5v1h-5zM380 283h12v1h-12zM380 284h5v7h-5zM387 284h5v7h-5zM380 291h12v1h-12z"/>
</g>
<g>
<circle cx="82.5" cy="147.5" r="3" fill="#fff" stroke="#00f" stroke-width="1"/>
<g><clipPath id="sw173"><rect x="174" y="285" width="30" height="30"/></clipPath><g clip-path="url(#sw173)" fill="none"><circle cx="184.5" cy="314.7" r="17.4" fill="#fbfbfb" stroke="none"/><circle cx="184.5" cy="314.7" r="22.1" stroke="#7a7a7a" stroke-width="1.1"/><circle cx="184.5" cy="314.7" r="19.7" stroke="#2c2c2c" stroke-width="2.1"/><circle cx="184.5" cy="314.7" r="17.2" stroke="#b4b4b4" stroke-width=".9"/><circle cx="184.5" cy="314.7" r="15.2" stroke="#c4c4c4" stroke-width="1" stroke-dasharray="1 1.7"/><circle cx="184.5" cy="314.7" r="8.5" stroke="#c0c0c0" stroke-width="1" stroke-dasharray="1 2.3"/><path d="M177.4 285.4a7.2 7.2 0 0 0 14.4 0" stroke="#4a4a4a" stroke-width="1.6"/><path d="M180 285.4a4.6 4.6 0 0 0 9.2 0" stroke="#a8a8a8" stroke-width="1"/><rect x="183.2" y="285" width="3" height="10.6" fill="#808080"/><rect x="183.6" y="285" width="2.2" height="4.6" fill="#111"/><rect x="186.2" y="289.5" width="1" height="6" fill="#c8c8c8"/><path d="M194.6 296.4l1.2 -3.2" stroke="#444" stroke-width="2.4"/><path d="M195.8 293.4l1.6 -3.6" stroke="#cdcdcd" stroke-width="4"/><path d="M184.5 314.6L193.4 300" stroke="#c04040" stroke-width=".9"/><path d="M184.5 314.6l2.4 -3.9" stroke="#a00" stroke-width="1.5"/><path d="M188.8 307.6l1 -1.6M191 304l.8 -1.4" stroke="#4a1a1a" stroke-width="1.2"/><path d="M193 300.7l.8 -1.3" stroke="#dddd88" stroke-width="1.2"/><path d="M177.5 304.5v2.5l1 -2l1 2v-2.5M181 306h1.5M175.5 308.5v3.5M177 308.5v3.5M195.5 307.5v3.5M197 307.5v3.5M181 310l1 1.5M184.5 312h1.5M189 305l1 1M185 303h1.5" stroke="#8e8e8e" stroke-width=".9"/></g><rect x="173.5" y="284.5" width="31" height="31" fill="none" stroke="#3a3a3a" stroke-width="1"/></g>
<g><clipPath id="sw944"><rect x="945" y="248" width="30" height="30"/></clipPath><g clip-path="url(#sw944)" fill="none"><circle cx="955.5" cy="277.7" r="17.4" fill="#fbfbfb" stroke="none"/><circle cx="955.5" cy="277.7" r="22.1" stroke="#7a7a7a" stroke-width="1.1"/><circle cx="955.5" cy="277.7" r="19.7" stroke="#2c2c2c" stroke-width="2.1"/><circle cx="955.5" cy="277.7" r="17.2" stroke="#b4b4b4" stroke-width=".9"/><circle cx="955.5" cy="277.7" r="15.2" stroke="#c4c4c4" stroke-width="1" stroke-dasharray="1 1.7"/><circle cx="955.5" cy="277.7" r="8.5" stroke="#c0c0c0" stroke-width="1" stroke-dasharray="1 2.3"/><path d="M948.4 248.4a7.2 7.2 0 0 0 14.4 0" stroke="#4a4a4a" stroke-width="1.6"/><path d="M951 248.4a4.6 4.6 0 0 0 9.2 0" stroke="#a8a8a8" stroke-width="1"/><rect x="954.2" y="248" width="3" height="10.6" fill="#808080"/><rect x="954.6" y="248" width="2.2" height="4.6" fill="#111"/><rect x="957.2" y="252.5" width="1" height="6" fill="#c8c8c8"/><path d="M965.6 259.4l1.2 -3.2" stroke="#444" stroke-width="2.4"/><path d="M966.8 256.4l1.6 -3.6" stroke="#cdcdcd" stroke-width="4"/><path d="M955.5 277.6L964.4 263" stroke="#c04040" stroke-width=".9"/><path d="M955.5 277.6l2.4 -3.9" stroke="#a00" stroke-width="1.5"/><path d="M959.8 270.6l1 -1.6M962 267l.8 -1.4" stroke="#4a1a1a" stroke-width="1.2"/><path d="M964 263.7l.8 -1.3" stroke="#dddd88" stroke-width="1.2"/><path d="M948.5 267.5v2.5l1 -2l1 2v-2.5M952 269h1.5M946.5 271.5v3.5M948 271.5v3.5M966.5 270.5v3.5M968 270.5v3.5M952 273l1 1.5M955.5 275h1.5M960 268l1 1M956 266h1.5" stroke="#8e8e8e" stroke-width=".9"/></g><rect x="944.5" y="247.5" width="31" height="31" fill="none" stroke="#3a3a3a" stroke-width="1"/></g>
</g>
<g>
<text x="20.3" y="107.5" font-size="11" fill="#000" textLength="52.5" lengthAdjust="spacing">1000000x5</text>
<text x="37.3" y="135" font-size="11" fill="#000" textLength="27.5" lengthAdjust="spacing">Array</text>
<text x="39.3 43.4 48.8 54.2 58.9" y="150" font-size="9" fill="#00f" font-weight="bold" style="font-family:&quot;Liberation Mono&quot;,monospace;stroke:#00f;stroke-width:0.3px">[I32]</text>
<text x="304.3" y="235" font-size="11" fill="#000" textLength="25" lengthAdjust="spacing">shift</text>
<text x="313 320.6" y="250" font-size="9" fill="#008000" font-weight="bold" style="stroke:#008000;stroke-width:0.6px">TF</text>
<text x="311.2" y="64.7" font-size="11" fill="#000">0</text>
<text x="311.2" y="81.7" font-size="11" fill="#000">0</text>
<text x="374.2" y="44.7" font-size="11" fill="#000">0</text>
<text x="557.5" y="134" font-size="11" fill="#000" textLength="24" lengthAdjust="spacing">True</text>
<text x="504.8" y="204.8" font-size="11" fill="#000">%d</text>
<text x="507.6" y="223.9" font-size="10.5" fill="#000" style="stroke:#000;stroke-width:0.25px">%</text>
<text x="499.4" y="241.2" font-size="8" fill="#00f" font-weight="bold" style="font-family:&quot;Liberation Mono&quot;,monospace;stroke:#00f;stroke-width:0.2px" textLength="11.2" lengthAdjust="spacingAndGlyphs">I32</text>
<text x="375.9" y="151" font-size="12.4" fill="#00f" style="stroke:#00f;stroke-width:0.25px" text-anchor="middle">N</text>
<text x="386" y="291" font-size="13" fill="#00f" font-weight="bold" text-anchor="middle">i</text>
<text x="426.9" y="161" font-size="12.4" fill="#00f" style="stroke:#00f;stroke-width:0.25px" text-anchor="middle">N</text>
<text x="437" y="256" font-size="13" fill="#00f" font-weight="bold" text-anchor="middle">i</text>
<text x="343" y="250.5" font-size="10" fill="#008000" style="stroke:#008000;stroke-width:0.3px" text-anchor="middle">?</text>
<text x="1106.6" y="262.8" font-size="8.2" fill="#ff8000" font-weight="bold" style="stroke:#ff8000;stroke-width:0.6px" textLength="15.5" lengthAdjust="spacingAndGlyphs">DBL</text>
<text x="1099" y="248" font-size="11" fill="#000" textLength="14.5" lengthAdjust="spacing">x-y</text>
</g>
<g>
<path d="M48.8 112L50.9 132" stroke="#000" stroke-width="2" fill="none"/><path d="M47.9 129.4L54.3 128.7L51.6 139.3z" fill="#000"/>
</g>
</svg>
</body>
</html>
